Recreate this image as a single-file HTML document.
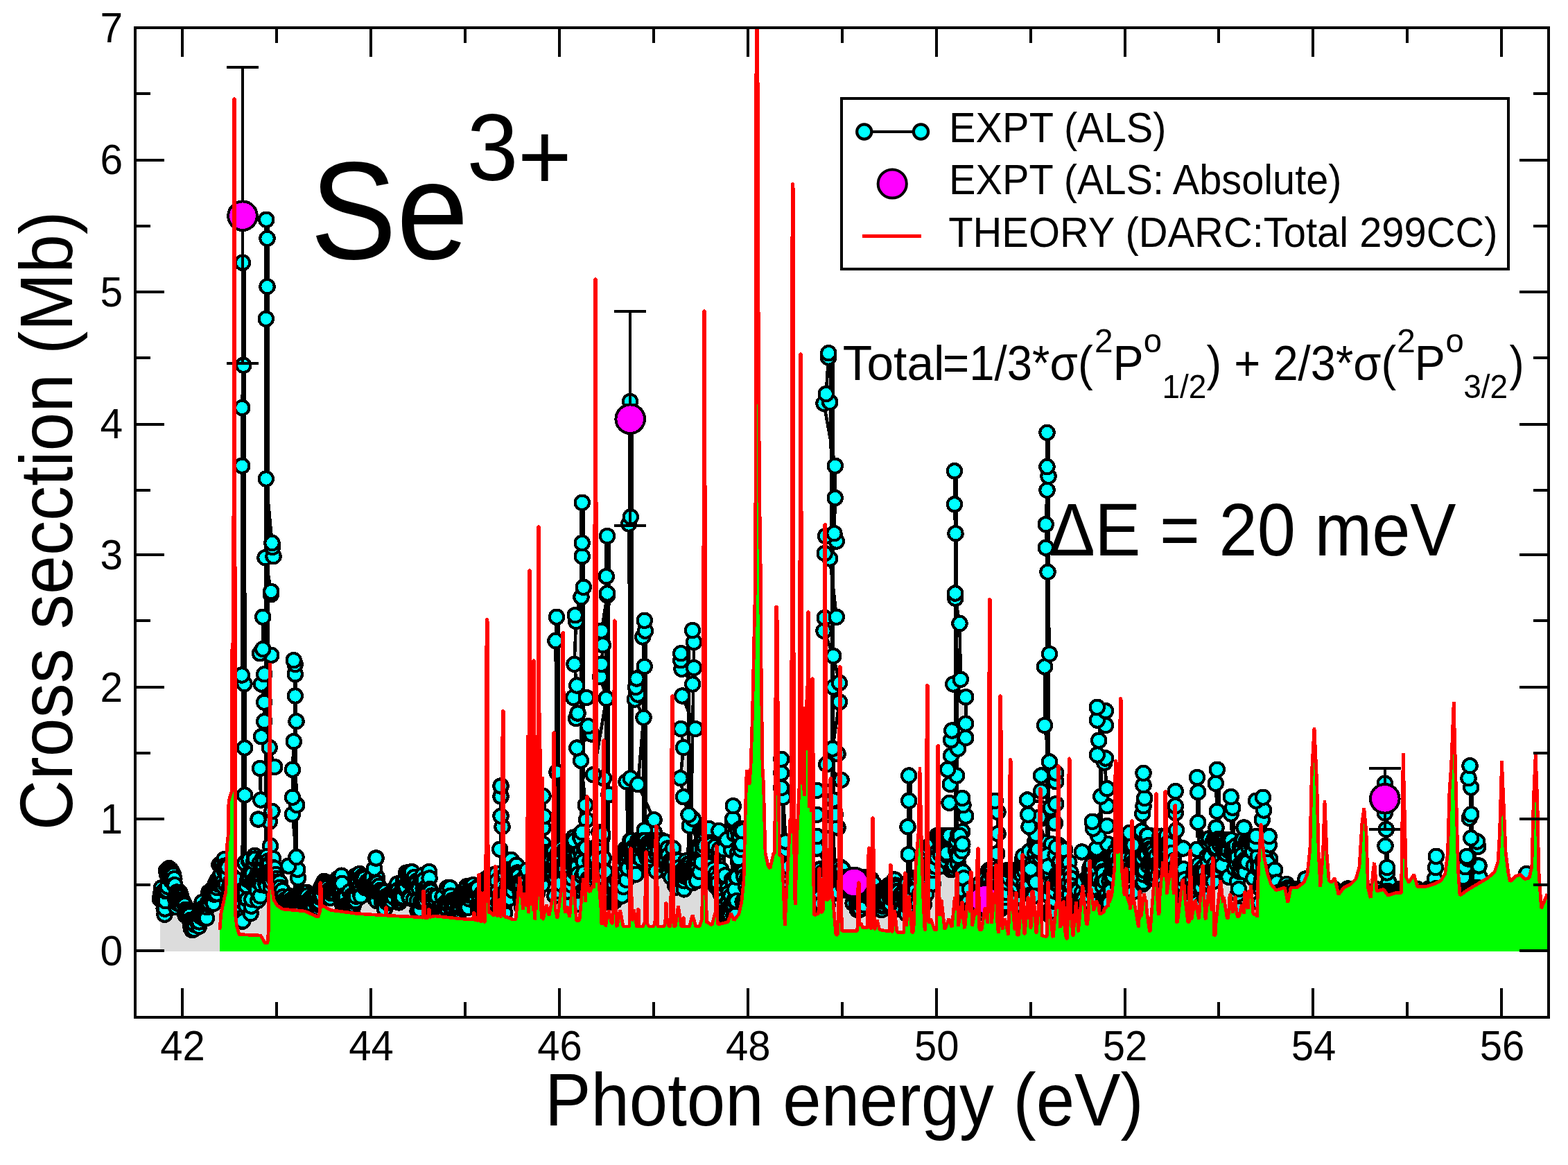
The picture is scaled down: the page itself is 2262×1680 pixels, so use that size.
<!DOCTYPE html>
<html lang="en"><head><meta charset="utf-8"><title>Se3+ photoionization cross section</title>
<style>html,body{margin:0;padding:0;background:#fff}body{width:2262px;height:1680px;overflow:hidden}svg{display:block}</style></head>
<body>
<svg width="2262" height="1680" viewBox="0 0 2262 1680" role="img" aria-label="Se3+ photoionization cross section versus photon energy">
<defs><clipPath id="cp"><rect x="194.8" y="40.1" width="2039.3" height="1426.9"/></clipPath></defs>
<rect width="2262" height="1680" fill="#fff"/>
<g clip-path="url(#cp)" shape-rendering="crispEdges">
<path d="M231 1371.6L231 1296.6L231.7 1292.2L232.4 1288L233 1280.3L233.5 1291.9L234.2 1299.1L234.7 1298.6L235.4 1289.6L236.2 1285.3L236.7 1310.1L237.5 1318.7L238 1310.6L238.7 1299.1L239.2 1285.2L239.9 1255.5L240.5 1283.8L241.3 1261.7L241.8 1278.5L242.4 1256L243.2 1260.9L243.8 1252.1L244.7 1266.5L245.5 1257.7L246 1268.9L246.5 1254.6L247.3 1255.9L248 1257.1L248.5 1258.1L249 1267.9L250 1261.6L250.5 1272.8L251.3 1267.2L251.9 1276.2L252.4 1276.3L253 1293L253.6 1298.1L254.2 1308L255.1 1286.6L255.9 1300.2L256.8 1302.9L257.6 1296.9L258.5 1293L259.4 1286.9L260.3 1290.1L261.2 1293.2L261.9 1305.6L262.7 1297.4L263.6 1300.3L264.3 1300.6L265.1 1302.3L265.7 1303.4L266.6 1305.2L267.4 1319.5L268.2 1311.8L269 1314.3L269.9 1315.1L270.5 1313.1L271.4 1315.1L271.9 1319.8L272.6 1317.8L273.4 1319.9L273.9 1327.4L274.6 1326.8L275.1 1334.4L275.7 1338.5L276.4 1330.8L277.3 1341.2L277.9 1334.2L278.4 1335.2L279.1 1327.7L279.9 1339.9L280.8 1333.1L281.7 1324.5L282.5 1325.2L283.1 1323.5L283.9 1325.1L284.8 1328L285.7 1330.7L286.4 1323.7L286.9 1336L287.4 1329.4L287.9 1320.6L288.7 1321.2L289.2 1315.6L290 1306.3L290.7 1308.4L291.6 1301.1L292.4 1313.7L293.1 1320L293.8 1309.1L294.5 1324.5L295.1 1321.3L295.8 1318.2L296.7 1314.1L297.5 1323.6L297.9 1324.1L298.5 1308.2L299.4 1303.8L299.9 1301.7L300.6 1303.7L301.3 1286.8L302.1 1302.2L302.9 1294.2L303.8 1296.4L304.4 1288L304.9 1292.3L305.4 1282.9L305.9 1284.9L306.4 1285.4L307.2 1296.3L307.7 1285L308.2 1302.9L309.2 1289.7L310.1 1277.8L310.8 1281.8L311.2 1273.5L311.9 1277.8L312.4 1288.7L313.3 1280.2L313.9 1269L314.8 1267.5L315.6 1275.4L316.5 1247L317.2 1275.8L317.9 1275.2L318.6 1267.2L319.2 1259.6L319.9 1247.8L320.7 1275L321.5 1271.9L322.1 1278.4L323 1253.9L323.7 1239.1L324.2 1248.7L325.1 1248.8L325.8 1275L326.5 1254.8L327.1 1253.3L327.9 1262.8L328.4 1250.8L329.3 1293.8L330.2 1281.3L330.9 1301.6L331.8 1276.1L332.6 1290.3L333.3 1292.2L333.8 1270.3L334.4 1280.3L335.1 1280.1L335.7 1281.6L336.5 1312.1L337.2 1265.5L337.7 1298.1L338.6 1310.3L339.3 1317.4L339.8 1288.5L340.5 1298.3L341.2 1294.7L341.7 1269.1L342.2 1315.6L342.9 1296L343.6 1300L344.2 1303L344.7 1292.2L345.3 1304.1L346.1 1315.6L346.9 1306.5L347.7 1323.6L348.4 1315.7L349.1 1328.8L349.8 1323.3L350.4 1328.2L351 1283.1L348.8 1242L353 1146.5L353 1078.5L352.5 986L348.8 973.5L349.2 671.8L349.2 588L351.2 526.8L350 378.8L352.5 384.8L353.8 1242L351.8 1285.4L352.6 1294.3L353.3 1244.6L354.1 1287.6L354.9 1306.1L355.8 1277.3L356.6 1296.9L357.5 1268.8L358.1 1264.6L358.8 1240.7L359.5 1239.4L360.3 1264.9L361.1 1257L361.7 1317.2L362.7 1306.7L363.3 1296.8L364 1259.9L364.5 1270.9L365.4 1275.1L366 1243.1L366.5 1271.7L367.3 1234L368 1238.6L368.7 1269.8L369.2 1280.8L369.9 1279.4L370.8 1283.6L371.5 1260.8L372.2 1298.5L372.8 1271.2L373.8 1264.3L374.6 1245.2L375.5 1292.3L376 1250.5L376.7 1266.1L377.4 1276.1L377.9 1253.8L378.8 1258.3L379.4 1237.2L380.2 1250.6L381.1 1240.5L381.8 1264.4L382.4 1259.5L383 1272.4L383.7 1264.4L381.8 1233.8L390 1219.8L388.8 1184.8L372.5 1181.5L392.5 1169.8L376.2 1153.5L375 1108L396.2 1106L388.8 1078L377 1062.2L381.2 1040.2L381.2 1012.8L377 986.5L381.2 972.2L391.2 944.8L375 942.2L379.2 936L379.2 889.8L390.8 857.2L391.2 853L382.5 804.2L394.5 802.2L393 789L392.5 783L383.8 690.5L383.8 459.8L385.5 413.2L385.5 343.8L384.2 316.8L386.8 322.8L386.8 1233.8L384.5 1277.4L385.1 1234.9L385.7 1254.5L386.2 1242L386.9 1247.4L387.4 1267.1L387.9 1258.1L388.7 1246.2L389.3 1269.5L390.1 1256L390.9 1279.3L391.6 1271.3L392.5 1255.5L393.3 1253.3L394 1238L394.7 1251.3L395.6 1267.3L396.2 1252.2L397.1 1261.6L398.1 1261.1L398.8 1294.7L399.7 1266.9L400.6 1271.6L401.3 1295.5L401.8 1313.1L402.8 1303L403.6 1272.3L404 1279.8L404.7 1293.9L405.3 1293.3L405.7 1309.6L406.5 1294.8L407.3 1284.2L408.2 1293.3L408.9 1300.2L409.6 1305.2L410.1 1308.3L410.8 1318.1L411.3 1308.3L412 1297L412.5 1303.3L413 1305.5L413.9 1303.9L414.7 1307.5L415.6 1295.5L416 1302.2L416.5 1295L417.1 1301.9L418 1292.5L419 1298.5L419.9 1308.2L420.5 1312.3L421.4 1296.9L422.3 1309.5L422.9 1302.1L423.5 1310.3L424 1317.8L424.5 1317.2L425.3 1293.6L423.2 1297L430 1266.2L429.2 1253.8L416.2 1248.8L427.5 1236L422 1174.2L428.2 1161L422 1149.8L422 1109.8L423.8 1069.2L427.5 1040.2L425.8 1003.5L425.8 972.2L425.8 958L423.8 952.2L426.2 958.2L428.2 1297L426.1 1313L426.9 1297.1L427.8 1293.3L428.3 1299.1L429.1 1302.6L429.7 1289.7L430.6 1298.4L431.4 1298.4L432 1295L432.8 1295L433.6 1287L434.2 1298.6L434.7 1287L435.6 1290.9L436.3 1298.5L437.1 1296.5L437.7 1294.3L438.3 1292.5L439.2 1287L439.8 1290.1L440.4 1287L441.1 1287L441.7 1287L442.6 1287L443.1 1291.5L444 1299.8L444.8 1307.4L445.3 1299.9L445.8 1300L446.6 1307.6L447.2 1301.2L447.8 1302.8L448.4 1309.8L449.2 1294.3L449.9 1298.4L450.8 1304.5L451.5 1305.6L452.2 1295.3L453 1297.9L453.4 1295L453.9 1297.2L454.8 1297.9L455.3 1297.6L456.2 1295.8L456.8 1293.8L457.6 1304.1L458.2 1311.2L458.7 1302.9L459.2 1309.8L460 1305L460.8 1301L461.3 1293.8L461.8 1283.2L462.7 1293.5L463.6 1279.4L464.5 1291.3L465 1281L465.6 1275L466.2 1273.9L467 1279.1L467.6 1270.8L468.3 1275.5L469 1275.6L469.7 1273.8L470.2 1281.7L471 1276.3L471.7 1277.8L472.4 1279.4L473.2 1285.1L474 1288.8L474.5 1283.8L475.1 1287.4L475.7 1287.4L476.4 1294.8L477.2 1284.9L478.1 1288.2L478.9 1281.7L479.7 1280.3L480.5 1279L481.1 1277.9L481.7 1286.9L482.2 1281.8L483 1274.7L483.7 1273.3L484.1 1272.4L484.8 1281.5L485.4 1270.2L486.3 1268.7L487 1267.3L487.7 1272.1L488.1 1273.8L488.6 1281.6L489.3 1278.8L490.1 1284.3L490.9 1294.3L491.4 1283.6L492 1280.2L492.6 1262.7L493.3 1274L493.8 1303.1L494.4 1299L494.8 1308.8L495.4 1291.8L496 1308.8L496.6 1311.3L497.6 1296.2L498.2 1304.4L498.9 1293L499.9 1305.2L500.7 1307.6L501.3 1312.2L502.1 1305L502.6 1313.2L503.5 1302.3L504.3 1286L504.8 1313L505.4 1313L506 1312.9L506.8 1292.5L507.4 1302.3L508 1312.8L508.8 1305.9L509.3 1300.1L510 1305.3L510.9 1291.5L511.7 1300.8L512.7 1299.2L513.2 1262.9L513.8 1292.7L514.4 1275L514.9 1264.9L515.7 1272.8L516.5 1271.4L517.2 1281.8L517.9 1281.7L518.6 1260.1L519.1 1278.5L519.7 1286.2L520.6 1292.3L521.2 1268.2L522.1 1266.2L522.5 1263.8L523.4 1264.1L523.9 1264.7L524.7 1265.6L525.5 1266.6L526.4 1279.1L526.9 1280.3L527.8 1277.8L528.7 1273.3L529.6 1271.5L530.4 1271.6L530.9 1275.3L531.5 1270.5L532 1270L532.5 1269.5L533 1269L533.7 1268.3L534.4 1267.6L535.1 1268.3L535.9 1266.1L536.8 1265.2L537.5 1276.8L538.2 1278L538.8 1278.6L539.6 1292.4L540.1 1294.9L540.8 1282.9L541.5 1291.4L542.1 1279.9L540 1280.8L543.8 1265L540 1252.5L542.5 1237.5L545 1243.5L545 1280.8L542.7 1295L543.5 1299.1L544.1 1273.2L545 1287L545.8 1282.8L546.5 1278L547.4 1285.1L548.1 1289.5L548.9 1283.9L549.7 1288.6L550.4 1286.2L551.3 1301.5L552 1290.1L552.7 1291.8L553.2 1302.8L553.8 1297.1L554.5 1291.7L555 1310.6L555.7 1285.8L556.6 1294.9L557.5 1292.3L558.2 1301.2L559.1 1298.4L559.8 1302.1L560.7 1294.9L561.6 1289.9L562.5 1300.3L563.1 1291.9L563.7 1291.1L564.6 1291.7L565.2 1293.6L565.8 1300L566.5 1292.2L567 1287.8L567.7 1293.6L568.5 1284.6L569.3 1283.9L569.9 1282L570.5 1280.2L571.5 1278.9L572.3 1276.4L573.2 1274.6L574.1 1283.8L574.9 1290.8L575.6 1301.4L576 1299.5L576.7 1292.1L577.3 1295.4L578.2 1288.5L578.7 1293.2L579.6 1293.6L580.5 1282.2L580.9 1293.5L581.8 1270.7L582.7 1272.6L583.4 1281L584 1268.8L584.8 1277.6L585.5 1279.3L586 1258.8L586.6 1258.7L587.4 1258.5L588.4 1260.6L588.9 1270.4L589.8 1258L590.5 1293.4L591.4 1295.1L591.9 1270.9L592.4 1257.5L593.3 1273.3L594.1 1257.2L594.7 1273L595.3 1276.9L596 1278.3L596.7 1297.4L597.6 1265.1L598.3 1273.1L598.9 1282.4L599.7 1281.5L600.5 1270.9L601.2 1272.5L602.1 1299L602.6 1314L603.2 1314L603.7 1278L604.5 1281L604.9 1309.5L605.6 1314L606.2 1312.2L607 1300.2L607.6 1268.7L608.5 1299.1L609.4 1295.8L610.2 1261.9L610.7 1281.2L611.2 1284.4L611.7 1268.8L612.4 1283.4L612.9 1296.9L613.6 1299.6L614.4 1280.3L615 1285.5L615.9 1293L616.6 1292L617.4 1277L618.3 1288.3L618.9 1257L619.6 1266.4L620.1 1282.1L620.8 1291.9L621.3 1285.4L622.1 1306.5L623 1291.7L623.7 1316.2L624.2 1299.6L625.1 1316.2L625.9 1318.8L626.7 1294.5L627.4 1319.1L628.3 1319.3L628.8 1319.4L629.5 1301.1L630.2 1314.5L630.7 1292.6L631.4 1315.1L632 1311L632.7 1310.6L633.7 1320.4L634.3 1320.6L635.1 1320.4L636 1308.2L636.5 1314.5L637.1 1314.4L637.9 1313.1L638.6 1293.1L639.2 1315.9L640.1 1310.6L641 1316.7L641.6 1322L642.2 1302.3L642.9 1309.3L643.6 1307.4L644.3 1305.8L645 1280.5L645.6 1311.1L646.1 1300.5L647.1 1304.2L648 1296.4L648.8 1298.4L649.4 1280.3L650.3 1291.7L651.2 1320.7L651.8 1307L652.5 1298.4L653.4 1306L654.2 1315.1L654.8 1299.6L655.7 1322L656.2 1304.7L657.1 1320.2L657.8 1322L658.3 1322L659.1 1315.7L659.7 1300.2L660.6 1311.1L661.2 1295.5L662.1 1316.1L662.8 1301.8L663.5 1314.4L664.2 1309.5L664.7 1290.3L665.4 1293.7L666.1 1302.3L666.9 1286.8L667.8 1302.2L668.8 1308.7L669.3 1289.5L670.1 1301.2L670.9 1287.3L671.4 1291.9L671.8 1306.5L672.5 1292.2L673.3 1278.2L674.1 1278.5L674.6 1286L675.2 1308.9L676.1 1289.5L677 1296.4L677.9 1291.3L678.8 1277.4L679.5 1287.3L680.1 1285L680.9 1276.8L681.6 1276.6L682.4 1276.3L683 1286.5L683.8 1283.3L684.7 1293L685.5 1291.5L686 1294.9L687 1286.4L687.7 1285.3L688.5 1280L689.2 1280.9L689.9 1311.4L690.6 1302.7L691.3 1300.9L692 1292.9L692.9 1313.2L693.6 1310.2L694.5 1305.7L695.1 1288.8L695.7 1307.4L696.2 1291.4L696.8 1298.4L697.4 1317.6L698.2 1298.3L698.6 1295.9L699.4 1311.3L700 1301L700.9 1267.5L701.4 1270L702.4 1271.6L703.2 1266.1L703.8 1294.5L704.7 1276.2L705.5 1265.7L706.4 1265.6L706.9 1276.9L707.8 1279.5L708.6 1291.7L709.4 1272.1L710.1 1273.7L710.7 1275.1L711.4 1298.6L712.1 1300.6L712.9 1261L713.6 1276.9L714.3 1260.6L715.2 1265.8L715.7 1260.1L716.2 1259.9L717 1270.4L717.8 1285.7L718.6 1315.8L719.3 1301.4L720.1 1321L720.5 1304L721 1296.5L721.8 1293L720 1267.8L737.5 1239.8L721.2 1224.8L724.5 1192.2L722.5 1176.8L722.5 1148.5L722.5 1133.5L725 1139.5L725 1267.8L722.5 1288.1L723.2 1302.8L724 1306.3L724.5 1277.6L725.5 1307.2L726 1276.4L726.5 1288.3L727.1 1308L728 1316.5L728.5 1262L729 1285.2L729.6 1289L730.5 1298.8L731.3 1281.7L731.9 1254.7L732.7 1274.3L733.4 1254.2L734.1 1282L734.7 1295.6L735.6 1271.4L736.5 1281L737.3 1270.8L737.8 1266L738.7 1277.5L739.5 1284.2L740 1284.4L740.5 1251.6L740.9 1273.2L741.4 1255.7L742 1264.6L742.7 1262.7L743.2 1269L743.6 1248.9L744.3 1272.7L745.1 1247.6L745.6 1275.2L746.5 1258.5L747.1 1258.9L748 1262.7L748.8 1272.3L749.7 1274.4L750.6 1286.3L751.1 1295.2L751.7 1277.4L752.4 1288.3L753 1307.7L753.6 1292.6L754 1293.5L755 1303L755.5 1267.4L756.5 1295.5L757.1 1276.6L757.6 1276.6L758.4 1286L758.9 1264.5L759.8 1272.6L760.5 1254.4L761.4 1286.9L761.9 1279.9L762.3 1297.1L763.2 1300.6L764 1277.2L764.9 1287.3L765.7 1287.3L766.4 1268.1L767.1 1293.8L767.9 1275L768.6 1274.8L769.5 1286L770.1 1290.9L770.6 1295.3L771.3 1275.9L771.9 1286.1L772.3 1288.2L772.9 1283.5L773.6 1280.2L774.1 1279.8L775 1287.7L775.6 1277.4L776.1 1280L777 1269.8L777.9 1262.3L778.7 1268.9L779.4 1240.7L780.3 1238.8L780.9 1234L781.5 1232.3L782 1276L782.7 1259.9L783.3 1245.9L781 1240.3L783.5 1217.2L783.5 1193.5L784.8 1177.2L783.5 1148L786 1154L786 1240.3L784.1 1230.2L784.8 1250.5L785.6 1252.9L786.4 1257.3L787.2 1233L788 1248.5L788.8 1256.4L789.4 1229.1L789.8 1229L790.7 1229.3L791.3 1249.5L791.8 1228.6L792.3 1260L793.1 1240.4L793.7 1233L794.6 1232.1L795.4 1240.6L796.1 1261.8L796.6 1227.7L797.6 1227.5L798.4 1260.4L799.1 1227.2L799.8 1243.2L800.3 1291.9L800.9 1252.6L801.5 1266.8L802.4 1234.8L800.5 1236.4L803.5 1113.5L801.5 924L803 889.8L805.5 895.8L805.5 1236.4L803.3 1259.7L804 1236.7L804.5 1251.5L805.1 1251.1L805.8 1249.6L806.4 1226.9L807 1242.9L807.5 1285.6L808.4 1274.1L809.1 1241.8L809.9 1254.9L810.5 1222.8L811.1 1248.9L811.8 1249.2L812.4 1247.7L813.1 1255.6L813.8 1250.1L814.3 1226.8L815.1 1253.3L815.7 1231.5L816.4 1229.8L817 1230.8L817.9 1304.9L818.5 1285.5L819.1 1260.2L820 1268.6L820.6 1262.1L821.4 1257.9L822.2 1258L822.7 1233.1L823.4 1259.6L824 1259.4L824.5 1254.8L824.9 1276.5L825.6 1266.6L826.1 1246.9L826.7 1233.4L827.6 1207.6L828.3 1212.4L829.1 1257.7L829.9 1248.7L830.6 1254.6L831.3 1233.8L832.1 1253.4L832.7 1249.6L833.3 1233.1L833.7 1260.8L834.4 1303.7L835.3 1271.1L836.1 1272.4L836.8 1205.7L837.7 1227.7L838.3 1209.6L836 1210L846 1182.2L844.8 1161L838 1096.8L832.2 1078.5L853.5 1058.5L848.5 1047.2L831 1036L833.5 1028.5L827.2 1006L846 1006L832.2 988.5L828.5 957.8L831 896L829.8 887.2L838.5 861L841.8 846.8L839.8 802.2L839.8 783L839.8 724.8L842.2 730.8L841 1210L838.9 1237L839.4 1200L839.9 1263.2L840.8 1285.3L841.7 1242.5L842.6 1258.7L843.3 1223.5L844.3 1282.1L845.2 1222.4L846.1 1284.4L846.9 1277.9L847.7 1268.9L848.4 1267.3L849.1 1302.6L849.9 1302.6L850.5 1292.9L851 1302.5L851.6 1241L852.3 1266.6L853.2 1290.1L853.6 1302.3L854.6 1253.6L855.5 1287.2L855.9 1242.8L856.7 1292.6L857.5 1252.3L858.3 1258L858.9 1255.4L859.9 1265L860.4 1237.7L861.1 1220.4L862.1 1223.9L862.5 1225.5L863.2 1257.1L863.7 1262.6L864.5 1200L865.4 1247.9L866.2 1221.5L867 1223.1L867.9 1277.6L868.5 1208.3L869.1 1203L869.9 1241.7L870.8 1237.9L871.5 1292.2L872 1266L872.9 1256.9L873.6 1299.8L874.1 1295.9L874.6 1287L872.2 1210L878.5 1146L871 1122.2L856 1117.2L874.8 1007.2L866 976L867.8 957.8L869.8 930.2L867.8 909.8L876 858.5L876 855.5L874.8 831.2L876 773L878.5 779L877.2 1210L875.4 1298.1L876 1280.4L876.8 1288.5L877.8 1299.9L878.2 1300.6L879 1300.5L879.6 1300.5L880.2 1300.4L881.1 1300.4L881.8 1300.3L882.4 1290.1L883 1300.2L883.9 1300.2L884.8 1300.1L885.7 1300L886.2 1275.7L886.7 1299.2L887.6 1287.9L888.2 1297.4L889 1296.6L889.5 1296L890.2 1269.3L890.7 1286.2L891.6 1293.6L892.4 1292.7L892.9 1277.4L893.6 1281.3L894.1 1254.4L895 1276.9L895.7 1259.1L896.6 1274.7L897.4 1291.9L897.9 1268.1L898.5 1248.7L899.3 1278.8L900.1 1237L900.8 1260.2L901.5 1257.2L902.3 1240.7L902.8 1224.1L903.3 1238.9L903.8 1268.9L904.5 1242.6L905.1 1225.4L905.9 1252.1L906.8 1228.8L907.2 1235.7L907.8 1221.2L908.6 1228.1L906.5 1222L903.5 1127.2L909.8 1122.2L907.2 755.5L909.8 745.5L909 579L911.5 585L911.5 1222L909.4 1212L910.2 1212L911 1212L911.9 1225.9L912.5 1238.3L913 1240.6L913.8 1222.1L914.4 1221.9L915.4 1251.1L916.1 1261.3L916.7 1242.3L917.3 1260.8L918.1 1234.8L918.9 1221.3L919.4 1219.9L920.3 1212L921 1212L921.6 1216.1L922.1 1234.9L922.8 1212L923.4 1212L924.2 1220.8L925 1238.6L925.6 1218.2L926.6 1212L927.3 1212L928.1 1212L926 1222L943.5 1199.8L929.8 1197.2L943.5 1182.2L920.2 1131L928.5 1034.8L916 1008.5L920.2 1001.5L917.2 991L918.5 978.5L929.8 961L927.2 918.5L931 909.8L929.8 894.8L932.2 900.8L931 1222L928.7 1212L929.5 1212L930.2 1216.6L930.9 1212L931.5 1232.6L932 1219.3L932.9 1235.1L933.6 1237.7L934.2 1234.4L934.9 1216.1L935.7 1232.1L936.2 1237.5L937 1248.2L937.6 1238.3L938.2 1219L939 1225.1L939.6 1212L940.4 1222.3L941.3 1232.7L942 1212L942.8 1212L943.3 1213.5L943.9 1212L944.4 1225.8L945.1 1212L945.8 1212L946.5 1256.1L947.2 1219.4L947.8 1232.5L948.3 1216.5L949.1 1212L949.7 1226.5L950.2 1213.7L950.7 1212L951.3 1214.7L952.1 1212L952.8 1212L953.4 1234.8L954.1 1218.5L955 1212L955.7 1227.5L956.2 1231.8L956.8 1248L957.6 1226L958.2 1241.3L958.7 1225.3L959.4 1214L960.1 1243.2L960.8 1238.4L961.3 1226.2L962.2 1229L963 1252L963.5 1223.4L964.1 1233.2L964.8 1258.9L965.5 1247.4L966.2 1242.9L966.9 1247.4L967.8 1240.7L968.3 1265L969 1244.8L969.6 1240.3L970.2 1244.8L971 1223.4L972 1241.9L972.6 1239.6L973.3 1243L974 1276.6L974.9 1264.1L975.8 1279.5L976.6 1257.9L977.3 1263.7L978.1 1250.4L978.7 1241.1L979.5 1251.2L980.3 1267.5L981 1266.3L981.5 1268.5L982.3 1263.2L982.9 1267.9L983.6 1269.3L984.1 1255.3L985 1256L985.9 1258.8L986.8 1282.4L987.3 1270.3L988 1263.7L988.8 1250.3L989.7 1241.5L990.7 1259.5L991.1 1260.7L991.6 1261.5L992.3 1252.9L993.1 1245.5L991 1250L994.8 1191L999.8 1181L993.5 1174.8L986 1149.2L981.5 1122.2L986 1078L982.2 1051L1003 1051L984.2 1003.5L999.2 986.5L983.5 964.8L1001 963L982.2 952.2L982.2 942.2L1001 926L999 909L1001.5 915L996 1250L994 1259.5L994.9 1263.6L995.7 1263.5L996.5 1244.2L997 1264.9L997.6 1260.1L998.3 1264.8L999.1 1273.2L999.7 1255.7L1000.3 1246.9L1001.2 1251.8L1001.7 1250.1L1002.7 1241.8L1003.4 1239.4L1004.1 1254.5L1005 1270.2L1005.7 1241.5L1006.2 1252.9L1006.9 1239.6L1007.4 1224L1008.2 1219.3L1008.9 1224.8L1009.4 1257.2L1010.4 1197.8L1011.3 1237.8L1011.8 1243.4L1012.6 1196.6L1013.1 1209.1L1013.8 1224.4L1014.3 1217.6L1015.1 1206.8L1016 1200.4L1016.5 1219.6L1017 1195L1017.9 1195L1018.7 1195L1019.3 1195L1020.1 1195L1020.9 1195L1021.5 1198.7L1022.2 1195L1022.7 1195L1023.2 1230.1L1023.9 1246.8L1024.7 1255.3L1025.6 1251.8L1026 1218L1026.9 1265.5L1027.5 1245.2L1028.5 1267.6L1029.1 1253.5L1030 1229.9L1030.6 1264.4L1031.1 1227L1031.8 1220.9L1032.6 1278.3L1033.3 1259.4L1033.8 1276.7L1034.5 1266.9L1035.2 1280L1035.8 1273.1L1036.6 1229.5L1037.4 1198.1L1038.2 1224.4L1039.1 1286.9L1039.6 1289.1L1040.2 1254L1040.9 1287.3L1041.7 1320L1042.4 1299.4L1042.9 1274.3L1043.8 1264.5L1044.3 1224.5L1045.2 1318.6L1045.9 1262.5L1046.4 1304.9L1047 1320L1047.5 1312.9L1048.3 1317.8L1048.8 1311.7L1049.6 1281.1L1050.6 1300.4L1051 1288.2L1051.7 1315.1L1052.3 1320L1053 1320L1053.5 1320L1054 1306.6L1054.5 1291.9L1055.1 1304.9L1055.9 1268.6L1056.4 1269.6L1057.2 1303.9L1054.8 1205L1055.2 1226L1048.5 1211L1059.8 1203L1057.2 1186L1057.2 1181L1057.8 1162.2L1060.2 1168.2L1059.8 1205L1057.7 1271.2L1058.6 1320L1059.3 1298.5L1060 1282.9L1060.6 1320L1061.5 1263.9L1062.3 1299.3L1063 1264.9L1063.8 1230.5L1064.5 1197.8L1065.3 1238.2L1066.1 1207.5L1066.7 1205.7L1067.5 1221.1L1068.3 1195L1068.8 1224.8L1069.6 1198.8L1070.3 1217.1L1071.1 1198.3L1071.6 1300.5L1072.5 1257.9L1073.3 1264.4L1073.8 1298.5L1074.7 1300.2L1075.5 1297.2L1076.3 1278.3L1076.8 1302.3L1077.4 1305L1078.3 1266.1L1078.9 1268.5L1079.8 1261.2L1080.5 1280.9L1081.3 1291.4L1081.9 1267.7L1082.4 1252.2L1082.9 1270.7L1083.5 1277.9L1084.5 1272.1L1085.2 1267.8L1086 1286.6L1086.6 1277.3L1087.4 1299.1L1088 1292.3L1088.8 1313.9L1089.3 1312.4L1090 1270.8L1090.6 1316.5L1091.2 1309.8L1092.1 1286.9L1092.8 1297.3L1093.3 1296.4L1094 1280.6L1094.5 1309.7L1095.3 1299.3L1095.9 1280.1L1096.8 1306.8L1097.5 1303.7L1098.4 1301L1099.2 1289.2L1099.8 1265.1L1100.4 1295.3L1101 1282.6L1101.9 1282.9L1102.8 1299.2L1103.7 1278.5L1104.2 1314.7L1104.9 1270.2L1105.8 1271.9L1106.4 1289.6L1106.9 1278.9L1107.4 1281L1107.9 1283.6L1108.5 1273.7L1109.4 1280.2L1110.3 1313.2L1111.2 1284.6L1111.9 1287.9L1112.5 1287.5L1113.4 1283.6L1114 1287.1L1114.8 1293.2L1115.3 1269.6L1116.2 1282.5L1116.9 1273L1117.8 1262L1118.6 1304.4L1119.3 1294.2L1119.9 1288.1L1120.8 1289.6L1121.3 1270.3L1122 1279.8L1122.6 1291.1L1123.2 1274.6L1124 1291.1L1124.6 1288L1125.3 1280.7L1126 1289.8L1126.8 1285.8L1127.6 1269.7L1128.4 1299.3L1129.4 1267.8L1127.2 1260L1134.8 1226L1133.5 1213.5L1129.8 1149.8L1127.2 1136L1127.2 1114.8L1127.2 1094.8L1129.8 1100.8L1132.2 1260L1130 1284.9L1130.8 1250L1131.2 1279.1L1132.1 1266.8L1132.8 1292.6L1133.5 1284.5L1134.4 1320L1135.2 1267.9L1135.8 1273.5L1136.6 1281.6L1137.6 1250L1138.1 1280.2L1138.6 1290.7L1139.3 1288.3L1140.2 1288L1140.8 1298.4L1141.5 1302.6L1142.1 1318.8L1143.1 1311.4L1143.7 1320L1144.2 1316.2L1144.9 1320L1145.7 1320L1146.4 1320L1147 1298.9L1147.7 1320L1148.4 1281.1L1149.3 1293L1150 1305.6L1150.5 1293L1151.1 1307.6L1151.6 1305.1L1152.5 1290.9L1153 1289.6L1153.7 1320L1154.3 1320L1154.7 1319.3L1155.5 1320L1156.2 1320L1156.8 1320L1157.4 1310L1158 1320L1158.7 1308.9L1159.4 1290.1L1160.1 1292.7L1160.6 1302.1L1161.5 1292.7L1162.4 1307.9L1163.1 1301.9L1163.9 1279.9L1164.4 1320L1165.1 1305.5L1166 1320L1166.5 1306.9L1167.4 1311L1168.2 1302.5L1168.9 1290.4L1169.6 1275.7L1170.4 1267.1L1171.1 1273.7L1171.7 1306.1L1172.5 1294.9L1173.1 1272.6L1174 1291.4L1174.7 1276.6L1175.2 1282.1L1176.1 1287.5L1176.6 1279.1L1177.5 1278.6L1178.2 1281L1179.1 1295.7L1179.8 1268.6L1180.7 1265.4L1181.5 1283L1182.1 1288.7L1182.6 1253.4L1183.4 1253.7L1184.1 1292.4L1185 1303.1L1185.6 1276.1L1186.1 1270.9L1186.8 1258.2L1187.6 1271.7L1188.1 1260.9L1188.7 1271.4L1189.4 1273L1190.1 1269L1191 1254.6L1192 1253.5L1192.7 1263.5L1193.5 1305.5L1194.2 1279L1194.9 1278L1195.6 1251.6L1196.3 1253.8L1197.2 1261.2L1197.9 1250L1198.6 1273.1L1199.1 1250L1200 1255.4L1200.7 1250L1198.5 1260L1178.5 1223.5L1178.5 1206L1208.5 1193.5L1178.5 1174.8L1204.8 1174.8L1202.2 1153.5L1178.5 1139.8L1213.5 1124.8L1192.2 1102.2L1208.5 1087.2L1201 1079.8L1211 1012.2L1202.2 991L1211 984.8L1202.2 946L1188.5 909.8L1189.8 891L1206.8 889.8L1197.2 805.5L1189.8 798L1206.8 780.5L1191 773L1203.5 769.2L1204.8 718L1204.8 671.8L1188.5 581.8L1197.2 580L1191.8 568L1195 515.5L1195.2 509.2L1197.8 515.2L1203.5 1260L1201.2 1250L1201.9 1250L1202.7 1279.1L1203.5 1288.2L1204 1278.7L1204.6 1261.8L1205.4 1265.2L1206 1250L1207 1257.2L1207.4 1261.1L1208.2 1265.2L1208.6 1286.6L1209.5 1265.3L1210 1252.7L1210.6 1250L1211.4 1250L1211.8 1250L1212.7 1266.9L1213.5 1265.7L1214.4 1256.3L1215.2 1253L1215.9 1265.3L1216.5 1277.8L1216.9 1278.5L1217.5 1268L1218.1 1268L1218.8 1268L1219.4 1271.1L1220 1268L1220.8 1268L1221.4 1278.7L1222 1271.8L1222.9 1283.7L1223.5 1282.4L1224.3 1284.9L1225 1268.4L1225.9 1273L1226.6 1268L1227.4 1274.3L1227.8 1268L1228.7 1282.8L1229.7 1275L1230.2 1271.9L1230.6 1302.4L1231.4 1286.6L1232.3 1286.8L1233.2 1270.6L1233.9 1294L1234.4 1283L1234.9 1293L1235.6 1280.3L1236.3 1305.5L1236.9 1312L1237.9 1312L1238.5 1312L1239.4 1295.1L1240.1 1312L1240.7 1310.5L1241.2 1302.3L1241.9 1299.3L1242.8 1294.8L1243.4 1301.4L1243.9 1272.3L1244.5 1301.7L1245.1 1293.6L1245.7 1292.6L1246.5 1275.2L1247.1 1305.3L1247.9 1290.6L1248.4 1286.6L1249.2 1283.8L1249.9 1272.6L1250.4 1274.8L1251.3 1280.4L1252.1 1281.7L1252.9 1268L1253.7 1283.4L1254.6 1272.4L1255.5 1278.3L1256.2 1271.9L1256.7 1268L1257.2 1276.9L1257.9 1287.6L1258.8 1273.5L1259.3 1300.3L1259.9 1280.4L1260.8 1274.6L1261.3 1291.3L1262.1 1287.2L1262.8 1297.6L1263.2 1293.5L1263.8 1291.6L1264.5 1302.5L1265.2 1287.4L1266.1 1299.8L1266.9 1303.9L1267.8 1309.1L1268.5 1295.5L1269.4 1287.5L1270.1 1295.7L1270.9 1312L1271.5 1310.4L1272.2 1312L1272.9 1306.7L1273.6 1283.5L1274.3 1296.1L1275 1305.6L1275.7 1300.6L1276.6 1296.5L1277.2 1281.2L1278.1 1291.7L1278.6 1297.6L1279.1 1295.8L1279.9 1286.4L1280.6 1281.1L1281.4 1276.9L1282.2 1289.3L1283.1 1288.8L1283.6 1294.2L1284.4 1308.2L1285 1304.5L1285.6 1275.7L1286.2 1295.1L1287 1288.7L1287.8 1293.3L1288.4 1282.7L1288.9 1288.4L1289.4 1277.5L1290.1 1273.1L1290.6 1268.5L1291.4 1276.6L1292.2 1281.9L1293 1280.3L1293.7 1309.4L1294.4 1284.9L1295.2 1286L1295.7 1285.8L1296.6 1310.7L1297.1 1305.3L1297.8 1300.3L1298.6 1301.1L1299.3 1297.1L1299.8 1290.2L1300.7 1291.1L1301.4 1312L1302.3 1287.4L1303.2 1289.3L1303.9 1289.9L1304.6 1284.5L1305.2 1299.7L1305.9 1300.2L1306.6 1315.9L1307.3 1307.2L1307.8 1317.8L1308.3 1295.6L1308.8 1284.7L1309.4 1273.5L1309.9 1297.6L1310.8 1308.3L1308.8 1243.8L1310.8 1232.2L1309.5 1192.2L1311.2 1154.8L1311.2 1118.5L1313.8 1124.5L1313.8 1243.8L1311.7 1289.9L1312.2 1294.4L1312.8 1287.4L1313.4 1297.2L1314.2 1288.4L1315 1310.5L1316 1311.1L1316.8 1318.8L1317.5 1291.3L1318 1307.8L1318.5 1321.4L1319.4 1272L1319.9 1306.9L1320.7 1283.1L1321.5 1265.6L1322.3 1309.6L1323.1 1322.2L1323.6 1266.6L1324.2 1302.8L1324.9 1322.5L1325.8 1322.6L1326.3 1289.8L1327.2 1262.7L1327.9 1323L1328.9 1261.6L1329.8 1293.4L1330.6 1270.5L1331.3 1272.4L1332.3 1254.7L1332.8 1304.2L1333.7 1247.9L1334.6 1287.2L1335.2 1266.9L1336.1 1289.7L1337 1230.9L1337.8 1244.6L1338.6 1230.5L1339.4 1224.1L1340.1 1267.3L1341 1258.7L1341.7 1218.9L1342.6 1242.5L1343.3 1259.9L1343.9 1264.3L1344.4 1245.6L1345 1257.3L1345.9 1274.6L1346.6 1218.5L1347 1255.3L1347.7 1239L1348.2 1249.2L1348.7 1246.1L1349.6 1249.6L1350.2 1230L1350.9 1236.1L1351.5 1236.7L1352 1205L1352.9 1206.7L1353.7 1205L1354.6 1206.9L1355.4 1205L1356.3 1222.1L1356.9 1232.5L1357.8 1220.9L1358.6 1205L1359.4 1205L1360.2 1248.9L1361.1 1205L1361.7 1205L1362.3 1205L1362.8 1205L1363.6 1223.7L1364.6 1218L1365.5 1242L1366.1 1212.6L1366.8 1233.7L1367.4 1205L1368 1205L1368.5 1205L1369 1211.2L1369.9 1205L1370.7 1205L1371.5 1222.7L1372.1 1254.2L1372.9 1205L1373.6 1205L1374.3 1219.2L1375.1 1222.4L1375.8 1252.8L1376.5 1248L1377 1205.2L1377.7 1205L1378.4 1222.1L1376 1215L1382 1244.8L1365.8 1230.2L1369.5 1204.8L1388.2 1199.2L1393.2 1176.8L1389.5 1161L1369.5 1157.8L1388.2 1151L1370.8 1131L1380.2 1118.5L1367 1109.8L1372 1089.8L1382 1079.8L1372 1067.2L1393.2 1064L1373.2 1053.5L1393.2 1043.5L1393.2 1005.2L1375.2 986.5L1385.8 979.8L1384.5 899L1378.2 862.8L1378 855.5L1378.5 769.2L1377 727.2L1377 679.2L1379.5 685.2L1381 1215L1378.9 1225.3L1379.5 1224.3L1380.1 1212.7L1381 1231.4L1381.8 1205L1382.6 1234.8L1383.4 1205L1384.1 1205L1384.7 1205L1385.4 1255.8L1386.2 1256.3L1386.9 1255.3L1387.6 1227.1L1388.3 1217.3L1389.1 1257.4L1389.6 1283.8L1390.4 1266.3L1391.1 1311.5L1391.6 1313.9L1392.5 1325L1393.3 1301.4L1393.9 1302.9L1394.8 1325L1395.4 1304.3L1396.3 1325L1396.8 1300.3L1397.7 1325L1398.5 1311.6L1399.1 1282.2L1399.8 1325L1400.5 1325L1401.1 1325L1401.8 1325L1402.6 1324.3L1403.4 1310.6L1404.1 1308L1404.7 1321.6L1405.4 1320.8L1405.8 1320.2L1406.4 1313.6L1407.2 1306L1408 1317.5L1408.7 1304.2L1409.6 1303.5L1410.5 1296.3L1411.3 1287.1L1412.1 1293L1412.6 1292.7L1413.2 1281.2L1413.7 1274.1L1414.5 1305.9L1415.4 1305.1L1416.3 1282.8L1417.2 1315L1418.1 1294.9L1418.6 1310.1L1419.5 1302.1L1420.3 1285.1L1420.8 1270.5L1421.4 1266.9L1422.1 1285.9L1422.9 1293.9L1423.4 1295.6L1424.3 1283.2L1425.1 1271L1425.9 1296.6L1426.4 1255L1427.3 1267.6L1427.9 1255L1428.3 1278.3L1428.8 1255L1429.7 1287.8L1430.4 1260.8L1431 1255L1432 1275.8L1432.7 1270.3L1433.1 1281.4L1433.9 1285.2L1434.7 1281.2L1435.3 1256.1L1436.3 1255L1437 1276.5L1437.8 1260.5L1438.3 1267.7L1439 1266.1L1437 1265L1438.2 1231L1439.5 1202.2L1439.5 1171L1435.8 1154.8L1438.2 1160.8L1442 1265L1439.7 1284.4L1440.6 1284.8L1441.2 1277.3L1441.8 1259.6L1442.7 1282.7L1443.4 1288.3L1444.3 1310.1L1445.2 1262.4L1445.7 1280.5L1446.2 1274.9L1446.7 1297.7L1447.3 1304.5L1447.8 1300.5L1448.7 1278.7L1449.6 1303.1L1450.2 1294.1L1450.7 1282.8L1451.2 1278.5L1452 1287L1452.9 1272.5L1453.4 1255L1454.1 1255L1454.9 1255.9L1455.6 1265.5L1456.1 1255L1456.9 1255L1457.4 1255L1458.1 1255L1458.9 1255L1459.6 1255L1460.5 1255L1461.3 1255L1462.2 1255L1462.8 1273L1463.3 1261.8L1464.1 1271.9L1465 1288.8L1465.5 1274.3L1466.2 1308L1466.8 1304.2L1467.3 1294.9L1468.2 1293L1468.8 1282.5L1469.3 1278.6L1470.1 1267.8L1470.7 1255L1471.6 1255L1472.2 1260L1472.9 1255.1L1473.8 1259.9L1474.4 1261.8L1475.2 1238.9L1476.1 1234.5L1477 1276.2L1477.7 1250.4L1478.3 1256.9L1479.2 1282.1L1479.9 1280.1L1480.5 1249L1481.5 1285.4L1482.4 1284.9L1483.3 1248.3L1484.2 1243.4L1484.8 1227.9L1485.3 1267.6L1485.8 1276.2L1486.5 1290.4L1487 1262.8L1487.8 1256.1L1488.4 1246.8L1489.1 1289.7L1489.9 1253.2L1490.6 1261.2L1491.5 1292L1492.2 1254.8L1492.8 1215L1493.4 1231.2L1494.1 1272.3L1495 1242.8L1495.7 1242.6L1496.6 1215L1497.3 1215L1498.1 1215L1498.6 1215L1499.5 1223L1500 1226.9L1500.9 1236.3L1501.6 1220.1L1502.5 1215L1503 1215L1503.7 1230.9L1504.3 1220L1504.8 1215L1505.4 1230.3L1506.3 1215L1507 1215L1507.8 1215L1508.4 1221.3L1509 1215L1509.5 1282.4L1510.2 1277.3L1508 1225L1514.5 1258.5L1487 1253.5L1524.5 1242.2L1497 1224.8L1527 1218.5L1517 1217.2L1494.5 1203.5L1484.5 1192.2L1522 1187.2L1499.5 1178.5L1483.2 1174.8L1515.8 1164.8L1523.2 1159.2L1482 1153.5L1502 1141L1523.2 1127.2L1502 1118.5L1523.2 1114.8L1514 1098.5L1507 1046L1507 961.5L1514 943L1511.5 824.8L1508.8 789.8L1508.8 756.2L1510.5 706.8L1512.5 686.8L1510.5 673L1510.5 623.8L1513 629.8L1513 1225L1510.7 1233.4L1511.3 1282.5L1511.9 1249.5L1512.3 1287.8L1513 1275L1513.8 1292.1L1514.7 1320L1515.7 1312L1516.1 1320L1516.9 1280.5L1517.5 1281.7L1517.9 1280.9L1518.6 1273.4L1519.5 1313.6L1520.4 1299.9L1521.2 1298L1521.8 1285.4L1522.6 1233.6L1523.5 1274.2L1524.1 1221.6L1524.6 1261.6L1525.2 1273.6L1526 1267.8L1526.8 1263.7L1527.4 1275.7L1527.9 1244.2L1528.9 1269.5L1529.5 1242.4L1530.3 1272L1531 1262.8L1531.5 1291.4L1531.9 1267.4L1532.5 1265.2L1533.1 1281.6L1534 1270.4L1534.8 1230.2L1535.3 1287.7L1536.2 1225.5L1536.8 1289.3L1537.8 1267.8L1538.6 1246.5L1539.4 1306.4L1540.2 1308.6L1540.7 1274.8L1541.4 1253.8L1542.3 1243.5L1543 1289.9L1543.9 1310.9L1544.5 1258.2L1544.9 1266.5L1545.5 1277.3L1546 1301.1L1546.5 1305.4L1547.2 1310.5L1547.6 1315L1548.2 1315L1549.1 1315L1549.6 1315L1550.5 1315L1551.1 1301.2L1551.8 1285.6L1552.4 1290L1553.1 1282.6L1553.8 1295.1L1554.3 1315L1555.1 1284.1L1555.8 1298.4L1556.5 1307.7L1557.3 1299.2L1558.2 1304.8L1559.1 1315L1559.7 1298.3L1560.3 1315L1561 1287.2L1561.8 1296.9L1562.7 1271.2L1563.5 1296.4L1564 1315L1564.8 1315L1565.5 1315L1566.1 1315L1566.7 1303.3L1567.5 1315L1568.2 1308.7L1568.6 1285.2L1569.3 1264.9L1570.1 1291.3L1570.9 1279.7L1571.4 1261.4L1572 1253.5L1572.8 1250.7L1573.7 1263.5L1574.4 1275.6L1574.9 1246.5L1575.7 1260.5L1576.2 1276.4L1576.8 1315L1577.7 1288.4L1578.5 1271.6L1579.2 1279.5L1579.9 1265L1580.5 1302.5L1581.3 1266.9L1582.2 1267.3L1582.9 1263.1L1583.5 1253.9L1584.1 1237.8L1584.9 1267.4L1585.6 1232L1586.5 1241.6L1587.3 1246.5L1587.9 1241.7L1585.8 1242L1592 1243.5L1560.8 1228.5L1582 1223.5L1598.2 1217.2L1584.5 1206L1577 1194.8L1597 1191L1575.8 1184.8L1597 1162.2L1588.2 1148.5L1597 1137.2L1593.2 1099.8L1595 1093.5L1582.8 1088.5L1585.2 1067.8L1595 1046L1582.8 1038.5L1595 1025.2L1582.8 1019.8L1585.2 1025.8L1590.8 1242L1588.6 1246.1L1589.2 1250.3L1589.9 1271.6L1590.7 1278.2L1591.4 1256.6L1591.9 1259.4L1592.5 1296.4L1593.2 1310.9L1593.7 1270.7L1594.3 1292.4L1595.1 1307L1595.9 1315L1596.5 1315L1597.1 1289.3L1597.6 1308.8L1598.2 1301.8L1598.9 1298.3L1599.8 1302.2L1600.6 1270.7L1601.2 1280.4L1602.1 1261.5L1602.7 1284L1603.5 1240.9L1604.2 1265.2L1605 1252.8L1605.5 1263.7L1606.1 1253.6L1606.8 1241.5L1607.3 1231.5L1608.1 1252.5L1608.9 1229.6L1609.4 1227L1610.1 1234.7L1610.7 1246.2L1611.4 1249L1612 1252.1L1612.9 1245.9L1613.5 1279.2L1614.1 1217.2L1615.1 1261.1L1615.6 1308.6L1616.5 1233.2L1617.3 1241.9L1618 1253L1618.7 1229L1619.5 1226.8L1620.3 1209.2L1621 1254.6L1621.7 1237.4L1622.2 1233L1622.9 1211.2L1623.7 1234.4L1624.6 1205L1625.5 1238.2L1626 1262.2L1626.8 1210.5L1627.6 1250.4L1628.5 1248.5L1629.1 1254.2L1629.6 1258.3L1630.2 1254.2L1631 1212.9L1631.6 1209.6L1632.5 1215.9L1633.3 1237.2L1633.8 1205L1634.3 1255.7L1635.1 1243.6L1635.6 1285.8L1636.6 1252.3L1637.2 1224.9L1638 1265.1L1638.5 1239.2L1639.5 1245L1640.1 1218.6L1640.8 1236.5L1641.5 1205L1642.1 1240.1L1642.6 1205L1643.4 1265L1644.3 1248.5L1644.8 1245.3L1645.2 1221.8L1646 1205L1646.9 1254.2L1647.6 1244.1L1648.1 1238.2L1648.7 1275L1647 1215L1660.8 1219.8L1634.5 1218.5L1658.2 1204.8L1629.5 1201L1647 1198.5L1648.2 1173.5L1649.5 1162.2L1651.2 1151L1649.5 1132.2L1649.5 1114.8L1652 1120.8L1652 1215L1649.5 1272L1650.3 1261.4L1651.2 1255.3L1651.8 1231.9L1652.7 1232.9L1653.3 1229L1654.2 1232.7L1654.8 1205L1655.4 1205L1656.3 1248L1657.2 1218.9L1658.1 1243.9L1658.7 1224.3L1659.3 1243.9L1659.9 1226.1L1660.8 1266.9L1661.5 1242.8L1662.3 1247.9L1663 1224.4L1663.6 1256.6L1664.2 1264.2L1664.7 1230L1665.6 1244.2L1666 1266.3L1666.8 1253.6L1667.5 1267.4L1668.2 1234.8L1669.1 1246.6L1670 1263L1670.9 1215.8L1671.6 1246.1L1672.1 1215L1673.1 1206.8L1673.9 1228.4L1674.4 1246.8L1675.3 1205.7L1676.2 1230.6L1677.1 1277.9L1677.8 1300.2L1678.6 1266.7L1679.3 1269.8L1680 1243.2L1680.7 1238.4L1681.3 1279.2L1681.9 1228.4L1682.5 1208L1683 1205L1683.4 1260.9L1684.4 1216.6L1684.9 1241.7L1685.4 1229.9L1686.1 1217.2L1686.9 1260.6L1687.6 1241L1688.2 1235.3L1688.8 1290.4L1689.6 1249.8L1690.4 1230L1691.3 1249.9L1691.9 1273L1692.3 1277.7L1693.2 1241L1693.7 1257.7L1694.4 1271.1L1695.2 1268.5L1693.2 1215L1707 1223.5L1697 1197.2L1695.8 1172.2L1695.8 1162.2L1695.8 1141L1698.2 1147L1698.2 1215L1696 1262.2L1696.9 1249.2L1697.4 1301.8L1698 1253.3L1698.7 1297.2L1699.6 1295.2L1700.1 1305L1700.7 1305L1701.5 1305L1702.1 1289.4L1702.5 1305L1703.5 1296.8L1704.1 1256.9L1704.7 1274.1L1705.3 1261.9L1706.2 1302.1L1706.9 1265.6L1707.5 1253.2L1708 1277.4L1708.8 1268.3L1709.7 1305L1710.3 1305L1710.8 1290.4L1711.2 1305L1712.1 1305L1713.1 1301.2L1714 1274.6L1714.8 1290.9L1715.8 1305L1716.4 1305L1717.3 1305.4L1717.8 1305.2L1718.5 1304L1719.3 1301.1L1719.8 1269.6L1720.5 1280.3L1721.2 1289L1722.1 1258.8L1723 1288.2L1723.5 1252.3L1724 1282.6L1724.9 1312L1725.8 1290.6L1726.5 1312L1727 1312L1727.4 1306.6L1728 1301.2L1725.8 1218.4L1727 1224.8L1739.5 1211L1728.2 1186L1728.2 1142.2L1727 1121L1729.5 1127L1730.8 1218.4L1728.5 1280.2L1729 1257.1L1729.5 1246.8L1730.1 1261.6L1730.8 1262.7L1731.4 1258.5L1732.1 1255L1732.6 1277.2L1733.3 1279.8L1734.2 1252.7L1734.7 1303.1L1735.6 1261.8L1736.3 1268.7L1736.9 1249.8L1737.8 1257.3L1738.4 1294.8L1739 1269.1L1739.8 1272.8L1740.5 1271.5L1741.2 1235.4L1741.7 1265.4L1742.6 1242.2L1743.1 1215.2L1743.9 1209.3L1744.6 1209.4L1745.4 1259.1L1746.2 1235.1L1746.7 1256.1L1747.4 1258.3L1748.3 1262.5L1749.2 1215.3L1749.7 1252.7L1750.5 1271.3L1751 1251.9L1751.6 1209.8L1752.4 1246L1753.1 1212.5L1753.6 1224.9L1754.1 1253.8L1755 1213.3L1755.6 1216.2L1753.2 1220.1L1754.5 1222.2L1755.8 1206L1754.5 1193.5L1755.8 1169.8L1753.8 1129.8L1755.8 1109.8L1758.2 1115.8L1758.2 1220.1L1756.4 1211.8L1756.9 1210.1L1757.8 1210.2L1758.5 1210.2L1759.2 1214.8L1760.2 1218.9L1760.7 1242.9L1761.5 1248.5L1762.1 1237.2L1762.9 1247.8L1763.6 1210.6L1764.2 1216.7L1764.8 1218.5L1765.5 1229.5L1766 1214.4L1766.8 1210.8L1767.4 1228.2L1768.2 1219.5L1768.8 1218.9L1769.3 1231.3L1770 1219.1L1770.5 1213.6L1771.4 1211L1771.8 1226.2L1772.4 1264.7L1772.9 1211.1L1773.5 1211.2L1774.2 1211.2L1774.9 1215.7L1775.8 1211.3L1776.4 1211.3L1776.9 1229.7L1777.7 1227.9L1778.2 1232.5L1775.8 1221.5L1778.2 1228.5L1775.8 1173.5L1778.2 1164.8L1775.8 1149L1778.2 1155L1780.8 1221.5L1778.9 1223.1L1779.7 1226.1L1780.5 1233.4L1781.2 1252.1L1781.7 1229.5L1782.2 1236L1782.8 1219.7L1783.8 1244.7L1784.6 1236L1785.1 1271.2L1785.9 1289.6L1786.5 1312L1787 1282.2L1787.9 1256.8L1788.7 1221.4L1789.4 1246.4L1790.3 1254.9L1791.1 1225.2L1791.6 1212.3L1792.2 1232.8L1792.8 1249.5L1793.6 1249.7L1794.1 1242L1793.2 1211L1794.5 1193.5L1794.9 1249.8L1795.7 1257.7L1796.2 1241.7L1796.9 1239L1797.8 1239.9L1798.3 1212.7L1799.2 1243.2L1800 1213.2L1800.8 1212.8L1801.6 1222.5L1802.2 1212.9L1802.8 1213L1803.2 1213L1803.9 1213L1804.4 1213.1L1805.2 1218.1L1805.8 1213.1L1806.5 1213.2L1807.2 1228.1L1807.7 1213.3L1808.3 1266.6L1808.7 1248.7L1809.5 1213.4L1810.1 1213.4L1810.7 1218.6L1811.1 1213.5L1812.1 1213.5L1813 1213.6L1813.7 1213.6L1814.3 1241L1814.7 1234.7L1815.2 1251.7L1815.8 1252.9L1816.6 1249.1L1817.4 1302.1L1818.3 1280.2L1818.8 1282L1819.3 1274.5L1819.8 1269.8L1820.7 1269.7L1821.6 1241.5L1819.5 1224.1L1832.2 1238.5L1830.8 1218.5L1810.8 1217.2L1812 1206L1830.8 1206L1820.8 1182.2L1823.2 1168.5L1812 1154.8L1822 1149.8L1824.5 1155.8L1824.5 1224.1L1822.4 1239.3L1823.2 1251.3L1823.7 1270.4L1824.2 1273.9L1824.8 1287L1825.5 1237.3L1826.4 1256.7L1827.3 1244.9L1828 1244L1828.4 1243.8L1829.1 1276.2L1829.7 1303.3L1830.4 1312L1831.3 1311.5L1831.9 1257.8L1832.8 1269.1L1833.3 1296.4L1833.9 1267.9L1834.6 1264.4L1835.3 1270.1L1835.9 1260.4L1836.9 1256.3L1837.4 1281.1L1837.9 1267.3L1838.5 1276.4L1839.1 1254.6L1839.9 1272.7L1840.4 1286.3L1841.3 1282.6L1842.2 1290.2L1842.2 1272.5L1842.8 1293.6L1843.7 1287.1L1844.5 1295.8L1845.2 1294.9L1846 1287.6L1846.8 1298.1L1847.6 1294L1848 1293.1L1848.5 1293.4L1849.1 1296.4L1849.8 1297.8L1850.4 1294.2L1851.3 1295.3L1851.8 1296.7L1852.4 1297.8L1853.1 1285.1L1853.7 1280.2L1854.2 1282.4L1854.7 1291.1L1855.4 1282.2L1856 1275L1856 1283.5L1856.8 1284.7L1857.6 1280.2L1858 1289L1858.5 1285.9L1859.4 1285.2L1859.9 1280.2L1860.5 1282.5L1861.3 1286.9L1862 1287.5L1862.8 1288.9L1863.3 1287.7L1863.9 1295.8L1864.6 1281.6L1865.5 1289.1L1866.2 1293.8L1866.7 1286.9L1867.2 1288.8L1867.9 1284.7L1868.6 1287.6L1869.2 1287L1869.7 1291.4L1870.2 1287.4L1870.9 1287.3L1871.4 1294.3L1872.1 1289L1872.6 1291.4L1873.3 1288.8L1874.2 1288L1875 1294.5L1875.6 1292.3L1876.5 1288.6L1877.2 1280.5L1877.7 1284.1L1878.6 1287.8L1879.4 1291L1880.2 1282.5L1880.7 1291L1881.2 1294.1L1881.9 1297.8L1882.6 1289L1883.3 1297.1L1883.5 1267.5L1884.2 1296.2L1885 1292.5L1886 1293L1886.6 1297.8L1887.2 1293.1L1888 1298.6L1888.5 1297.5L1889.4 1296.5L1890.2 1298.7L1890.8 1295.3L1891.6 1295.2L1892.5 1289.9L1893 1292.4L1893.9 1291.6L1894.7 1291.1L1895.2 1289.3L1896.1 1283.4L1896.8 1291.5L1897.6 1285.7L1898.2 1291.3L1898.8 1290.6L1899.6 1285.1L1900.4 1280.8L1901.1 1283.7L1901.6 1290L1902.2 1286.8L1903 1286.7L1903.7 1286.2L1904.4 1286.4L1905.1 1284.7L1905.6 1280.9L1906.3 1288.9L1907.2 1296.5L1907.9 1284.7L1908.4 1284.2L1909.2 1291.3L1909.9 1290.6L1910.8 1292.3L1911.7 1295.4L1912.6 1296.2L1913.2 1298.9L1914.1 1290.5L1914.9 1286.8L1915.5 1289L1915.9 1295.2L1916.4 1288.7L1916.9 1296.8L1917.8 1294.3L1918.5 1283.3L1919.4 1281L1919.9 1281.2L1920.7 1288.6L1921.3 1287L1922.1 1285.7L1922.6 1285.7L1923.1 1281.1L1923.7 1290.9L1924.4 1289.2L1925.1 1286.8L1925.8 1290.7L1926.4 1290L1926.9 1292.6L1927.4 1284.6L1928 1285.3L1928.9 1290.7L1929.4 1287.2L1930.1 1287.1L1931 1290.1L1931.5 1295.8L1932.2 1299.2L1933 1289.6L1933.7 1292.9L1934.6 1299.3L1935.4 1293.5L1936.3 1297.6L1936.9 1296.2L1937.8 1296L1938.5 1297.2L1939 1299.3L1939.6 1299.3L1940.2 1294.7L1941.1 1294.4L1942 1284.9L1942.5 1288.7L1943.4 1282.1L1944.1 1281.4L1944.9 1288.9L1945.7 1281.5L1946.3 1290.2L1947.1 1282.6L1947.9 1289.6L1948.9 1286.3L1949.6 1286L1950.5 1284.5L1951.2 1286.6L1951.7 1288.7L1952.4 1282L1953.1 1286.8L1953.6 1281.5L1954.5 1284L1955.2 1281.5L1956.1 1282.9L1956.7 1285.1L1957.3 1282.8L1957.8 1292.4L1958.6 1285.4L1959.1 1281.6L1959.7 1287.7L1960.6 1282.9L1961.1 1288.4L1962 1294.1L1962.9 1288.2L1963.7 1289.7L1964.6 1281.7L1965.2 1286.7L1965.8 1292.6L1966.5 1292.7L1967.1 1293.8L1967.7 1298.3L1968.5 1299.7L1969.1 1299.6L1970 1299.7L1970.5 1299.7L1971 1299.7L1971.7 1295.2L1972.6 1293.9L1973.5 1294.8L1974 1285.9L1974.4 1289.8L1974.9 1290.6L1975.6 1294.7L1976.2 1299.8L1976.9 1299.8L1977.7 1299.6L1978.6 1299.8L1979.2 1298.6L1980.1 1293.7L1980.9 1299.9L1981.6 1299.9L1982.1 1299.9L1982.8 1299.9L1983.3 1299.9L1983.9 1297.9L1984.8 1288.5L1985.2 1294L1985.7 1282.2L1986.6 1293.2L1987.3 1295.7L1988 1290.8L1988.8 1287.9L1989.4 1289.5L1989.9 1299.1L1990.6 1293.1L1991.3 1300L1992 1297.5L1992.7 1299.5L1993.4 1300L1993.8 1300L1994.7 1297.6L1995.7 1293.5L1996.4 1289.5L1997.2 1293.9L1997.7 1291.9L1998.3 1296.1L1999.1 1295L1997.2 1291.9L2003.5 1272.5L2001 1258.5L2001 1251L1998.5 1219.8L1999.8 1196L1997.8 1172.2L1997.8 1129.8L2000.2 1135.8L2002.2 1291.9L1999.9 1285.3L2000.7 1286.3L2001.4 1284.9L2002.1 1292.2L2002.8 1292.1L2003.5 1288.3L2004 1294.1L2004.9 1289.9L2005.8 1290.3L2006.3 1295L2007 1289.9L2007.5 1292.8L2008.2 1297.8L2009 1296.6L2009.6 1298.3L2010.5 1293.1L2011.2 1287.7L2011.8 1294.1L2012.6 1294.7L2013.1 1293.5L2014 1291.1L2014.5 1293.8L2015.1 1288.6L2015.6 1287.7L2016.4 1285.4L2016.9 1288.6L2017.5 1290.7L2018.1 1290.5L2018.7 1290.9L2019.2 1292.8L2019.8 1282.2L2020.4 1289.2L2021.2 1287.5L2021.7 1289.1L2022.3 1281.7L2023 1286.5L2023.9 1287.9L2024.4 1281.7L2024.9 1282.5L2025.5 1284.7L2026.3 1282.4L2027.2 1284.8L2028.1 1286.5L2028.7 1281.6L2029.5 1287.1L2030.2 1281.6L2030.9 1287.2L2031.8 1285.5L2032.3 1291.1L2033.2 1291.2L2033.9 1294.7L2034.6 1294.5L2035.2 1299.6L2036.1 1298L2036.8 1294.2L2037.8 1291.5L2038.5 1293.1L2039 1298.2L2039.6 1294.7L2040 1289.5L2041 1292.9L2041.7 1291.7L2042.6 1290.4L2043.2 1298L2043.7 1281.5L2044.2 1287.8L2044.9 1293L2045.4 1288L2046.3 1293L2046.8 1296.1L2047.4 1296L2048.1 1294.2L2048.7 1298.3L2049.6 1296.7L2050.2 1293.6L2050.8 1293.2L2051.2 1286L2051.7 1288.5L2052.6 1291L2053.2 1291.3L2053.7 1291.7L2054.2 1296L2054.7 1295.6L2055.6 1290L2056.1 1295.6L2056.8 1291.9L2057.6 1291L2058.3 1290.3L2059.2 1289.8L2059.7 1289.4L2060.6 1287.3L2061.1 1281.3L2062 1283.3L2062.9 1285.1L2063.4 1281.3L2064 1285.9L2064.9 1283.2L2065.5 1281.3L2066.1 1284.5L2066.9 1289L2067.4 1291.7L2067.9 1287.8L2068.7 1291.7L2069.3 1288.9L2070 1286.6L2070.7 1286L2068.5 1291.2L2069.8 1267.5L2071 1251L2071.8 1234.8L2074.2 1240.8L2073.5 1291.2L2071.3 1281.2L2072 1282.7L2072.6 1281.2L2073.4 1284.7L2074.1 1284.7L2074.9 1281.2L2075.4 1281.2L2075.9 1285.6L2076.6 1281.2L2077.2 1282.5L2078.2 1281.2L2079.1 1281.2L2080 1281.2L2080.9 1281.2L2081.7 1281.1L2082.4 1281.1L2083.3 1281.6L2084.2 1281.1L2084.7 1285.6L2085.5 1281.1L2086.4 1287.3L2087.1 1281.1L2087.9 1281.1L2088.4 1285.2L2089.3 1281.1L2090.1 1281.1L2090.5 1281.1L2091.3 1281.1L2092.2 1281L2092.8 1287.8L2093.6 1287.7L2094.5 1283.8L2094.9 1289.9L2095.5 1286.5L2096.1 1291L2097 1283.4L2097.6 1291.2L2098.3 1294.3L2099.1 1288.8L2099.8 1290.4L2100.4 1292.8L2101.3 1289.6L2102.1 1289.5L2102.7 1294.4L2103.3 1290.7L2104.2 1291.1L2105 1293.6L2105.9 1286.5L2106.8 1291L2107.7 1288.2L2108.2 1291.2L2108.7 1290.4L2109.6 1290.1L2110.4 1291.6L2111.2 1286.9L2111.8 1292.4L2112.5 1292.3L2113.4 1290.4L2114.2 1286.3L2115 1282.3L2116 1280.8L2116.6 1280.8L2117.1 1280.8L2117.9 1280.8L2118.4 1284.3L2118.8 1285.1L2119.3 1280.8L2119.8 1280.8L2120.5 1280.8L2121.1 1280.8L2121.6 1281.1L2122.1 1285L2119.8 1290.8L2134.8 1265L2111 1265L2113.5 1250L2133.5 1248.5L2118.5 1238.5L2116 1235L2132.2 1221L2131 1213.5L2122.2 1208.5L2119.8 1179.8L2122.2 1174.2L2122.2 1135.5L2118.5 1122.2L2120.5 1104.2L2123 1110.2L2124.8 1290.8L2123.1 1282.6L2124 1282.5L2124.8 1280.7L2125.4 1280.7L2125.9 1280.7L2126.7 1282.5L2127.6 1280.7L2128.1 1280.7L2129.1 1280.7L2129.5 1280.7L2130.2 1284.3L2130.9 1280.7L2131.5 1281.2L2132.1 1280.7L2132.5 1280.7L2133.1 1280.7L2134 1280.7L2134.9 1280.7L2135.4 1283.7L2136.1 1281.3L2136.9 1284.2L2137.4 1287.2L2138.3 1288.5L2139.3 1284.7L2139.8 1285.3L2140.4 1280.6L2141.2 1282.7L2141.7 1296.8L2142.3 1292.1L2142.9 1285.5L2143.5 1281.3L2144.2 1292L2145.1 1290.7L2145.7 1280.6L2146.4 1282.8L2147.2 1288.8L2148 1284.9L2148.6 1280.5L2149.4 1281.3L2149.9 1282.6L2150.4 1280.5L2150.9 1284.1L2151.8 1286.8L2152.6 1292.6L2153.1 1282.3L2153.8 1285.3L2154.6 1288.4L2155.1 1288.6L2155.7 1286.1L2156.5 1289.1L2157.4 1291.6L2158.1 1297.4L2158.9 1297.9L2159.7 1294.7L2160.6 1298.3L2161.2 1292.7L2162 1298.4L2162.7 1298.4L2163.3 1291L2163.8 1293.5L2164.6 1296.1L2165.1 1298.4L2165.7 1292.1L2166.3 1295.3L2166.9 1294.4L2167.7 1293L2168.2 1292.1L2168.7 1289.4L2169.6 1294.1L2170.5 1294.8L2171.4 1294.3L2172.1 1290.5L2172.6 1287L2173.1 1298.3L2174 1293.8L2174.8 1283.8L2175.5 1286.7L2176.1 1287.8L2176.9 1286.7L2177.4 1283.5L2178.2 1282.1L2178.9 1292.4L2179.4 1286.1L2180.3 1288L2180.9 1287.3L2181.3 1286.2L2182 1289.5L2182.6 1289.5L2183.3 1286.1L2184 1287.2L2184.9 1283.8L2185.4 1284.7L2186 1293.8L2186.9 1280.2L2187.6 1283.8L2188.5 1288.5L2189.3 1297.7L2190.2 1286.8L2191.1 1293.4L2191.9 1296.5L2192.8 1298.1L2193.5 1290.8L2194.4 1285.1L2194.8 1286.7L2195.4 1291.6L2196 1287.8L2196.8 1280.5L2197.4 1287.9L2198.2 1292.9L2199.1 1283.8L2199.7 1287.6L2200.4 1284.7L2201.1 1292.2L2201.7 1288.9L2202.2 1260L2202.5 1293.9L2203.4 1297.9L2203.9 1293L2204.5 1298L2205.1 1297.6L2205.8 1298L2205.8 1371.6Z" fill="#dcdcdc"/>
<path d="M231 1296.6L231.7 1292.2L232.4 1288L233 1280.3L233.5 1291.9L234.2 1299.1L234.7 1298.6L235.4 1289.6L236.2 1285.3L236.7 1310.1L237.5 1318.7L238 1310.6L238.7 1299.1L239.2 1285.2L239.9 1255.5L240.5 1283.8L241.3 1261.7L241.8 1278.5L242.4 1256L243.2 1260.9L243.8 1252.1L244.7 1266.5L245.5 1257.7L246 1268.9L246.5 1254.6L247.3 1255.9L248 1257.1L248.5 1258.1L249 1267.9L250 1261.6L250.5 1272.8L251.3 1267.2L251.9 1276.2L252.4 1276.3L253 1293L253.6 1298.1L254.2 1308L255.1 1286.6L255.9 1300.2L256.8 1302.9L257.6 1296.9L258.5 1293L259.4 1286.9L260.3 1290.1L261.2 1293.2L261.9 1305.6L262.7 1297.4L263.6 1300.3L264.3 1300.6L265.1 1302.3L265.7 1303.4L266.6 1305.2L267.4 1319.5L268.2 1311.8L269 1314.3L269.9 1315.1L270.5 1313.1L271.4 1315.1L271.9 1319.8L272.6 1317.8L273.4 1319.9L273.9 1327.4L274.6 1326.8L275.1 1334.4L275.7 1338.5L276.4 1330.8L277.3 1341.2L277.9 1334.2L278.4 1335.2L279.1 1327.7L279.9 1339.9L280.8 1333.1L281.7 1324.5L282.5 1325.2L283.1 1323.5L283.9 1325.1L284.8 1328L285.7 1330.7L286.4 1323.7L286.9 1336L287.4 1329.4L287.9 1320.6L288.7 1321.2L289.2 1315.6L290 1306.3L290.7 1308.4L291.6 1301.1L292.4 1313.7L293.1 1320L293.8 1309.1L294.5 1324.5L295.1 1321.3L295.8 1318.2L296.7 1314.1L297.5 1323.6L297.9 1324.1L298.5 1308.2L299.4 1303.8L299.9 1301.7L300.6 1303.7L301.3 1286.8L302.1 1302.2L302.9 1294.2L303.8 1296.4L304.4 1288L304.9 1292.3L305.4 1282.9L305.9 1284.9L306.4 1285.4L307.2 1296.3L307.7 1285L308.2 1302.9L309.2 1289.7L310.1 1277.8L310.8 1281.8L311.2 1273.5L311.9 1277.8L312.4 1288.7L313.3 1280.2L313.9 1269L314.8 1267.5L315.6 1275.4L316.5 1247L317.2 1275.8L317.9 1275.2L318.6 1267.2L319.2 1259.6L319.9 1247.8L320.7 1275L321.5 1271.9L322.1 1278.4L323 1253.9L323.7 1239.1L324.2 1248.7L325.1 1248.8L325.8 1275L326.5 1254.8L327.1 1253.3L327.9 1262.8L328.4 1250.8L329.3 1293.8L330.2 1281.3L330.9 1301.6L331.8 1276.1L332.6 1290.3L333.3 1292.2L333.8 1270.3L334.4 1280.3L335.1 1280.1L335.7 1281.6L336.5 1312.1L337.2 1265.5L337.7 1298.1L338.6 1310.3L339.3 1317.4L339.8 1288.5L340.5 1298.3L341.2 1294.7L341.7 1269.1L342.2 1315.6L342.9 1296L343.6 1300L344.2 1303L344.7 1292.2L345.3 1304.1L346.1 1315.6L346.9 1306.5L347.7 1323.6L348.4 1315.7L349.1 1328.8L349.8 1323.3L350.4 1328.2L351 1283.1L348.8 1242L353 1146.5L353 1078.5L352.5 986L348.8 973.5L349.2 671.8L349.2 588L351.2 526.8L350 378.8L352.5 384.8L353.8 1242L351.8 1285.4L352.6 1294.3L353.3 1244.6L354.1 1287.6L354.9 1306.1L355.8 1277.3L356.6 1296.9L357.5 1268.8L358.1 1264.6L358.8 1240.7L359.5 1239.4L360.3 1264.9L361.1 1257L361.7 1317.2L362.7 1306.7L363.3 1296.8L364 1259.9L364.5 1270.9L365.4 1275.1L366 1243.1L366.5 1271.7L367.3 1234L368 1238.6L368.7 1269.8L369.2 1280.8L369.9 1279.4L370.8 1283.6L371.5 1260.8L372.2 1298.5L372.8 1271.2L373.8 1264.3L374.6 1245.2L375.5 1292.3L376 1250.5L376.7 1266.1L377.4 1276.1L377.9 1253.8L378.8 1258.3L379.4 1237.2L380.2 1250.6L381.1 1240.5L381.8 1264.4L382.4 1259.5L383 1272.4L383.7 1264.4L381.8 1233.8L390 1219.8L388.8 1184.8L372.5 1181.5L392.5 1169.8L376.2 1153.5L375 1108L396.2 1106L388.8 1078L377 1062.2L381.2 1040.2L381.2 1012.8L377 986.5L381.2 972.2L391.2 944.8L375 942.2L379.2 936L379.2 889.8L390.8 857.2L391.2 853L382.5 804.2L394.5 802.2L393 789L392.5 783L383.8 690.5L383.8 459.8L385.5 413.2L385.5 343.8L384.2 316.8L386.8 322.8L386.8 1233.8L384.5 1277.4L385.1 1234.9L385.7 1254.5L386.2 1242L386.9 1247.4L387.4 1267.1L387.9 1258.1L388.7 1246.2L389.3 1269.5L390.1 1256L390.9 1279.3L391.6 1271.3L392.5 1255.5L393.3 1253.3L394 1238L394.7 1251.3L395.6 1267.3L396.2 1252.2L397.1 1261.6L398.1 1261.1L398.8 1294.7L399.7 1266.9L400.6 1271.6L401.3 1295.5L401.8 1313.1L402.8 1303L403.6 1272.3L404 1279.8L404.7 1293.9L405.3 1293.3L405.7 1309.6L406.5 1294.8L407.3 1284.2L408.2 1293.3L408.9 1300.2L409.6 1305.2L410.1 1308.3L410.8 1318.1L411.3 1308.3L412 1297L412.5 1303.3L413 1305.5L413.9 1303.9L414.7 1307.5L415.6 1295.5L416 1302.2L416.5 1295L417.1 1301.9L418 1292.5L419 1298.5L419.9 1308.2L420.5 1312.3L421.4 1296.9L422.3 1309.5L422.9 1302.1L423.5 1310.3L424 1317.8L424.5 1317.2L425.3 1293.6L423.2 1297L430 1266.2L429.2 1253.8L416.2 1248.8L427.5 1236L422 1174.2L428.2 1161L422 1149.8L422 1109.8L423.8 1069.2L427.5 1040.2L425.8 1003.5L425.8 972.2L425.8 958L423.8 952.2L426.2 958.2L428.2 1297L426.1 1313L426.9 1297.1L427.8 1293.3L428.3 1299.1L429.1 1302.6L429.7 1289.7L430.6 1298.4L431.4 1298.4L432 1295L432.8 1295L433.6 1287L434.2 1298.6L434.7 1287L435.6 1290.9L436.3 1298.5L437.1 1296.5L437.7 1294.3L438.3 1292.5L439.2 1287L439.8 1290.1L440.4 1287L441.1 1287L441.7 1287L442.6 1287L443.1 1291.5L444 1299.8L444.8 1307.4L445.3 1299.9L445.8 1300L446.6 1307.6L447.2 1301.2L447.8 1302.8L448.4 1309.8L449.2 1294.3L449.9 1298.4L450.8 1304.5L451.5 1305.6L452.2 1295.3L453 1297.9L453.4 1295L453.9 1297.2L454.8 1297.9L455.3 1297.6L456.2 1295.8L456.8 1293.8L457.6 1304.1L458.2 1311.2L458.7 1302.9L459.2 1309.8L460 1305L460.8 1301L461.3 1293.8L461.8 1283.2L462.7 1293.5L463.6 1279.4L464.5 1291.3L465 1281L465.6 1275L466.2 1273.9L467 1279.1L467.6 1270.8L468.3 1275.5L469 1275.6L469.7 1273.8L470.2 1281.7L471 1276.3L471.7 1277.8L472.4 1279.4L473.2 1285.1L474 1288.8L474.5 1283.8L475.1 1287.4L475.7 1287.4L476.4 1294.8L477.2 1284.9L478.1 1288.2L478.9 1281.7L479.7 1280.3L480.5 1279L481.1 1277.9L481.7 1286.9L482.2 1281.8L483 1274.7L483.7 1273.3L484.1 1272.4L484.8 1281.5L485.4 1270.2L486.3 1268.7L487 1267.3L487.7 1272.1L488.1 1273.8L488.6 1281.6L489.3 1278.8L490.1 1284.3L490.9 1294.3L491.4 1283.6L492 1280.2L492.6 1262.7L493.3 1274L493.8 1303.1L494.4 1299L494.8 1308.8L495.4 1291.8L496 1308.8L496.6 1311.3L497.6 1296.2L498.2 1304.4L498.9 1293L499.9 1305.2L500.7 1307.6L501.3 1312.2L502.1 1305L502.6 1313.2L503.5 1302.3L504.3 1286L504.8 1313L505.4 1313L506 1312.9L506.8 1292.5L507.4 1302.3L508 1312.8L508.8 1305.9L509.3 1300.1L510 1305.3L510.9 1291.5L511.7 1300.8L512.7 1299.2L513.2 1262.9L513.8 1292.7L514.4 1275L514.9 1264.9L515.7 1272.8L516.5 1271.4L517.2 1281.8L517.9 1281.7L518.6 1260.1L519.1 1278.5L519.7 1286.2L520.6 1292.3L521.2 1268.2L522.1 1266.2L522.5 1263.8L523.4 1264.1L523.9 1264.7L524.7 1265.6L525.5 1266.6L526.4 1279.1L526.9 1280.3L527.8 1277.8L528.7 1273.3L529.6 1271.5L530.4 1271.6L530.9 1275.3L531.5 1270.5L532 1270L532.5 1269.5L533 1269L533.7 1268.3L534.4 1267.6L535.1 1268.3L535.9 1266.1L536.8 1265.2L537.5 1276.8L538.2 1278L538.8 1278.6L539.6 1292.4L540.1 1294.9L540.8 1282.9L541.5 1291.4L542.1 1279.9L540 1280.8L543.8 1265L540 1252.5L542.5 1237.5L545 1243.5L545 1280.8L542.7 1295L543.5 1299.1L544.1 1273.2L545 1287L545.8 1282.8L546.5 1278L547.4 1285.1L548.1 1289.5L548.9 1283.9L549.7 1288.6L550.4 1286.2L551.3 1301.5L552 1290.1L552.7 1291.8L553.2 1302.8L553.8 1297.1L554.5 1291.7L555 1310.6L555.7 1285.8L556.6 1294.9L557.5 1292.3L558.2 1301.2L559.1 1298.4L559.8 1302.1L560.7 1294.9L561.6 1289.9L562.5 1300.3L563.1 1291.9L563.7 1291.1L564.6 1291.7L565.2 1293.6L565.8 1300L566.5 1292.2L567 1287.8L567.7 1293.6L568.5 1284.6L569.3 1283.9L569.9 1282L570.5 1280.2L571.5 1278.9L572.3 1276.4L573.2 1274.6L574.1 1283.8L574.9 1290.8L575.6 1301.4L576 1299.5L576.7 1292.1L577.3 1295.4L578.2 1288.5L578.7 1293.2L579.6 1293.6L580.5 1282.2L580.9 1293.5L581.8 1270.7L582.7 1272.6L583.4 1281L584 1268.8L584.8 1277.6L585.5 1279.3L586 1258.8L586.6 1258.7L587.4 1258.5L588.4 1260.6L588.9 1270.4L589.8 1258L590.5 1293.4L591.4 1295.1L591.9 1270.9L592.4 1257.5L593.3 1273.3L594.1 1257.2L594.7 1273L595.3 1276.9L596 1278.3L596.7 1297.4L597.6 1265.1L598.3 1273.1L598.9 1282.4L599.7 1281.5L600.5 1270.9L601.2 1272.5L602.1 1299L602.6 1314L603.2 1314L603.7 1278L604.5 1281L604.9 1309.5L605.6 1314L606.2 1312.2L607 1300.2L607.6 1268.7L608.5 1299.1L609.4 1295.8L610.2 1261.9L610.7 1281.2L611.2 1284.4L611.7 1268.8L612.4 1283.4L612.9 1296.9L613.6 1299.6L614.4 1280.3L615 1285.5L615.9 1293L616.6 1292L617.4 1277L618.3 1288.3L618.9 1257L619.6 1266.4L620.1 1282.1L620.8 1291.9L621.3 1285.4L622.1 1306.5L623 1291.7L623.7 1316.2L624.2 1299.6L625.1 1316.2L625.9 1318.8L626.7 1294.5L627.4 1319.1L628.3 1319.3L628.8 1319.4L629.5 1301.1L630.2 1314.5L630.7 1292.6L631.4 1315.1L632 1311L632.7 1310.6L633.7 1320.4L634.3 1320.6L635.1 1320.4L636 1308.2L636.5 1314.5L637.1 1314.4L637.9 1313.1L638.6 1293.1L639.2 1315.9L640.1 1310.6L641 1316.7L641.6 1322L642.2 1302.3L642.9 1309.3L643.6 1307.4L644.3 1305.8L645 1280.5L645.6 1311.1L646.1 1300.5L647.1 1304.2L648 1296.4L648.8 1298.4L649.4 1280.3L650.3 1291.7L651.2 1320.7L651.8 1307L652.5 1298.4L653.4 1306L654.2 1315.1L654.8 1299.6L655.7 1322L656.2 1304.7L657.1 1320.2L657.8 1322L658.3 1322L659.1 1315.7L659.7 1300.2L660.6 1311.1L661.2 1295.5L662.1 1316.1L662.8 1301.8L663.5 1314.4L664.2 1309.5L664.7 1290.3L665.4 1293.7L666.1 1302.3L666.9 1286.8L667.8 1302.2L668.8 1308.7L669.3 1289.5L670.1 1301.2L670.9 1287.3L671.4 1291.9L671.8 1306.5L672.5 1292.2L673.3 1278.2L674.1 1278.5L674.6 1286L675.2 1308.9L676.1 1289.5L677 1296.4L677.9 1291.3L678.8 1277.4L679.5 1287.3L680.1 1285L680.9 1276.8L681.6 1276.6L682.4 1276.3L683 1286.5L683.8 1283.3L684.7 1293L685.5 1291.5L686 1294.9L687 1286.4L687.7 1285.3L688.5 1280L689.2 1280.9L689.9 1311.4L690.6 1302.7L691.3 1300.9L692 1292.9L692.9 1313.2L693.6 1310.2L694.5 1305.7L695.1 1288.8L695.7 1307.4L696.2 1291.4L696.8 1298.4L697.4 1317.6L698.2 1298.3L698.6 1295.9L699.4 1311.3L700 1301L700.9 1267.5L701.4 1270L702.4 1271.6L703.2 1266.1L703.8 1294.5L704.7 1276.2L705.5 1265.7L706.4 1265.6L706.9 1276.9L707.8 1279.5L708.6 1291.7L709.4 1272.1L710.1 1273.7L710.7 1275.1L711.4 1298.6L712.1 1300.6L712.9 1261L713.6 1276.9L714.3 1260.6L715.2 1265.8L715.7 1260.1L716.2 1259.9L717 1270.4L717.8 1285.7L718.6 1315.8L719.3 1301.4L720.1 1321L720.5 1304L721 1296.5L721.8 1293L720 1267.8L737.5 1239.8L721.2 1224.8L724.5 1192.2L722.5 1176.8L722.5 1148.5L722.5 1133.5L725 1139.5L725 1267.8L722.5 1288.1L723.2 1302.8L724 1306.3L724.5 1277.6L725.5 1307.2L726 1276.4L726.5 1288.3L727.1 1308L728 1316.5L728.5 1262L729 1285.2L729.6 1289L730.5 1298.8L731.3 1281.7L731.9 1254.7L732.7 1274.3L733.4 1254.2L734.1 1282L734.7 1295.6L735.6 1271.4L736.5 1281L737.3 1270.8L737.8 1266L738.7 1277.5L739.5 1284.2L740 1284.4L740.5 1251.6L740.9 1273.2L741.4 1255.7L742 1264.6L742.7 1262.7L743.2 1269L743.6 1248.9L744.3 1272.7L745.1 1247.6L745.6 1275.2L746.5 1258.5L747.1 1258.9L748 1262.7L748.8 1272.3L749.7 1274.4L750.6 1286.3L751.1 1295.2L751.7 1277.4L752.4 1288.3L753 1307.7L753.6 1292.6L754 1293.5L755 1303L755.5 1267.4L756.5 1295.5L757.1 1276.6L757.6 1276.6L758.4 1286L758.9 1264.5L759.8 1272.6L760.5 1254.4L761.4 1286.9L761.9 1279.9L762.3 1297.1L763.2 1300.6L764 1277.2L764.9 1287.3L765.7 1287.3L766.4 1268.1L767.1 1293.8L767.9 1275L768.6 1274.8L769.5 1286L770.1 1290.9L770.6 1295.3L771.3 1275.9L771.9 1286.1L772.3 1288.2L772.9 1283.5L773.6 1280.2L774.1 1279.8L775 1287.7L775.6 1277.4L776.1 1280L777 1269.8L777.9 1262.3L778.7 1268.9L779.4 1240.7L780.3 1238.8L780.9 1234L781.5 1232.3L782 1276L782.7 1259.9L783.3 1245.9L781 1240.3L783.5 1217.2L783.5 1193.5L784.8 1177.2L783.5 1148L786 1154L786 1240.3L784.1 1230.2L784.8 1250.5L785.6 1252.9L786.4 1257.3L787.2 1233L788 1248.5L788.8 1256.4L789.4 1229.1L789.8 1229L790.7 1229.3L791.3 1249.5L791.8 1228.6L792.3 1260L793.1 1240.4L793.7 1233L794.6 1232.1L795.4 1240.6L796.1 1261.8L796.6 1227.7L797.6 1227.5L798.4 1260.4L799.1 1227.2L799.8 1243.2L800.3 1291.9L800.9 1252.6L801.5 1266.8L802.4 1234.8L800.5 1236.4L803.5 1113.5L801.5 924L803 889.8L805.5 895.8L805.5 1236.4L803.3 1259.7L804 1236.7L804.5 1251.5L805.1 1251.1L805.8 1249.6L806.4 1226.9L807 1242.9L807.5 1285.6L808.4 1274.1L809.1 1241.8L809.9 1254.9L810.5 1222.8L811.1 1248.9L811.8 1249.2L812.4 1247.7L813.1 1255.6L813.8 1250.1L814.3 1226.8L815.1 1253.3L815.7 1231.5L816.4 1229.8L817 1230.8L817.9 1304.9L818.5 1285.5L819.1 1260.2L820 1268.6L820.6 1262.1L821.4 1257.9L822.2 1258L822.7 1233.1L823.4 1259.6L824 1259.4L824.5 1254.8L824.9 1276.5L825.6 1266.6L826.1 1246.9L826.7 1233.4L827.6 1207.6L828.3 1212.4L829.1 1257.7L829.9 1248.7L830.6 1254.6L831.3 1233.8L832.1 1253.4L832.7 1249.6L833.3 1233.1L833.7 1260.8L834.4 1303.7L835.3 1271.1L836.1 1272.4L836.8 1205.7L837.7 1227.7L838.3 1209.6L836 1210L846 1182.2L844.8 1161L838 1096.8L832.2 1078.5L853.5 1058.5L848.5 1047.2L831 1036L833.5 1028.5L827.2 1006L846 1006L832.2 988.5L828.5 957.8L831 896L829.8 887.2L838.5 861L841.8 846.8L839.8 802.2L839.8 783L839.8 724.8L842.2 730.8L841 1210L838.9 1237L839.4 1200L839.9 1263.2L840.8 1285.3L841.7 1242.5L842.6 1258.7L843.3 1223.5L844.3 1282.1L845.2 1222.4L846.1 1284.4L846.9 1277.9L847.7 1268.9L848.4 1267.3L849.1 1302.6L849.9 1302.6L850.5 1292.9L851 1302.5L851.6 1241L852.3 1266.6L853.2 1290.1L853.6 1302.3L854.6 1253.6L855.5 1287.2L855.9 1242.8L856.7 1292.6L857.5 1252.3L858.3 1258L858.9 1255.4L859.9 1265L860.4 1237.7L861.1 1220.4L862.1 1223.9L862.5 1225.5L863.2 1257.1L863.7 1262.6L864.5 1200L865.4 1247.9L866.2 1221.5L867 1223.1L867.9 1277.6L868.5 1208.3L869.1 1203L869.9 1241.7L870.8 1237.9L871.5 1292.2L872 1266L872.9 1256.9L873.6 1299.8L874.1 1295.9L874.6 1287L872.2 1210L878.5 1146L871 1122.2L856 1117.2L874.8 1007.2L866 976L867.8 957.8L869.8 930.2L867.8 909.8L876 858.5L876 855.5L874.8 831.2L876 773L878.5 779L877.2 1210L875.4 1298.1L876 1280.4L876.8 1288.5L877.8 1299.9L878.2 1300.6L879 1300.5L879.6 1300.5L880.2 1300.4L881.1 1300.4L881.8 1300.3L882.4 1290.1L883 1300.2L883.9 1300.2L884.8 1300.1L885.7 1300L886.2 1275.7L886.7 1299.2L887.6 1287.9L888.2 1297.4L889 1296.6L889.5 1296L890.2 1269.3L890.7 1286.2L891.6 1293.6L892.4 1292.7L892.9 1277.4L893.6 1281.3L894.1 1254.4L895 1276.9L895.7 1259.1L896.6 1274.7L897.4 1291.9L897.9 1268.1L898.5 1248.7L899.3 1278.8L900.1 1237L900.8 1260.2L901.5 1257.2L902.3 1240.7L902.8 1224.1L903.3 1238.9L903.8 1268.9L904.5 1242.6L905.1 1225.4L905.9 1252.1L906.8 1228.8L907.2 1235.7L907.8 1221.2L908.6 1228.1L906.5 1222L903.5 1127.2L909.8 1122.2L907.2 755.5L909.8 745.5L909 579L911.5 585L911.5 1222L909.4 1212L910.2 1212L911 1212L911.9 1225.9L912.5 1238.3L913 1240.6L913.8 1222.1L914.4 1221.9L915.4 1251.1L916.1 1261.3L916.7 1242.3L917.3 1260.8L918.1 1234.8L918.9 1221.3L919.4 1219.9L920.3 1212L921 1212L921.6 1216.1L922.1 1234.9L922.8 1212L923.4 1212L924.2 1220.8L925 1238.6L925.6 1218.2L926.6 1212L927.3 1212L928.1 1212L926 1222L943.5 1199.8L929.8 1197.2L943.5 1182.2L920.2 1131L928.5 1034.8L916 1008.5L920.2 1001.5L917.2 991L918.5 978.5L929.8 961L927.2 918.5L931 909.8L929.8 894.8L932.2 900.8L931 1222L928.7 1212L929.5 1212L930.2 1216.6L930.9 1212L931.5 1232.6L932 1219.3L932.9 1235.1L933.6 1237.7L934.2 1234.4L934.9 1216.1L935.7 1232.1L936.2 1237.5L937 1248.2L937.6 1238.3L938.2 1219L939 1225.1L939.6 1212L940.4 1222.3L941.3 1232.7L942 1212L942.8 1212L943.3 1213.5L943.9 1212L944.4 1225.8L945.1 1212L945.8 1212L946.5 1256.1L947.2 1219.4L947.8 1232.5L948.3 1216.5L949.1 1212L949.7 1226.5L950.2 1213.7L950.7 1212L951.3 1214.7L952.1 1212L952.8 1212L953.4 1234.8L954.1 1218.5L955 1212L955.7 1227.5L956.2 1231.8L956.8 1248L957.6 1226L958.2 1241.3L958.7 1225.3L959.4 1214L960.1 1243.2L960.8 1238.4L961.3 1226.2L962.2 1229L963 1252L963.5 1223.4L964.1 1233.2L964.8 1258.9L965.5 1247.4L966.2 1242.9L966.9 1247.4L967.8 1240.7L968.3 1265L969 1244.8L969.6 1240.3L970.2 1244.8L971 1223.4L972 1241.9L972.6 1239.6L973.3 1243L974 1276.6L974.9 1264.1L975.8 1279.5L976.6 1257.9L977.3 1263.7L978.1 1250.4L978.7 1241.1L979.5 1251.2L980.3 1267.5L981 1266.3L981.5 1268.5L982.3 1263.2L982.9 1267.9L983.6 1269.3L984.1 1255.3L985 1256L985.9 1258.8L986.8 1282.4L987.3 1270.3L988 1263.7L988.8 1250.3L989.7 1241.5L990.7 1259.5L991.1 1260.7L991.6 1261.5L992.3 1252.9L993.1 1245.5L991 1250L994.8 1191L999.8 1181L993.5 1174.8L986 1149.2L981.5 1122.2L986 1078L982.2 1051L1003 1051L984.2 1003.5L999.2 986.5L983.5 964.8L1001 963L982.2 952.2L982.2 942.2L1001 926L999 909L1001.5 915L996 1250L994 1259.5L994.9 1263.6L995.7 1263.5L996.5 1244.2L997 1264.9L997.6 1260.1L998.3 1264.8L999.1 1273.2L999.7 1255.7L1000.3 1246.9L1001.2 1251.8L1001.7 1250.1L1002.7 1241.8L1003.4 1239.4L1004.1 1254.5L1005 1270.2L1005.7 1241.5L1006.2 1252.9L1006.9 1239.6L1007.4 1224L1008.2 1219.3L1008.9 1224.8L1009.4 1257.2L1010.4 1197.8L1011.3 1237.8L1011.8 1243.4L1012.6 1196.6L1013.1 1209.1L1013.8 1224.4L1014.3 1217.6L1015.1 1206.8L1016 1200.4L1016.5 1219.6L1017 1195L1017.9 1195L1018.7 1195L1019.3 1195L1020.1 1195L1020.9 1195L1021.5 1198.7L1022.2 1195L1022.7 1195L1023.2 1230.1L1023.9 1246.8L1024.7 1255.3L1025.6 1251.8L1026 1218L1026.9 1265.5L1027.5 1245.2L1028.5 1267.6L1029.1 1253.5L1030 1229.9L1030.6 1264.4L1031.1 1227L1031.8 1220.9L1032.6 1278.3L1033.3 1259.4L1033.8 1276.7L1034.5 1266.9L1035.2 1280L1035.8 1273.1L1036.6 1229.5L1037.4 1198.1L1038.2 1224.4L1039.1 1286.9L1039.6 1289.1L1040.2 1254L1040.9 1287.3L1041.7 1320L1042.4 1299.4L1042.9 1274.3L1043.8 1264.5L1044.3 1224.5L1045.2 1318.6L1045.9 1262.5L1046.4 1304.9L1047 1320L1047.5 1312.9L1048.3 1317.8L1048.8 1311.7L1049.6 1281.1L1050.6 1300.4L1051 1288.2L1051.7 1315.1L1052.3 1320L1053 1320L1053.5 1320L1054 1306.6L1054.5 1291.9L1055.1 1304.9L1055.9 1268.6L1056.4 1269.6L1057.2 1303.9L1054.8 1205L1055.2 1226L1048.5 1211L1059.8 1203L1057.2 1186L1057.2 1181L1057.8 1162.2L1060.2 1168.2L1059.8 1205L1057.7 1271.2L1058.6 1320L1059.3 1298.5L1060 1282.9L1060.6 1320L1061.5 1263.9L1062.3 1299.3L1063 1264.9L1063.8 1230.5L1064.5 1197.8L1065.3 1238.2L1066.1 1207.5L1066.7 1205.7L1067.5 1221.1L1068.3 1195L1068.8 1224.8L1069.6 1198.8L1070.3 1217.1L1071.1 1198.3L1071.6 1300.5L1072.5 1257.9L1073.3 1264.4L1073.8 1298.5L1074.7 1300.2L1075.5 1297.2L1076.3 1278.3L1076.8 1302.3L1077.4 1305L1078.3 1266.1L1078.9 1268.5L1079.8 1261.2L1080.5 1280.9L1081.3 1291.4L1081.9 1267.7L1082.4 1252.2L1082.9 1270.7L1083.5 1277.9L1084.5 1272.1L1085.2 1267.8L1086 1286.6L1086.6 1277.3L1087.4 1299.1L1088 1292.3L1088.8 1313.9L1089.3 1312.4L1090 1270.8L1090.6 1316.5L1091.2 1309.8L1092.1 1286.9L1092.8 1297.3L1093.3 1296.4L1094 1280.6L1094.5 1309.7L1095.3 1299.3L1095.9 1280.1L1096.8 1306.8L1097.5 1303.7L1098.4 1301L1099.2 1289.2L1099.8 1265.1L1100.4 1295.3L1101 1282.6L1101.9 1282.9L1102.8 1299.2L1103.7 1278.5L1104.2 1314.7L1104.9 1270.2L1105.8 1271.9L1106.4 1289.6L1106.9 1278.9L1107.4 1281L1107.9 1283.6L1108.5 1273.7L1109.4 1280.2L1110.3 1313.2L1111.2 1284.6L1111.9 1287.9L1112.5 1287.5L1113.4 1283.6L1114 1287.1L1114.8 1293.2L1115.3 1269.6L1116.2 1282.5L1116.9 1273L1117.8 1262L1118.6 1304.4L1119.3 1294.2L1119.9 1288.1L1120.8 1289.6L1121.3 1270.3L1122 1279.8L1122.6 1291.1L1123.2 1274.6L1124 1291.1L1124.6 1288L1125.3 1280.7L1126 1289.8L1126.8 1285.8L1127.6 1269.7L1128.4 1299.3L1129.4 1267.8L1127.2 1260L1134.8 1226L1133.5 1213.5L1129.8 1149.8L1127.2 1136L1127.2 1114.8L1127.2 1094.8L1129.8 1100.8L1132.2 1260L1130 1284.9L1130.8 1250L1131.2 1279.1L1132.1 1266.8L1132.8 1292.6L1133.5 1284.5L1134.4 1320L1135.2 1267.9L1135.8 1273.5L1136.6 1281.6L1137.6 1250L1138.1 1280.2L1138.6 1290.7L1139.3 1288.3L1140.2 1288L1140.8 1298.4L1141.5 1302.6L1142.1 1318.8L1143.1 1311.4L1143.7 1320L1144.2 1316.2L1144.9 1320L1145.7 1320L1146.4 1320L1147 1298.9L1147.7 1320L1148.4 1281.1L1149.3 1293L1150 1305.6L1150.5 1293L1151.1 1307.6L1151.6 1305.1L1152.5 1290.9L1153 1289.6L1153.7 1320L1154.3 1320L1154.7 1319.3L1155.5 1320L1156.2 1320L1156.8 1320L1157.4 1310L1158 1320L1158.7 1308.9L1159.4 1290.1L1160.1 1292.7L1160.6 1302.1L1161.5 1292.7L1162.4 1307.9L1163.1 1301.9L1163.9 1279.9L1164.4 1320L1165.1 1305.5L1166 1320L1166.5 1306.9L1167.4 1311L1168.2 1302.5L1168.9 1290.4L1169.6 1275.7L1170.4 1267.1L1171.1 1273.7L1171.7 1306.1L1172.5 1294.9L1173.1 1272.6L1174 1291.4L1174.7 1276.6L1175.2 1282.1L1176.1 1287.5L1176.6 1279.1L1177.5 1278.6L1178.2 1281L1179.1 1295.7L1179.8 1268.6L1180.7 1265.4L1181.5 1283L1182.1 1288.7L1182.6 1253.4L1183.4 1253.7L1184.1 1292.4L1185 1303.1L1185.6 1276.1L1186.1 1270.9L1186.8 1258.2L1187.6 1271.7L1188.1 1260.9L1188.7 1271.4L1189.4 1273L1190.1 1269L1191 1254.6L1192 1253.5L1192.7 1263.5L1193.5 1305.5L1194.2 1279L1194.9 1278L1195.6 1251.6L1196.3 1253.8L1197.2 1261.2L1197.9 1250L1198.6 1273.1L1199.1 1250L1200 1255.4L1200.7 1250L1198.5 1260L1178.5 1223.5L1178.5 1206L1208.5 1193.5L1178.5 1174.8L1204.8 1174.8L1202.2 1153.5L1178.5 1139.8L1213.5 1124.8L1192.2 1102.2L1208.5 1087.2L1201 1079.8L1211 1012.2L1202.2 991L1211 984.8L1202.2 946L1188.5 909.8L1189.8 891L1206.8 889.8L1197.2 805.5L1189.8 798L1206.8 780.5L1191 773L1203.5 769.2L1204.8 718L1204.8 671.8L1188.5 581.8L1197.2 580L1191.8 568L1195 515.5L1195.2 509.2L1197.8 515.2L1203.5 1260L1201.2 1250L1201.9 1250L1202.7 1279.1L1203.5 1288.2L1204 1278.7L1204.6 1261.8L1205.4 1265.2L1206 1250L1207 1257.2L1207.4 1261.1L1208.2 1265.2L1208.6 1286.6L1209.5 1265.3L1210 1252.7L1210.6 1250L1211.4 1250L1211.8 1250L1212.7 1266.9L1213.5 1265.7L1214.4 1256.3L1215.2 1253L1215.9 1265.3L1216.5 1277.8L1216.9 1278.5L1217.5 1268L1218.1 1268L1218.8 1268L1219.4 1271.1L1220 1268L1220.8 1268L1221.4 1278.7L1222 1271.8L1222.9 1283.7L1223.5 1282.4L1224.3 1284.9L1225 1268.4L1225.9 1273L1226.6 1268L1227.4 1274.3L1227.8 1268L1228.7 1282.8L1229.7 1275L1230.2 1271.9L1230.6 1302.4L1231.4 1286.6L1232.3 1286.8L1233.2 1270.6L1233.9 1294L1234.4 1283L1234.9 1293L1235.6 1280.3L1236.3 1305.5L1236.9 1312L1237.9 1312L1238.5 1312L1239.4 1295.1L1240.1 1312L1240.7 1310.5L1241.2 1302.3L1241.9 1299.3L1242.8 1294.8L1243.4 1301.4L1243.9 1272.3L1244.5 1301.7L1245.1 1293.6L1245.7 1292.6L1246.5 1275.2L1247.1 1305.3L1247.9 1290.6L1248.4 1286.6L1249.2 1283.8L1249.9 1272.6L1250.4 1274.8L1251.3 1280.4L1252.1 1281.7L1252.9 1268L1253.7 1283.4L1254.6 1272.4L1255.5 1278.3L1256.2 1271.9L1256.7 1268L1257.2 1276.9L1257.9 1287.6L1258.8 1273.5L1259.3 1300.3L1259.9 1280.4L1260.8 1274.6L1261.3 1291.3L1262.1 1287.2L1262.8 1297.6L1263.2 1293.5L1263.8 1291.6L1264.5 1302.5L1265.2 1287.4L1266.1 1299.8L1266.9 1303.9L1267.8 1309.1L1268.5 1295.5L1269.4 1287.5L1270.1 1295.7L1270.9 1312L1271.5 1310.4L1272.2 1312L1272.9 1306.7L1273.6 1283.5L1274.3 1296.1L1275 1305.6L1275.7 1300.6L1276.6 1296.5L1277.2 1281.2L1278.1 1291.7L1278.6 1297.6L1279.1 1295.8L1279.9 1286.4L1280.6 1281.1L1281.4 1276.9L1282.2 1289.3L1283.1 1288.8L1283.6 1294.2L1284.4 1308.2L1285 1304.5L1285.6 1275.7L1286.2 1295.1L1287 1288.7L1287.8 1293.3L1288.4 1282.7L1288.9 1288.4L1289.4 1277.5L1290.1 1273.1L1290.6 1268.5L1291.4 1276.6L1292.2 1281.9L1293 1280.3L1293.7 1309.4L1294.4 1284.9L1295.2 1286L1295.7 1285.8L1296.6 1310.7L1297.1 1305.3L1297.8 1300.3L1298.6 1301.1L1299.3 1297.1L1299.8 1290.2L1300.7 1291.1L1301.4 1312L1302.3 1287.4L1303.2 1289.3L1303.9 1289.9L1304.6 1284.5L1305.2 1299.7L1305.9 1300.2L1306.6 1315.9L1307.3 1307.2L1307.8 1317.8L1308.3 1295.6L1308.8 1284.7L1309.4 1273.5L1309.9 1297.6L1310.8 1308.3L1308.8 1243.8L1310.8 1232.2L1309.5 1192.2L1311.2 1154.8L1311.2 1118.5L1313.8 1124.5L1313.8 1243.8L1311.7 1289.9L1312.2 1294.4L1312.8 1287.4L1313.4 1297.2L1314.2 1288.4L1315 1310.5L1316 1311.1L1316.8 1318.8L1317.5 1291.3L1318 1307.8L1318.5 1321.4L1319.4 1272L1319.9 1306.9L1320.7 1283.1L1321.5 1265.6L1322.3 1309.6L1323.1 1322.2L1323.6 1266.6L1324.2 1302.8L1324.9 1322.5L1325.8 1322.6L1326.3 1289.8L1327.2 1262.7L1327.9 1323L1328.9 1261.6L1329.8 1293.4L1330.6 1270.5L1331.3 1272.4L1332.3 1254.7L1332.8 1304.2L1333.7 1247.9L1334.6 1287.2L1335.2 1266.9L1336.1 1289.7L1337 1230.9L1337.8 1244.6L1338.6 1230.5L1339.4 1224.1L1340.1 1267.3L1341 1258.7L1341.7 1218.9L1342.6 1242.5L1343.3 1259.9L1343.9 1264.3L1344.4 1245.6L1345 1257.3L1345.9 1274.6L1346.6 1218.5L1347 1255.3L1347.7 1239L1348.2 1249.2L1348.7 1246.1L1349.6 1249.6L1350.2 1230L1350.9 1236.1L1351.5 1236.7L1352 1205L1352.9 1206.7L1353.7 1205L1354.6 1206.9L1355.4 1205L1356.3 1222.1L1356.9 1232.5L1357.8 1220.9L1358.6 1205L1359.4 1205L1360.2 1248.9L1361.1 1205L1361.7 1205L1362.3 1205L1362.8 1205L1363.6 1223.7L1364.6 1218L1365.5 1242L1366.1 1212.6L1366.8 1233.7L1367.4 1205L1368 1205L1368.5 1205L1369 1211.2L1369.9 1205L1370.7 1205L1371.5 1222.7L1372.1 1254.2L1372.9 1205L1373.6 1205L1374.3 1219.2L1375.1 1222.4L1375.8 1252.8L1376.5 1248L1377 1205.2L1377.7 1205L1378.4 1222.1L1376 1215L1382 1244.8L1365.8 1230.2L1369.5 1204.8L1388.2 1199.2L1393.2 1176.8L1389.5 1161L1369.5 1157.8L1388.2 1151L1370.8 1131L1380.2 1118.5L1367 1109.8L1372 1089.8L1382 1079.8L1372 1067.2L1393.2 1064L1373.2 1053.5L1393.2 1043.5L1393.2 1005.2L1375.2 986.5L1385.8 979.8L1384.5 899L1378.2 862.8L1378 855.5L1378.5 769.2L1377 727.2L1377 679.2L1379.5 685.2L1381 1215L1378.9 1225.3L1379.5 1224.3L1380.1 1212.7L1381 1231.4L1381.8 1205L1382.6 1234.8L1383.4 1205L1384.1 1205L1384.7 1205L1385.4 1255.8L1386.2 1256.3L1386.9 1255.3L1387.6 1227.1L1388.3 1217.3L1389.1 1257.4L1389.6 1283.8L1390.4 1266.3L1391.1 1311.5L1391.6 1313.9L1392.5 1325L1393.3 1301.4L1393.9 1302.9L1394.8 1325L1395.4 1304.3L1396.3 1325L1396.8 1300.3L1397.7 1325L1398.5 1311.6L1399.1 1282.2L1399.8 1325L1400.5 1325L1401.1 1325L1401.8 1325L1402.6 1324.3L1403.4 1310.6L1404.1 1308L1404.7 1321.6L1405.4 1320.8L1405.8 1320.2L1406.4 1313.6L1407.2 1306L1408 1317.5L1408.7 1304.2L1409.6 1303.5L1410.5 1296.3L1411.3 1287.1L1412.1 1293L1412.6 1292.7L1413.2 1281.2L1413.7 1274.1L1414.5 1305.9L1415.4 1305.1L1416.3 1282.8L1417.2 1315L1418.1 1294.9L1418.6 1310.1L1419.5 1302.1L1420.3 1285.1L1420.8 1270.5L1421.4 1266.9L1422.1 1285.9L1422.9 1293.9L1423.4 1295.6L1424.3 1283.2L1425.1 1271L1425.9 1296.6L1426.4 1255L1427.3 1267.6L1427.9 1255L1428.3 1278.3L1428.8 1255L1429.7 1287.8L1430.4 1260.8L1431 1255L1432 1275.8L1432.7 1270.3L1433.1 1281.4L1433.9 1285.2L1434.7 1281.2L1435.3 1256.1L1436.3 1255L1437 1276.5L1437.8 1260.5L1438.3 1267.7L1439 1266.1L1437 1265L1438.2 1231L1439.5 1202.2L1439.5 1171L1435.8 1154.8L1438.2 1160.8L1442 1265L1439.7 1284.4L1440.6 1284.8L1441.2 1277.3L1441.8 1259.6L1442.7 1282.7L1443.4 1288.3L1444.3 1310.1L1445.2 1262.4L1445.7 1280.5L1446.2 1274.9L1446.7 1297.7L1447.3 1304.5L1447.8 1300.5L1448.7 1278.7L1449.6 1303.1L1450.2 1294.1L1450.7 1282.8L1451.2 1278.5L1452 1287L1452.9 1272.5L1453.4 1255L1454.1 1255L1454.9 1255.9L1455.6 1265.5L1456.1 1255L1456.9 1255L1457.4 1255L1458.1 1255L1458.9 1255L1459.6 1255L1460.5 1255L1461.3 1255L1462.2 1255L1462.8 1273L1463.3 1261.8L1464.1 1271.9L1465 1288.8L1465.5 1274.3L1466.2 1308L1466.8 1304.2L1467.3 1294.9L1468.2 1293L1468.8 1282.5L1469.3 1278.6L1470.1 1267.8L1470.7 1255L1471.6 1255L1472.2 1260L1472.9 1255.1L1473.8 1259.9L1474.4 1261.8L1475.2 1238.9L1476.1 1234.5L1477 1276.2L1477.7 1250.4L1478.3 1256.9L1479.2 1282.1L1479.9 1280.1L1480.5 1249L1481.5 1285.4L1482.4 1284.9L1483.3 1248.3L1484.2 1243.4L1484.8 1227.9L1485.3 1267.6L1485.8 1276.2L1486.5 1290.4L1487 1262.8L1487.8 1256.1L1488.4 1246.8L1489.1 1289.7L1489.9 1253.2L1490.6 1261.2L1491.5 1292L1492.2 1254.8L1492.8 1215L1493.4 1231.2L1494.1 1272.3L1495 1242.8L1495.7 1242.6L1496.6 1215L1497.3 1215L1498.1 1215L1498.6 1215L1499.5 1223L1500 1226.9L1500.9 1236.3L1501.6 1220.1L1502.5 1215L1503 1215L1503.7 1230.9L1504.3 1220L1504.8 1215L1505.4 1230.3L1506.3 1215L1507 1215L1507.8 1215L1508.4 1221.3L1509 1215L1509.5 1282.4L1510.2 1277.3L1508 1225L1514.5 1258.5L1487 1253.5L1524.5 1242.2L1497 1224.8L1527 1218.5L1517 1217.2L1494.5 1203.5L1484.5 1192.2L1522 1187.2L1499.5 1178.5L1483.2 1174.8L1515.8 1164.8L1523.2 1159.2L1482 1153.5L1502 1141L1523.2 1127.2L1502 1118.5L1523.2 1114.8L1514 1098.5L1507 1046L1507 961.5L1514 943L1511.5 824.8L1508.8 789.8L1508.8 756.2L1510.5 706.8L1512.5 686.8L1510.5 673L1510.5 623.8L1513 629.8L1513 1225L1510.7 1233.4L1511.3 1282.5L1511.9 1249.5L1512.3 1287.8L1513 1275L1513.8 1292.1L1514.7 1320L1515.7 1312L1516.1 1320L1516.9 1280.5L1517.5 1281.7L1517.9 1280.9L1518.6 1273.4L1519.5 1313.6L1520.4 1299.9L1521.2 1298L1521.8 1285.4L1522.6 1233.6L1523.5 1274.2L1524.1 1221.6L1524.6 1261.6L1525.2 1273.6L1526 1267.8L1526.8 1263.7L1527.4 1275.7L1527.9 1244.2L1528.9 1269.5L1529.5 1242.4L1530.3 1272L1531 1262.8L1531.5 1291.4L1531.9 1267.4L1532.5 1265.2L1533.1 1281.6L1534 1270.4L1534.8 1230.2L1535.3 1287.7L1536.2 1225.5L1536.8 1289.3L1537.8 1267.8L1538.6 1246.5L1539.4 1306.4L1540.2 1308.6L1540.7 1274.8L1541.4 1253.8L1542.3 1243.5L1543 1289.9L1543.9 1310.9L1544.5 1258.2L1544.9 1266.5L1545.5 1277.3L1546 1301.1L1546.5 1305.4L1547.2 1310.5L1547.6 1315L1548.2 1315L1549.1 1315L1549.6 1315L1550.5 1315L1551.1 1301.2L1551.8 1285.6L1552.4 1290L1553.1 1282.6L1553.8 1295.1L1554.3 1315L1555.1 1284.1L1555.8 1298.4L1556.5 1307.7L1557.3 1299.2L1558.2 1304.8L1559.1 1315L1559.7 1298.3L1560.3 1315L1561 1287.2L1561.8 1296.9L1562.7 1271.2L1563.5 1296.4L1564 1315L1564.8 1315L1565.5 1315L1566.1 1315L1566.7 1303.3L1567.5 1315L1568.2 1308.7L1568.6 1285.2L1569.3 1264.9L1570.1 1291.3L1570.9 1279.7L1571.4 1261.4L1572 1253.5L1572.8 1250.7L1573.7 1263.5L1574.4 1275.6L1574.9 1246.5L1575.7 1260.5L1576.2 1276.4L1576.8 1315L1577.7 1288.4L1578.5 1271.6L1579.2 1279.5L1579.9 1265L1580.5 1302.5L1581.3 1266.9L1582.2 1267.3L1582.9 1263.1L1583.5 1253.9L1584.1 1237.8L1584.9 1267.4L1585.6 1232L1586.5 1241.6L1587.3 1246.5L1587.9 1241.7L1585.8 1242L1592 1243.5L1560.8 1228.5L1582 1223.5L1598.2 1217.2L1584.5 1206L1577 1194.8L1597 1191L1575.8 1184.8L1597 1162.2L1588.2 1148.5L1597 1137.2L1593.2 1099.8L1595 1093.5L1582.8 1088.5L1585.2 1067.8L1595 1046L1582.8 1038.5L1595 1025.2L1582.8 1019.8L1585.2 1025.8L1590.8 1242L1588.6 1246.1L1589.2 1250.3L1589.9 1271.6L1590.7 1278.2L1591.4 1256.6L1591.9 1259.4L1592.5 1296.4L1593.2 1310.9L1593.7 1270.7L1594.3 1292.4L1595.1 1307L1595.9 1315L1596.5 1315L1597.1 1289.3L1597.6 1308.8L1598.2 1301.8L1598.9 1298.3L1599.8 1302.2L1600.6 1270.7L1601.2 1280.4L1602.1 1261.5L1602.7 1284L1603.5 1240.9L1604.2 1265.2L1605 1252.8L1605.5 1263.7L1606.1 1253.6L1606.8 1241.5L1607.3 1231.5L1608.1 1252.5L1608.9 1229.6L1609.4 1227L1610.1 1234.7L1610.7 1246.2L1611.4 1249L1612 1252.1L1612.9 1245.9L1613.5 1279.2L1614.1 1217.2L1615.1 1261.1L1615.6 1308.6L1616.5 1233.2L1617.3 1241.9L1618 1253L1618.7 1229L1619.5 1226.8L1620.3 1209.2L1621 1254.6L1621.7 1237.4L1622.2 1233L1622.9 1211.2L1623.7 1234.4L1624.6 1205L1625.5 1238.2L1626 1262.2L1626.8 1210.5L1627.6 1250.4L1628.5 1248.5L1629.1 1254.2L1629.6 1258.3L1630.2 1254.2L1631 1212.9L1631.6 1209.6L1632.5 1215.9L1633.3 1237.2L1633.8 1205L1634.3 1255.7L1635.1 1243.6L1635.6 1285.8L1636.6 1252.3L1637.2 1224.9L1638 1265.1L1638.5 1239.2L1639.5 1245L1640.1 1218.6L1640.8 1236.5L1641.5 1205L1642.1 1240.1L1642.6 1205L1643.4 1265L1644.3 1248.5L1644.8 1245.3L1645.2 1221.8L1646 1205L1646.9 1254.2L1647.6 1244.1L1648.1 1238.2L1648.7 1275L1647 1215L1660.8 1219.8L1634.5 1218.5L1658.2 1204.8L1629.5 1201L1647 1198.5L1648.2 1173.5L1649.5 1162.2L1651.2 1151L1649.5 1132.2L1649.5 1114.8L1652 1120.8L1652 1215L1649.5 1272L1650.3 1261.4L1651.2 1255.3L1651.8 1231.9L1652.7 1232.9L1653.3 1229L1654.2 1232.7L1654.8 1205L1655.4 1205L1656.3 1248L1657.2 1218.9L1658.1 1243.9L1658.7 1224.3L1659.3 1243.9L1659.9 1226.1L1660.8 1266.9L1661.5 1242.8L1662.3 1247.9L1663 1224.4L1663.6 1256.6L1664.2 1264.2L1664.7 1230L1665.6 1244.2L1666 1266.3L1666.8 1253.6L1667.5 1267.4L1668.2 1234.8L1669.1 1246.6L1670 1263L1670.9 1215.8L1671.6 1246.1L1672.1 1215L1673.1 1206.8L1673.9 1228.4L1674.4 1246.8L1675.3 1205.7L1676.2 1230.6L1677.1 1277.9L1677.8 1300.2L1678.6 1266.7L1679.3 1269.8L1680 1243.2L1680.7 1238.4L1681.3 1279.2L1681.9 1228.4L1682.5 1208L1683 1205L1683.4 1260.9L1684.4 1216.6L1684.9 1241.7L1685.4 1229.9L1686.1 1217.2L1686.9 1260.6L1687.6 1241L1688.2 1235.3L1688.8 1290.4L1689.6 1249.8L1690.4 1230L1691.3 1249.9L1691.9 1273L1692.3 1277.7L1693.2 1241L1693.7 1257.7L1694.4 1271.1L1695.2 1268.5L1693.2 1215L1707 1223.5L1697 1197.2L1695.8 1172.2L1695.8 1162.2L1695.8 1141L1698.2 1147L1698.2 1215L1696 1262.2L1696.9 1249.2L1697.4 1301.8L1698 1253.3L1698.7 1297.2L1699.6 1295.2L1700.1 1305L1700.7 1305L1701.5 1305L1702.1 1289.4L1702.5 1305L1703.5 1296.8L1704.1 1256.9L1704.7 1274.1L1705.3 1261.9L1706.2 1302.1L1706.9 1265.6L1707.5 1253.2L1708 1277.4L1708.8 1268.3L1709.7 1305L1710.3 1305L1710.8 1290.4L1711.2 1305L1712.1 1305L1713.1 1301.2L1714 1274.6L1714.8 1290.9L1715.8 1305L1716.4 1305L1717.3 1305.4L1717.8 1305.2L1718.5 1304L1719.3 1301.1L1719.8 1269.6L1720.5 1280.3L1721.2 1289L1722.1 1258.8L1723 1288.2L1723.5 1252.3L1724 1282.6L1724.9 1312L1725.8 1290.6L1726.5 1312L1727 1312L1727.4 1306.6L1728 1301.2L1725.8 1218.4L1727 1224.8L1739.5 1211L1728.2 1186L1728.2 1142.2L1727 1121L1729.5 1127L1730.8 1218.4L1728.5 1280.2L1729 1257.1L1729.5 1246.8L1730.1 1261.6L1730.8 1262.7L1731.4 1258.5L1732.1 1255L1732.6 1277.2L1733.3 1279.8L1734.2 1252.7L1734.7 1303.1L1735.6 1261.8L1736.3 1268.7L1736.9 1249.8L1737.8 1257.3L1738.4 1294.8L1739 1269.1L1739.8 1272.8L1740.5 1271.5L1741.2 1235.4L1741.7 1265.4L1742.6 1242.2L1743.1 1215.2L1743.9 1209.3L1744.6 1209.4L1745.4 1259.1L1746.2 1235.1L1746.7 1256.1L1747.4 1258.3L1748.3 1262.5L1749.2 1215.3L1749.7 1252.7L1750.5 1271.3L1751 1251.9L1751.6 1209.8L1752.4 1246L1753.1 1212.5L1753.6 1224.9L1754.1 1253.8L1755 1213.3L1755.6 1216.2L1753.2 1220.1L1754.5 1222.2L1755.8 1206L1754.5 1193.5L1755.8 1169.8L1753.8 1129.8L1755.8 1109.8L1758.2 1115.8L1758.2 1220.1L1756.4 1211.8L1756.9 1210.1L1757.8 1210.2L1758.5 1210.2L1759.2 1214.8L1760.2 1218.9L1760.7 1242.9L1761.5 1248.5L1762.1 1237.2L1762.9 1247.8L1763.6 1210.6L1764.2 1216.7L1764.8 1218.5L1765.5 1229.5L1766 1214.4L1766.8 1210.8L1767.4 1228.2L1768.2 1219.5L1768.8 1218.9L1769.3 1231.3L1770 1219.1L1770.5 1213.6L1771.4 1211L1771.8 1226.2L1772.4 1264.7L1772.9 1211.1L1773.5 1211.2L1774.2 1211.2L1774.9 1215.7L1775.8 1211.3L1776.4 1211.3L1776.9 1229.7L1777.7 1227.9L1778.2 1232.5L1775.8 1221.5L1778.2 1228.5L1775.8 1173.5L1778.2 1164.8L1775.8 1149L1778.2 1155L1780.8 1221.5L1778.9 1223.1L1779.7 1226.1L1780.5 1233.4L1781.2 1252.1L1781.7 1229.5L1782.2 1236L1782.8 1219.7L1783.8 1244.7L1784.6 1236L1785.1 1271.2L1785.9 1289.6L1786.5 1312L1787 1282.2L1787.9 1256.8L1788.7 1221.4L1789.4 1246.4L1790.3 1254.9L1791.1 1225.2L1791.6 1212.3L1792.2 1232.8L1792.8 1249.5L1793.6 1249.7L1794.1 1242L1793.2 1211L1794.5 1193.5L1794.9 1249.8L1795.7 1257.7L1796.2 1241.7L1796.9 1239L1797.8 1239.9L1798.3 1212.7L1799.2 1243.2L1800 1213.2L1800.8 1212.8L1801.6 1222.5L1802.2 1212.9L1802.8 1213L1803.2 1213L1803.9 1213L1804.4 1213.1L1805.2 1218.1L1805.8 1213.1L1806.5 1213.2L1807.2 1228.1L1807.7 1213.3L1808.3 1266.6L1808.7 1248.7L1809.5 1213.4L1810.1 1213.4L1810.7 1218.6L1811.1 1213.5L1812.1 1213.5L1813 1213.6L1813.7 1213.6L1814.3 1241L1814.7 1234.7L1815.2 1251.7L1815.8 1252.9L1816.6 1249.1L1817.4 1302.1L1818.3 1280.2L1818.8 1282L1819.3 1274.5L1819.8 1269.8L1820.7 1269.7L1821.6 1241.5L1819.5 1224.1L1832.2 1238.5L1830.8 1218.5L1810.8 1217.2L1812 1206L1830.8 1206L1820.8 1182.2L1823.2 1168.5L1812 1154.8L1822 1149.8L1824.5 1155.8L1824.5 1224.1L1822.4 1239.3L1823.2 1251.3L1823.7 1270.4L1824.2 1273.9L1824.8 1287L1825.5 1237.3L1826.4 1256.7L1827.3 1244.9L1828 1244L1828.4 1243.8L1829.1 1276.2L1829.7 1303.3L1830.4 1312L1831.3 1311.5L1831.9 1257.8L1832.8 1269.1L1833.3 1296.4L1833.9 1267.9L1834.6 1264.4L1835.3 1270.1L1835.9 1260.4L1836.9 1256.3L1837.4 1281.1L1837.9 1267.3L1838.5 1276.4L1839.1 1254.6L1839.9 1272.7L1840.4 1286.3L1841.3 1282.6L1842.2 1290.2L1842.2 1272.5L1842.8 1293.6L1843.7 1287.1L1844.5 1295.8L1845.2 1294.9L1846 1287.6L1846.8 1298.1L1847.6 1294L1848 1293.1L1848.5 1293.4L1849.1 1296.4L1849.8 1297.8L1850.4 1294.2L1851.3 1295.3L1851.8 1296.7L1852.4 1297.8L1853.1 1285.1L1853.7 1280.2L1854.2 1282.4L1854.7 1291.1L1855.4 1282.2L1856 1275L1856 1283.5L1856.8 1284.7L1857.6 1280.2L1858 1289L1858.5 1285.9L1859.4 1285.2L1859.9 1280.2L1860.5 1282.5L1861.3 1286.9L1862 1287.5L1862.8 1288.9L1863.3 1287.7L1863.9 1295.8L1864.6 1281.6L1865.5 1289.1L1866.2 1293.8L1866.7 1286.9L1867.2 1288.8L1867.9 1284.7L1868.6 1287.6L1869.2 1287L1869.7 1291.4L1870.2 1287.4L1870.9 1287.3L1871.4 1294.3L1872.1 1289L1872.6 1291.4L1873.3 1288.8L1874.2 1288L1875 1294.5L1875.6 1292.3L1876.5 1288.6L1877.2 1280.5L1877.7 1284.1L1878.6 1287.8L1879.4 1291L1880.2 1282.5L1880.7 1291L1881.2 1294.1L1881.9 1297.8L1882.6 1289L1883.3 1297.1L1883.5 1267.5L1884.2 1296.2L1885 1292.5L1886 1293L1886.6 1297.8L1887.2 1293.1L1888 1298.6L1888.5 1297.5L1889.4 1296.5L1890.2 1298.7L1890.8 1295.3L1891.6 1295.2L1892.5 1289.9L1893 1292.4L1893.9 1291.6L1894.7 1291.1L1895.2 1289.3L1896.1 1283.4L1896.8 1291.5L1897.6 1285.7L1898.2 1291.3L1898.8 1290.6L1899.6 1285.1L1900.4 1280.8L1901.1 1283.7L1901.6 1290L1902.2 1286.8L1903 1286.7L1903.7 1286.2L1904.4 1286.4L1905.1 1284.7L1905.6 1280.9L1906.3 1288.9L1907.2 1296.5L1907.9 1284.7L1908.4 1284.2L1909.2 1291.3L1909.9 1290.6L1910.8 1292.3L1911.7 1295.4L1912.6 1296.2L1913.2 1298.9L1914.1 1290.5L1914.9 1286.8L1915.5 1289L1915.9 1295.2L1916.4 1288.7L1916.9 1296.8L1917.8 1294.3L1918.5 1283.3L1919.4 1281L1919.9 1281.2L1920.7 1288.6L1921.3 1287L1922.1 1285.7L1922.6 1285.7L1923.1 1281.1L1923.7 1290.9L1924.4 1289.2L1925.1 1286.8L1925.8 1290.7L1926.4 1290L1926.9 1292.6L1927.4 1284.6L1928 1285.3L1928.9 1290.7L1929.4 1287.2L1930.1 1287.1L1931 1290.1L1931.5 1295.8L1932.2 1299.2L1933 1289.6L1933.7 1292.9L1934.6 1299.3L1935.4 1293.5L1936.3 1297.6L1936.9 1296.2L1937.8 1296L1938.5 1297.2L1939 1299.3L1939.6 1299.3L1940.2 1294.7L1941.1 1294.4L1942 1284.9L1942.5 1288.7L1943.4 1282.1L1944.1 1281.4L1944.9 1288.9L1945.7 1281.5L1946.3 1290.2L1947.1 1282.6L1947.9 1289.6L1948.9 1286.3L1949.6 1286L1950.5 1284.5L1951.2 1286.6L1951.7 1288.7L1952.4 1282L1953.1 1286.8L1953.6 1281.5L1954.5 1284L1955.2 1281.5L1956.1 1282.9L1956.7 1285.1L1957.3 1282.8L1957.8 1292.4L1958.6 1285.4L1959.1 1281.6L1959.7 1287.7L1960.6 1282.9L1961.1 1288.4L1962 1294.1L1962.9 1288.2L1963.7 1289.7L1964.6 1281.7L1965.2 1286.7L1965.8 1292.6L1966.5 1292.7L1967.1 1293.8L1967.7 1298.3L1968.5 1299.7L1969.1 1299.6L1970 1299.7L1970.5 1299.7L1971 1299.7L1971.7 1295.2L1972.6 1293.9L1973.5 1294.8L1974 1285.9L1974.4 1289.8L1974.9 1290.6L1975.6 1294.7L1976.2 1299.8L1976.9 1299.8L1977.7 1299.6L1978.6 1299.8L1979.2 1298.6L1980.1 1293.7L1980.9 1299.9L1981.6 1299.9L1982.1 1299.9L1982.8 1299.9L1983.3 1299.9L1983.9 1297.9L1984.8 1288.5L1985.2 1294L1985.7 1282.2L1986.6 1293.2L1987.3 1295.7L1988 1290.8L1988.8 1287.9L1989.4 1289.5L1989.9 1299.1L1990.6 1293.1L1991.3 1300L1992 1297.5L1992.7 1299.5L1993.4 1300L1993.8 1300L1994.7 1297.6L1995.7 1293.5L1996.4 1289.5L1997.2 1293.9L1997.7 1291.9L1998.3 1296.1L1999.1 1295L1997.2 1291.9L2003.5 1272.5L2001 1258.5L2001 1251L1998.5 1219.8L1999.8 1196L1997.8 1172.2L1997.8 1129.8L2000.2 1135.8L2002.2 1291.9L1999.9 1285.3L2000.7 1286.3L2001.4 1284.9L2002.1 1292.2L2002.8 1292.1L2003.5 1288.3L2004 1294.1L2004.9 1289.9L2005.8 1290.3L2006.3 1295L2007 1289.9L2007.5 1292.8L2008.2 1297.8L2009 1296.6L2009.6 1298.3L2010.5 1293.1L2011.2 1287.7L2011.8 1294.1L2012.6 1294.7L2013.1 1293.5L2014 1291.1L2014.5 1293.8L2015.1 1288.6L2015.6 1287.7L2016.4 1285.4L2016.9 1288.6L2017.5 1290.7L2018.1 1290.5L2018.7 1290.9L2019.2 1292.8L2019.8 1282.2L2020.4 1289.2L2021.2 1287.5L2021.7 1289.1L2022.3 1281.7L2023 1286.5L2023.9 1287.9L2024.4 1281.7L2024.9 1282.5L2025.5 1284.7L2026.3 1282.4L2027.2 1284.8L2028.1 1286.5L2028.7 1281.6L2029.5 1287.1L2030.2 1281.6L2030.9 1287.2L2031.8 1285.5L2032.3 1291.1L2033.2 1291.2L2033.9 1294.7L2034.6 1294.5L2035.2 1299.6L2036.1 1298L2036.8 1294.2L2037.8 1291.5L2038.5 1293.1L2039 1298.2L2039.6 1294.7L2040 1289.5L2041 1292.9L2041.7 1291.7L2042.6 1290.4L2043.2 1298L2043.7 1281.5L2044.2 1287.8L2044.9 1293L2045.4 1288L2046.3 1293L2046.8 1296.1L2047.4 1296L2048.1 1294.2L2048.7 1298.3L2049.6 1296.7L2050.2 1293.6L2050.8 1293.2L2051.2 1286L2051.7 1288.5L2052.6 1291L2053.2 1291.3L2053.7 1291.7L2054.2 1296L2054.7 1295.6L2055.6 1290L2056.1 1295.6L2056.8 1291.9L2057.6 1291L2058.3 1290.3L2059.2 1289.8L2059.7 1289.4L2060.6 1287.3L2061.1 1281.3L2062 1283.3L2062.9 1285.1L2063.4 1281.3L2064 1285.9L2064.9 1283.2L2065.5 1281.3L2066.1 1284.5L2066.9 1289L2067.4 1291.7L2067.9 1287.8L2068.7 1291.7L2069.3 1288.9L2070 1286.6L2070.7 1286L2068.5 1291.2L2069.8 1267.5L2071 1251L2071.8 1234.8L2074.2 1240.8L2073.5 1291.2L2071.3 1281.2L2072 1282.7L2072.6 1281.2L2073.4 1284.7L2074.1 1284.7L2074.9 1281.2L2075.4 1281.2L2075.9 1285.6L2076.6 1281.2L2077.2 1282.5L2078.2 1281.2L2079.1 1281.2L2080 1281.2L2080.9 1281.2L2081.7 1281.1L2082.4 1281.1L2083.3 1281.6L2084.2 1281.1L2084.7 1285.6L2085.5 1281.1L2086.4 1287.3L2087.1 1281.1L2087.9 1281.1L2088.4 1285.2L2089.3 1281.1L2090.1 1281.1L2090.5 1281.1L2091.3 1281.1L2092.2 1281L2092.8 1287.8L2093.6 1287.7L2094.5 1283.8L2094.9 1289.9L2095.5 1286.5L2096.1 1291L2097 1283.4L2097.6 1291.2L2098.3 1294.3L2099.1 1288.8L2099.8 1290.4L2100.4 1292.8L2101.3 1289.6L2102.1 1289.5L2102.7 1294.4L2103.3 1290.7L2104.2 1291.1L2105 1293.6L2105.9 1286.5L2106.8 1291L2107.7 1288.2L2108.2 1291.2L2108.7 1290.4L2109.6 1290.1L2110.4 1291.6L2111.2 1286.9L2111.8 1292.4L2112.5 1292.3L2113.4 1290.4L2114.2 1286.3L2115 1282.3L2116 1280.8L2116.6 1280.8L2117.1 1280.8L2117.9 1280.8L2118.4 1284.3L2118.8 1285.1L2119.3 1280.8L2119.8 1280.8L2120.5 1280.8L2121.1 1280.8L2121.6 1281.1L2122.1 1285L2119.8 1290.8L2134.8 1265L2111 1265L2113.5 1250L2133.5 1248.5L2118.5 1238.5L2116 1235L2132.2 1221L2131 1213.5L2122.2 1208.5L2119.8 1179.8L2122.2 1174.2L2122.2 1135.5L2118.5 1122.2L2120.5 1104.2L2123 1110.2L2124.8 1290.8L2123.1 1282.6L2124 1282.5L2124.8 1280.7L2125.4 1280.7L2125.9 1280.7L2126.7 1282.5L2127.6 1280.7L2128.1 1280.7L2129.1 1280.7L2129.5 1280.7L2130.2 1284.3L2130.9 1280.7L2131.5 1281.2L2132.1 1280.7L2132.5 1280.7L2133.1 1280.7L2134 1280.7L2134.9 1280.7L2135.4 1283.7L2136.1 1281.3L2136.9 1284.2L2137.4 1287.2L2138.3 1288.5L2139.3 1284.7L2139.8 1285.3L2140.4 1280.6L2141.2 1282.7L2141.7 1296.8L2142.3 1292.1L2142.9 1285.5L2143.5 1281.3L2144.2 1292L2145.1 1290.7L2145.7 1280.6L2146.4 1282.8L2147.2 1288.8L2148 1284.9L2148.6 1280.5L2149.4 1281.3L2149.9 1282.6L2150.4 1280.5L2150.9 1284.1L2151.8 1286.8L2152.6 1292.6L2153.1 1282.3L2153.8 1285.3L2154.6 1288.4L2155.1 1288.6L2155.7 1286.1L2156.5 1289.1L2157.4 1291.6L2158.1 1297.4L2158.9 1297.9L2159.7 1294.7L2160.6 1298.3L2161.2 1292.7L2162 1298.4L2162.7 1298.4L2163.3 1291L2163.8 1293.5L2164.6 1296.1L2165.1 1298.4L2165.7 1292.1L2166.3 1295.3L2166.9 1294.4L2167.7 1293L2168.2 1292.1L2168.7 1289.4L2169.6 1294.1L2170.5 1294.8L2171.4 1294.3L2172.1 1290.5L2172.6 1287L2173.1 1298.3L2174 1293.8L2174.8 1283.8L2175.5 1286.7L2176.1 1287.8L2176.9 1286.7L2177.4 1283.5L2178.2 1282.1L2178.9 1292.4L2179.4 1286.1L2180.3 1288L2180.9 1287.3L2181.3 1286.2L2182 1289.5L2182.6 1289.5L2183.3 1286.1L2184 1287.2L2184.9 1283.8L2185.4 1284.7L2186 1293.8L2186.9 1280.2L2187.6 1283.8L2188.5 1288.5L2189.3 1297.7L2190.2 1286.8L2191.1 1293.4L2191.9 1296.5L2192.8 1298.1L2193.5 1290.8L2194.4 1285.1L2194.8 1286.7L2195.4 1291.6L2196 1287.8L2196.8 1280.5L2197.4 1287.9L2198.2 1292.9L2199.1 1283.8L2199.7 1287.6L2200.4 1284.7L2201.1 1292.2L2201.7 1288.9L2202.2 1260L2202.5 1293.9L2203.4 1297.9L2203.9 1293L2204.5 1298L2205.1 1297.6L2205.8 1298" fill="none" stroke="#000" stroke-width="4.6" stroke-linejoin="bevel"/>
<path d="M351.2 378.8V1232M384.2 316.8V1223.8M425.8 952.2V1287M542.5 1237.5V1270.8M722.5 1133.5V1257.8M783.5 1148V1230.3M803 889.8V1226.4M838.5 724.8V1200M874.8 773V1200M909 579V1212M928.5 894.8V1212M993.5 909V1240M1057.2 1162.2V1195M1129.8 1094.8V1250M1201 509.2V1250M1311.2 1118.5V1233.8M1378.5 679.2V1205M1439.5 1154.8V1255M1510.5 623.8V1215M1588.2 1019.8V1232M1649.5 1114.8V1205M1695.8 1141V1205M1728.2 1121V1208.4M1755.8 1109.8V1210.1M1778.2 1149V1211.5M1822 1149.8V1214.1M1999.8 1129.8V1281.9M2071 1234.8V1281.2M2122.2 1104.2V1280.8" fill="none" stroke="#000" stroke-width="5.6"/>
<g fill="#0ff" stroke="#000" stroke-width="4.1">
<circle cx="231" cy="1296.6" r="10.2"/>
<circle cx="231.7" cy="1292.2" r="10.2"/>
<circle cx="232.4" cy="1288" r="10.2"/>
<circle cx="233" cy="1280.3" r="10.2"/>
<circle cx="233.5" cy="1291.9" r="10.2"/>
<circle cx="234.2" cy="1299.1" r="10.2"/>
<circle cx="234.7" cy="1298.6" r="10.2"/>
<circle cx="235.4" cy="1289.6" r="10.2"/>
<circle cx="236.2" cy="1285.3" r="10.2"/>
<circle cx="236.7" cy="1310.1" r="10.2"/>
<circle cx="237.5" cy="1318.7" r="10.2"/>
<circle cx="238" cy="1310.6" r="10.2"/>
<circle cx="238.7" cy="1299.1" r="10.2"/>
<circle cx="239.2" cy="1285.2" r="10.2"/>
<circle cx="239.9" cy="1255.5" r="10.2"/>
<circle cx="240.5" cy="1283.8" r="10.2"/>
<circle cx="241.3" cy="1261.7" r="10.2"/>
<circle cx="241.8" cy="1278.5" r="10.2"/>
<circle cx="242.4" cy="1256" r="10.2"/>
<circle cx="243.2" cy="1260.9" r="10.2"/>
<circle cx="243.8" cy="1252.1" r="10.2"/>
<circle cx="244.7" cy="1266.5" r="10.2"/>
<circle cx="245.5" cy="1257.7" r="10.2"/>
<circle cx="246" cy="1268.9" r="10.2"/>
<circle cx="246.5" cy="1254.6" r="10.2"/>
<circle cx="247.3" cy="1255.9" r="10.2"/>
<circle cx="248" cy="1257.1" r="10.2"/>
<circle cx="248.5" cy="1258.1" r="10.2"/>
<circle cx="249" cy="1267.9" r="10.2"/>
<circle cx="250" cy="1261.6" r="10.2"/>
<circle cx="250.5" cy="1272.8" r="10.2"/>
<circle cx="251.3" cy="1267.2" r="10.2"/>
<circle cx="251.9" cy="1276.2" r="10.2"/>
<circle cx="252.4" cy="1276.3" r="10.2"/>
<circle cx="253" cy="1293" r="10.2"/>
<circle cx="253.6" cy="1298.1" r="10.2"/>
<circle cx="254.2" cy="1308" r="10.2"/>
<circle cx="255.1" cy="1286.6" r="10.2"/>
<circle cx="255.9" cy="1300.2" r="10.2"/>
<circle cx="256.8" cy="1302.9" r="10.2"/>
<circle cx="257.6" cy="1296.9" r="10.2"/>
<circle cx="258.5" cy="1293" r="10.2"/>
<circle cx="259.4" cy="1286.9" r="10.2"/>
<circle cx="260.3" cy="1290.1" r="10.2"/>
<circle cx="261.2" cy="1293.2" r="10.2"/>
<circle cx="261.9" cy="1305.6" r="10.2"/>
<circle cx="262.7" cy="1297.4" r="10.2"/>
<circle cx="263.6" cy="1300.3" r="10.2"/>
<circle cx="264.3" cy="1300.6" r="10.2"/>
<circle cx="265.1" cy="1302.3" r="10.2"/>
<circle cx="265.7" cy="1303.4" r="10.2"/>
<circle cx="266.6" cy="1305.2" r="10.2"/>
<circle cx="267.4" cy="1319.5" r="10.2"/>
<circle cx="268.2" cy="1311.8" r="10.2"/>
<circle cx="269" cy="1314.3" r="10.2"/>
<circle cx="269.9" cy="1315.1" r="10.2"/>
<circle cx="270.5" cy="1313.1" r="10.2"/>
<circle cx="271.4" cy="1315.1" r="10.2"/>
<circle cx="271.9" cy="1319.8" r="10.2"/>
<circle cx="272.6" cy="1317.8" r="10.2"/>
<circle cx="273.4" cy="1319.9" r="10.2"/>
<circle cx="273.9" cy="1327.4" r="10.2"/>
<circle cx="274.6" cy="1326.8" r="10.2"/>
<circle cx="275.1" cy="1334.4" r="10.2"/>
<circle cx="275.7" cy="1338.5" r="10.2"/>
<circle cx="276.4" cy="1330.8" r="10.2"/>
<circle cx="277.3" cy="1341.2" r="10.2"/>
<circle cx="277.9" cy="1334.2" r="10.2"/>
<circle cx="278.4" cy="1335.2" r="10.2"/>
<circle cx="279.1" cy="1327.7" r="10.2"/>
<circle cx="279.9" cy="1339.9" r="10.2"/>
<circle cx="280.8" cy="1333.1" r="10.2"/>
<circle cx="281.7" cy="1324.5" r="10.2"/>
<circle cx="282.5" cy="1325.2" r="10.2"/>
<circle cx="283.1" cy="1323.5" r="10.2"/>
<circle cx="283.9" cy="1325.1" r="10.2"/>
<circle cx="284.8" cy="1328" r="10.2"/>
<circle cx="285.7" cy="1330.7" r="10.2"/>
<circle cx="286.4" cy="1323.7" r="10.2"/>
<circle cx="286.9" cy="1336" r="10.2"/>
<circle cx="287.4" cy="1329.4" r="10.2"/>
<circle cx="287.9" cy="1320.6" r="10.2"/>
<circle cx="288.7" cy="1321.2" r="10.2"/>
<circle cx="289.2" cy="1315.6" r="10.2"/>
<circle cx="290" cy="1306.3" r="10.2"/>
<circle cx="290.7" cy="1308.4" r="10.2"/>
<circle cx="291.6" cy="1301.1" r="10.2"/>
<circle cx="292.4" cy="1313.7" r="10.2"/>
<circle cx="293.1" cy="1320" r="10.2"/>
<circle cx="293.8" cy="1309.1" r="10.2"/>
<circle cx="294.5" cy="1324.5" r="10.2"/>
<circle cx="295.1" cy="1321.3" r="10.2"/>
<circle cx="295.8" cy="1318.2" r="10.2"/>
<circle cx="296.7" cy="1314.1" r="10.2"/>
<circle cx="297.5" cy="1323.6" r="10.2"/>
<circle cx="297.9" cy="1324.1" r="10.2"/>
<circle cx="298.5" cy="1308.2" r="10.2"/>
<circle cx="299.4" cy="1303.8" r="10.2"/>
<circle cx="299.9" cy="1301.7" r="10.2"/>
<circle cx="300.6" cy="1303.7" r="10.2"/>
<circle cx="301.3" cy="1286.8" r="10.2"/>
<circle cx="302.1" cy="1302.2" r="10.2"/>
<circle cx="302.9" cy="1294.2" r="10.2"/>
<circle cx="303.8" cy="1296.4" r="10.2"/>
<circle cx="304.4" cy="1288" r="10.2"/>
<circle cx="304.9" cy="1292.3" r="10.2"/>
<circle cx="305.4" cy="1282.9" r="10.2"/>
<circle cx="305.9" cy="1284.9" r="10.2"/>
<circle cx="306.4" cy="1285.4" r="10.2"/>
<circle cx="307.2" cy="1296.3" r="10.2"/>
<circle cx="307.7" cy="1285" r="10.2"/>
<circle cx="308.2" cy="1302.9" r="10.2"/>
<circle cx="309.2" cy="1289.7" r="10.2"/>
<circle cx="310.1" cy="1277.8" r="10.2"/>
<circle cx="310.8" cy="1281.8" r="10.2"/>
<circle cx="311.2" cy="1273.5" r="10.2"/>
<circle cx="311.9" cy="1277.8" r="10.2"/>
<circle cx="312.4" cy="1288.7" r="10.2"/>
<circle cx="313.3" cy="1280.2" r="10.2"/>
<circle cx="313.9" cy="1269" r="10.2"/>
<circle cx="314.8" cy="1267.5" r="10.2"/>
<circle cx="315.6" cy="1275.4" r="10.2"/>
<circle cx="316.5" cy="1247" r="10.2"/>
<circle cx="317.2" cy="1275.8" r="10.2"/>
<circle cx="317.9" cy="1275.2" r="10.2"/>
<circle cx="318.6" cy="1267.2" r="10.2"/>
<circle cx="319.2" cy="1259.6" r="10.2"/>
<circle cx="319.9" cy="1247.8" r="10.2"/>
<circle cx="320.7" cy="1275" r="10.2"/>
<circle cx="321.5" cy="1271.9" r="10.2"/>
<circle cx="322.1" cy="1278.4" r="10.2"/>
<circle cx="323" cy="1253.9" r="10.2"/>
<circle cx="323.7" cy="1239.1" r="10.2"/>
<circle cx="324.2" cy="1248.7" r="10.2"/>
<circle cx="325.1" cy="1248.8" r="10.2"/>
<circle cx="325.8" cy="1275" r="10.2"/>
<circle cx="326.5" cy="1254.8" r="10.2"/>
<circle cx="327.1" cy="1253.3" r="10.2"/>
<circle cx="327.9" cy="1262.8" r="10.2"/>
<circle cx="328.4" cy="1250.8" r="10.2"/>
<circle cx="329.3" cy="1293.8" r="10.2"/>
<circle cx="330.2" cy="1281.3" r="10.2"/>
<circle cx="330.9" cy="1301.6" r="10.2"/>
<circle cx="331.8" cy="1276.1" r="10.2"/>
<circle cx="332.6" cy="1290.3" r="10.2"/>
<circle cx="333.3" cy="1292.2" r="10.2"/>
<circle cx="333.8" cy="1270.3" r="10.2"/>
<circle cx="334.4" cy="1280.3" r="10.2"/>
<circle cx="335.1" cy="1280.1" r="10.2"/>
<circle cx="335.7" cy="1281.6" r="10.2"/>
<circle cx="336.5" cy="1312.1" r="10.2"/>
<circle cx="337.2" cy="1265.5" r="10.2"/>
<circle cx="337.7" cy="1298.1" r="10.2"/>
<circle cx="338.6" cy="1310.3" r="10.2"/>
<circle cx="339.3" cy="1317.4" r="10.2"/>
<circle cx="339.8" cy="1288.5" r="10.2"/>
<circle cx="340.5" cy="1298.3" r="10.2"/>
<circle cx="341.2" cy="1294.7" r="10.2"/>
<circle cx="341.7" cy="1269.1" r="10.2"/>
<circle cx="342.2" cy="1315.6" r="10.2"/>
<circle cx="342.9" cy="1296" r="10.2"/>
<circle cx="343.6" cy="1300" r="10.2"/>
<circle cx="344.2" cy="1303" r="10.2"/>
<circle cx="344.7" cy="1292.2" r="10.2"/>
<circle cx="345.3" cy="1304.1" r="10.2"/>
<circle cx="346.1" cy="1315.6" r="10.2"/>
<circle cx="346.9" cy="1306.5" r="10.2"/>
<circle cx="347.7" cy="1323.6" r="10.2"/>
<circle cx="348.4" cy="1315.7" r="10.2"/>
<circle cx="349.1" cy="1328.8" r="10.2"/>
<circle cx="349.8" cy="1323.3" r="10.2"/>
<circle cx="350.4" cy="1328.2" r="10.2"/>
<circle cx="351" cy="1283.1" r="10.2"/>
<circle cx="353" cy="1146.5" r="10.2"/>
<circle cx="353" cy="1078.5" r="10.2"/>
<circle cx="352.5" cy="986" r="10.2"/>
<circle cx="348.8" cy="973.5" r="10.2"/>
<circle cx="349.2" cy="671.8" r="10.2"/>
<circle cx="349.2" cy="588" r="10.2"/>
<circle cx="351.2" cy="526.8" r="10.2"/>
<circle cx="350" cy="378.8" r="10.2"/>
<circle cx="351.8" cy="1285.4" r="10.2"/>
<circle cx="352.6" cy="1294.3" r="10.2"/>
<circle cx="353.3" cy="1244.6" r="10.2"/>
<circle cx="354.1" cy="1287.6" r="10.2"/>
<circle cx="354.9" cy="1306.1" r="10.2"/>
<circle cx="355.8" cy="1277.3" r="10.2"/>
<circle cx="356.6" cy="1296.9" r="10.2"/>
<circle cx="357.5" cy="1268.8" r="10.2"/>
<circle cx="358.1" cy="1264.6" r="10.2"/>
<circle cx="358.8" cy="1240.7" r="10.2"/>
<circle cx="359.5" cy="1239.4" r="10.2"/>
<circle cx="360.3" cy="1264.9" r="10.2"/>
<circle cx="361.1" cy="1257" r="10.2"/>
<circle cx="361.7" cy="1317.2" r="10.2"/>
<circle cx="362.7" cy="1306.7" r="10.2"/>
<circle cx="363.3" cy="1296.8" r="10.2"/>
<circle cx="364" cy="1259.9" r="10.2"/>
<circle cx="364.5" cy="1270.9" r="10.2"/>
<circle cx="365.4" cy="1275.1" r="10.2"/>
<circle cx="366" cy="1243.1" r="10.2"/>
<circle cx="366.5" cy="1271.7" r="10.2"/>
<circle cx="367.3" cy="1234" r="10.2"/>
<circle cx="368" cy="1238.6" r="10.2"/>
<circle cx="368.7" cy="1269.8" r="10.2"/>
<circle cx="369.2" cy="1280.8" r="10.2"/>
<circle cx="369.9" cy="1279.4" r="10.2"/>
<circle cx="370.8" cy="1283.6" r="10.2"/>
<circle cx="371.5" cy="1260.8" r="10.2"/>
<circle cx="372.2" cy="1298.5" r="10.2"/>
<circle cx="372.8" cy="1271.2" r="10.2"/>
<circle cx="373.8" cy="1264.3" r="10.2"/>
<circle cx="374.6" cy="1245.2" r="10.2"/>
<circle cx="375.5" cy="1292.3" r="10.2"/>
<circle cx="376" cy="1250.5" r="10.2"/>
<circle cx="376.7" cy="1266.1" r="10.2"/>
<circle cx="377.4" cy="1276.1" r="10.2"/>
<circle cx="377.9" cy="1253.8" r="10.2"/>
<circle cx="378.8" cy="1258.3" r="10.2"/>
<circle cx="379.4" cy="1237.2" r="10.2"/>
<circle cx="380.2" cy="1250.6" r="10.2"/>
<circle cx="381.1" cy="1240.5" r="10.2"/>
<circle cx="381.8" cy="1264.4" r="10.2"/>
<circle cx="382.4" cy="1259.5" r="10.2"/>
<circle cx="383" cy="1272.4" r="10.2"/>
<circle cx="383.7" cy="1264.4" r="10.2"/>
<circle cx="390" cy="1219.8" r="10.2"/>
<circle cx="388.8" cy="1184.8" r="10.2"/>
<circle cx="372.5" cy="1181.5" r="10.2"/>
<circle cx="392.5" cy="1169.8" r="10.2"/>
<circle cx="376.2" cy="1153.5" r="10.2"/>
<circle cx="375" cy="1108" r="10.2"/>
<circle cx="396.2" cy="1106" r="10.2"/>
<circle cx="388.8" cy="1078" r="10.2"/>
<circle cx="377" cy="1062.2" r="10.2"/>
<circle cx="381.2" cy="1040.2" r="10.2"/>
<circle cx="381.2" cy="1012.8" r="10.2"/>
<circle cx="377" cy="986.5" r="10.2"/>
<circle cx="381.2" cy="972.2" r="10.2"/>
<circle cx="391.2" cy="944.8" r="10.2"/>
<circle cx="375" cy="942.2" r="10.2"/>
<circle cx="379.2" cy="936" r="10.2"/>
<circle cx="379.2" cy="889.8" r="10.2"/>
<circle cx="390.8" cy="857.2" r="10.2"/>
<circle cx="391.2" cy="853" r="10.2"/>
<circle cx="382.5" cy="804.2" r="10.2"/>
<circle cx="394.5" cy="802.2" r="10.2"/>
<circle cx="393" cy="789" r="10.2"/>
<circle cx="392.5" cy="783" r="10.2"/>
<circle cx="383.8" cy="690.5" r="10.2"/>
<circle cx="383.8" cy="459.8" r="10.2"/>
<circle cx="385.5" cy="413.2" r="10.2"/>
<circle cx="385.5" cy="343.8" r="10.2"/>
<circle cx="384.2" cy="316.8" r="10.2"/>
<circle cx="384.5" cy="1277.4" r="10.2"/>
<circle cx="385.1" cy="1234.9" r="10.2"/>
<circle cx="385.7" cy="1254.5" r="10.2"/>
<circle cx="386.2" cy="1242" r="10.2"/>
<circle cx="386.9" cy="1247.4" r="10.2"/>
<circle cx="387.4" cy="1267.1" r="10.2"/>
<circle cx="387.9" cy="1258.1" r="10.2"/>
<circle cx="388.7" cy="1246.2" r="10.2"/>
<circle cx="389.3" cy="1269.5" r="10.2"/>
<circle cx="390.1" cy="1256" r="10.2"/>
<circle cx="390.9" cy="1279.3" r="10.2"/>
<circle cx="391.6" cy="1271.3" r="10.2"/>
<circle cx="392.5" cy="1255.5" r="10.2"/>
<circle cx="393.3" cy="1253.3" r="10.2"/>
<circle cx="394" cy="1238" r="10.2"/>
<circle cx="394.7" cy="1251.3" r="10.2"/>
<circle cx="395.6" cy="1267.3" r="10.2"/>
<circle cx="396.2" cy="1252.2" r="10.2"/>
<circle cx="397.1" cy="1261.6" r="10.2"/>
<circle cx="398.1" cy="1261.1" r="10.2"/>
<circle cx="398.8" cy="1294.7" r="10.2"/>
<circle cx="399.7" cy="1266.9" r="10.2"/>
<circle cx="400.6" cy="1271.6" r="10.2"/>
<circle cx="401.3" cy="1295.5" r="10.2"/>
<circle cx="401.8" cy="1313.1" r="10.2"/>
<circle cx="402.8" cy="1303" r="10.2"/>
<circle cx="403.6" cy="1272.3" r="10.2"/>
<circle cx="404" cy="1279.8" r="10.2"/>
<circle cx="404.7" cy="1293.9" r="10.2"/>
<circle cx="405.3" cy="1293.3" r="10.2"/>
<circle cx="405.7" cy="1309.6" r="10.2"/>
<circle cx="406.5" cy="1294.8" r="10.2"/>
<circle cx="407.3" cy="1284.2" r="10.2"/>
<circle cx="408.2" cy="1293.3" r="10.2"/>
<circle cx="408.9" cy="1300.2" r="10.2"/>
<circle cx="409.6" cy="1305.2" r="10.2"/>
<circle cx="410.1" cy="1308.3" r="10.2"/>
<circle cx="410.8" cy="1318.1" r="10.2"/>
<circle cx="411.3" cy="1308.3" r="10.2"/>
<circle cx="412" cy="1297" r="10.2"/>
<circle cx="412.5" cy="1303.3" r="10.2"/>
<circle cx="413" cy="1305.5" r="10.2"/>
<circle cx="413.9" cy="1303.9" r="10.2"/>
<circle cx="414.7" cy="1307.5" r="10.2"/>
<circle cx="415.6" cy="1295.5" r="10.2"/>
<circle cx="416" cy="1302.2" r="10.2"/>
<circle cx="416.5" cy="1295" r="10.2"/>
<circle cx="417.1" cy="1301.9" r="10.2"/>
<circle cx="418" cy="1292.5" r="10.2"/>
<circle cx="419" cy="1298.5" r="10.2"/>
<circle cx="419.9" cy="1308.2" r="10.2"/>
<circle cx="420.5" cy="1312.3" r="10.2"/>
<circle cx="421.4" cy="1296.9" r="10.2"/>
<circle cx="422.3" cy="1309.5" r="10.2"/>
<circle cx="422.9" cy="1302.1" r="10.2"/>
<circle cx="423.5" cy="1310.3" r="10.2"/>
<circle cx="424" cy="1317.8" r="10.2"/>
<circle cx="424.5" cy="1317.2" r="10.2"/>
<circle cx="425.3" cy="1293.6" r="10.2"/>
<circle cx="430" cy="1266.2" r="10.2"/>
<circle cx="429.2" cy="1253.8" r="10.2"/>
<circle cx="416.2" cy="1248.8" r="10.2"/>
<circle cx="427.5" cy="1236" r="10.2"/>
<circle cx="422" cy="1174.2" r="10.2"/>
<circle cx="428.2" cy="1161" r="10.2"/>
<circle cx="422" cy="1149.8" r="10.2"/>
<circle cx="422" cy="1109.8" r="10.2"/>
<circle cx="423.8" cy="1069.2" r="10.2"/>
<circle cx="427.5" cy="1040.2" r="10.2"/>
<circle cx="425.8" cy="1003.5" r="10.2"/>
<circle cx="425.8" cy="972.2" r="10.2"/>
<circle cx="425.8" cy="958" r="10.2"/>
<circle cx="423.8" cy="952.2" r="10.2"/>
<circle cx="426.1" cy="1313" r="10.2"/>
<circle cx="426.9" cy="1297.1" r="10.2"/>
<circle cx="427.8" cy="1293.3" r="10.2"/>
<circle cx="428.3" cy="1299.1" r="10.2"/>
<circle cx="429.1" cy="1302.6" r="10.2"/>
<circle cx="429.7" cy="1289.7" r="10.2"/>
<circle cx="430.6" cy="1298.4" r="10.2"/>
<circle cx="431.4" cy="1298.4" r="10.2"/>
<circle cx="432" cy="1295" r="10.2"/>
<circle cx="432.8" cy="1295" r="10.2"/>
<circle cx="433.6" cy="1287" r="10.2"/>
<circle cx="434.2" cy="1298.6" r="10.2"/>
<circle cx="434.7" cy="1287" r="10.2"/>
<circle cx="435.6" cy="1290.9" r="10.2"/>
<circle cx="436.3" cy="1298.5" r="10.2"/>
<circle cx="437.1" cy="1296.5" r="10.2"/>
<circle cx="437.7" cy="1294.3" r="10.2"/>
<circle cx="438.3" cy="1292.5" r="10.2"/>
<circle cx="439.2" cy="1287" r="10.2"/>
<circle cx="439.8" cy="1290.1" r="10.2"/>
<circle cx="440.4" cy="1287" r="10.2"/>
<circle cx="441.1" cy="1287" r="10.2"/>
<circle cx="441.7" cy="1287" r="10.2"/>
<circle cx="442.6" cy="1287" r="10.2"/>
<circle cx="443.1" cy="1291.5" r="10.2"/>
<circle cx="444" cy="1299.8" r="10.2"/>
<circle cx="444.8" cy="1307.4" r="10.2"/>
<circle cx="445.3" cy="1299.9" r="10.2"/>
<circle cx="445.8" cy="1300" r="10.2"/>
<circle cx="446.6" cy="1307.6" r="10.2"/>
<circle cx="447.2" cy="1301.2" r="10.2"/>
<circle cx="447.8" cy="1302.8" r="10.2"/>
<circle cx="448.4" cy="1309.8" r="10.2"/>
<circle cx="449.2" cy="1294.3" r="10.2"/>
<circle cx="449.9" cy="1298.4" r="10.2"/>
<circle cx="450.8" cy="1304.5" r="10.2"/>
<circle cx="451.5" cy="1305.6" r="10.2"/>
<circle cx="452.2" cy="1295.3" r="10.2"/>
<circle cx="453" cy="1297.9" r="10.2"/>
<circle cx="453.4" cy="1295" r="10.2"/>
<circle cx="453.9" cy="1297.2" r="10.2"/>
<circle cx="454.8" cy="1297.9" r="10.2"/>
<circle cx="455.3" cy="1297.6" r="10.2"/>
<circle cx="456.2" cy="1295.8" r="10.2"/>
<circle cx="456.8" cy="1293.8" r="10.2"/>
<circle cx="457.6" cy="1304.1" r="10.2"/>
<circle cx="458.2" cy="1311.2" r="10.2"/>
<circle cx="458.7" cy="1302.9" r="10.2"/>
<circle cx="459.2" cy="1309.8" r="10.2"/>
<circle cx="460" cy="1305" r="10.2"/>
<circle cx="460.8" cy="1301" r="10.2"/>
<circle cx="461.3" cy="1293.8" r="10.2"/>
<circle cx="461.8" cy="1283.2" r="10.2"/>
<circle cx="462.7" cy="1293.5" r="10.2"/>
<circle cx="463.6" cy="1279.4" r="10.2"/>
<circle cx="464.5" cy="1291.3" r="10.2"/>
<circle cx="465" cy="1281" r="10.2"/>
<circle cx="465.6" cy="1275" r="10.2"/>
<circle cx="466.2" cy="1273.9" r="10.2"/>
<circle cx="467" cy="1279.1" r="10.2"/>
<circle cx="467.6" cy="1270.8" r="10.2"/>
<circle cx="468.3" cy="1275.5" r="10.2"/>
<circle cx="469" cy="1275.6" r="10.2"/>
<circle cx="469.7" cy="1273.8" r="10.2"/>
<circle cx="470.2" cy="1281.7" r="10.2"/>
<circle cx="471" cy="1276.3" r="10.2"/>
<circle cx="471.7" cy="1277.8" r="10.2"/>
<circle cx="472.4" cy="1279.4" r="10.2"/>
<circle cx="473.2" cy="1285.1" r="10.2"/>
<circle cx="474" cy="1288.8" r="10.2"/>
<circle cx="474.5" cy="1283.8" r="10.2"/>
<circle cx="475.1" cy="1287.4" r="10.2"/>
<circle cx="475.7" cy="1287.4" r="10.2"/>
<circle cx="476.4" cy="1294.8" r="10.2"/>
<circle cx="477.2" cy="1284.9" r="10.2"/>
<circle cx="478.1" cy="1288.2" r="10.2"/>
<circle cx="478.9" cy="1281.7" r="10.2"/>
<circle cx="479.7" cy="1280.3" r="10.2"/>
<circle cx="480.5" cy="1279" r="10.2"/>
<circle cx="481.1" cy="1277.9" r="10.2"/>
<circle cx="481.7" cy="1286.9" r="10.2"/>
<circle cx="482.2" cy="1281.8" r="10.2"/>
<circle cx="483" cy="1274.7" r="10.2"/>
<circle cx="483.7" cy="1273.3" r="10.2"/>
<circle cx="484.1" cy="1272.4" r="10.2"/>
<circle cx="484.8" cy="1281.5" r="10.2"/>
<circle cx="485.4" cy="1270.2" r="10.2"/>
<circle cx="486.3" cy="1268.7" r="10.2"/>
<circle cx="487" cy="1267.3" r="10.2"/>
<circle cx="487.7" cy="1272.1" r="10.2"/>
<circle cx="488.1" cy="1273.8" r="10.2"/>
<circle cx="488.6" cy="1281.6" r="10.2"/>
<circle cx="489.3" cy="1278.8" r="10.2"/>
<circle cx="490.1" cy="1284.3" r="10.2"/>
<circle cx="490.9" cy="1294.3" r="10.2"/>
<circle cx="491.4" cy="1283.6" r="10.2"/>
<circle cx="492" cy="1280.2" r="10.2"/>
<circle cx="492.6" cy="1262.7" r="10.2"/>
<circle cx="493.3" cy="1274" r="10.2"/>
<circle cx="493.8" cy="1303.1" r="10.2"/>
<circle cx="494.4" cy="1299" r="10.2"/>
<circle cx="494.8" cy="1308.8" r="10.2"/>
<circle cx="495.4" cy="1291.8" r="10.2"/>
<circle cx="496" cy="1308.8" r="10.2"/>
<circle cx="496.6" cy="1311.3" r="10.2"/>
<circle cx="497.6" cy="1296.2" r="10.2"/>
<circle cx="498.2" cy="1304.4" r="10.2"/>
<circle cx="498.9" cy="1293" r="10.2"/>
<circle cx="499.9" cy="1305.2" r="10.2"/>
<circle cx="500.7" cy="1307.6" r="10.2"/>
<circle cx="501.3" cy="1312.2" r="10.2"/>
<circle cx="502.1" cy="1305" r="10.2"/>
<circle cx="502.6" cy="1313.2" r="10.2"/>
<circle cx="503.5" cy="1302.3" r="10.2"/>
<circle cx="504.3" cy="1286" r="10.2"/>
<circle cx="504.8" cy="1313" r="10.2"/>
<circle cx="505.4" cy="1313" r="10.2"/>
<circle cx="506" cy="1312.9" r="10.2"/>
<circle cx="506.8" cy="1292.5" r="10.2"/>
<circle cx="507.4" cy="1302.3" r="10.2"/>
<circle cx="508" cy="1312.8" r="10.2"/>
<circle cx="508.8" cy="1305.9" r="10.2"/>
<circle cx="509.3" cy="1300.1" r="10.2"/>
<circle cx="510" cy="1305.3" r="10.2"/>
<circle cx="510.9" cy="1291.5" r="10.2"/>
<circle cx="511.7" cy="1300.8" r="10.2"/>
<circle cx="512.7" cy="1299.2" r="10.2"/>
<circle cx="513.2" cy="1262.9" r="10.2"/>
<circle cx="513.8" cy="1292.7" r="10.2"/>
<circle cx="514.4" cy="1275" r="10.2"/>
<circle cx="514.9" cy="1264.9" r="10.2"/>
<circle cx="515.7" cy="1272.8" r="10.2"/>
<circle cx="516.5" cy="1271.4" r="10.2"/>
<circle cx="517.2" cy="1281.8" r="10.2"/>
<circle cx="517.9" cy="1281.7" r="10.2"/>
<circle cx="518.6" cy="1260.1" r="10.2"/>
<circle cx="519.1" cy="1278.5" r="10.2"/>
<circle cx="519.7" cy="1286.2" r="10.2"/>
<circle cx="520.6" cy="1292.3" r="10.2"/>
<circle cx="521.2" cy="1268.2" r="10.2"/>
<circle cx="522.1" cy="1266.2" r="10.2"/>
<circle cx="522.5" cy="1263.8" r="10.2"/>
<circle cx="523.4" cy="1264.1" r="10.2"/>
<circle cx="523.9" cy="1264.7" r="10.2"/>
<circle cx="524.7" cy="1265.6" r="10.2"/>
<circle cx="525.5" cy="1266.6" r="10.2"/>
<circle cx="526.4" cy="1279.1" r="10.2"/>
<circle cx="526.9" cy="1280.3" r="10.2"/>
<circle cx="527.8" cy="1277.8" r="10.2"/>
<circle cx="528.7" cy="1273.3" r="10.2"/>
<circle cx="529.6" cy="1271.5" r="10.2"/>
<circle cx="530.4" cy="1271.6" r="10.2"/>
<circle cx="530.9" cy="1275.3" r="10.2"/>
<circle cx="531.5" cy="1270.5" r="10.2"/>
<circle cx="532" cy="1270" r="10.2"/>
<circle cx="532.5" cy="1269.5" r="10.2"/>
<circle cx="533" cy="1269" r="10.2"/>
<circle cx="533.7" cy="1268.3" r="10.2"/>
<circle cx="534.4" cy="1267.6" r="10.2"/>
<circle cx="535.1" cy="1268.3" r="10.2"/>
<circle cx="535.9" cy="1266.1" r="10.2"/>
<circle cx="536.8" cy="1265.2" r="10.2"/>
<circle cx="537.5" cy="1276.8" r="10.2"/>
<circle cx="538.2" cy="1278" r="10.2"/>
<circle cx="538.8" cy="1278.6" r="10.2"/>
<circle cx="539.6" cy="1292.4" r="10.2"/>
<circle cx="540.1" cy="1294.9" r="10.2"/>
<circle cx="540.8" cy="1282.9" r="10.2"/>
<circle cx="541.5" cy="1291.4" r="10.2"/>
<circle cx="542.1" cy="1279.9" r="10.2"/>
<circle cx="543.8" cy="1265" r="10.2"/>
<circle cx="540" cy="1252.5" r="10.2"/>
<circle cx="542.5" cy="1237.5" r="10.2"/>
<circle cx="542.7" cy="1295" r="10.2"/>
<circle cx="543.5" cy="1299.1" r="10.2"/>
<circle cx="544.1" cy="1273.2" r="10.2"/>
<circle cx="545" cy="1287" r="10.2"/>
<circle cx="545.8" cy="1282.8" r="10.2"/>
<circle cx="546.5" cy="1278" r="10.2"/>
<circle cx="547.4" cy="1285.1" r="10.2"/>
<circle cx="548.1" cy="1289.5" r="10.2"/>
<circle cx="548.9" cy="1283.9" r="10.2"/>
<circle cx="549.7" cy="1288.6" r="10.2"/>
<circle cx="550.4" cy="1286.2" r="10.2"/>
<circle cx="551.3" cy="1301.5" r="10.2"/>
<circle cx="552" cy="1290.1" r="10.2"/>
<circle cx="552.7" cy="1291.8" r="10.2"/>
<circle cx="553.2" cy="1302.8" r="10.2"/>
<circle cx="553.8" cy="1297.1" r="10.2"/>
<circle cx="554.5" cy="1291.7" r="10.2"/>
<circle cx="555" cy="1310.6" r="10.2"/>
<circle cx="555.7" cy="1285.8" r="10.2"/>
<circle cx="556.6" cy="1294.9" r="10.2"/>
<circle cx="557.5" cy="1292.3" r="10.2"/>
<circle cx="558.2" cy="1301.2" r="10.2"/>
<circle cx="559.1" cy="1298.4" r="10.2"/>
<circle cx="559.8" cy="1302.1" r="10.2"/>
<circle cx="560.7" cy="1294.9" r="10.2"/>
<circle cx="561.6" cy="1289.9" r="10.2"/>
<circle cx="562.5" cy="1300.3" r="10.2"/>
<circle cx="563.1" cy="1291.9" r="10.2"/>
<circle cx="563.7" cy="1291.1" r="10.2"/>
<circle cx="564.6" cy="1291.7" r="10.2"/>
<circle cx="565.2" cy="1293.6" r="10.2"/>
<circle cx="565.8" cy="1300" r="10.2"/>
<circle cx="566.5" cy="1292.2" r="10.2"/>
<circle cx="567" cy="1287.8" r="10.2"/>
<circle cx="567.7" cy="1293.6" r="10.2"/>
<circle cx="568.5" cy="1284.6" r="10.2"/>
<circle cx="569.3" cy="1283.9" r="10.2"/>
<circle cx="569.9" cy="1282" r="10.2"/>
<circle cx="570.5" cy="1280.2" r="10.2"/>
<circle cx="571.5" cy="1278.9" r="10.2"/>
<circle cx="572.3" cy="1276.4" r="10.2"/>
<circle cx="573.2" cy="1274.6" r="10.2"/>
<circle cx="574.1" cy="1283.8" r="10.2"/>
<circle cx="574.9" cy="1290.8" r="10.2"/>
<circle cx="575.6" cy="1301.4" r="10.2"/>
<circle cx="576" cy="1299.5" r="10.2"/>
<circle cx="576.7" cy="1292.1" r="10.2"/>
<circle cx="577.3" cy="1295.4" r="10.2"/>
<circle cx="578.2" cy="1288.5" r="10.2"/>
<circle cx="578.7" cy="1293.2" r="10.2"/>
<circle cx="579.6" cy="1293.6" r="10.2"/>
<circle cx="580.5" cy="1282.2" r="10.2"/>
<circle cx="580.9" cy="1293.5" r="10.2"/>
<circle cx="581.8" cy="1270.7" r="10.2"/>
<circle cx="582.7" cy="1272.6" r="10.2"/>
<circle cx="583.4" cy="1281" r="10.2"/>
<circle cx="584" cy="1268.8" r="10.2"/>
<circle cx="584.8" cy="1277.6" r="10.2"/>
<circle cx="585.5" cy="1279.3" r="10.2"/>
<circle cx="586" cy="1258.8" r="10.2"/>
<circle cx="586.6" cy="1258.7" r="10.2"/>
<circle cx="587.4" cy="1258.5" r="10.2"/>
<circle cx="588.4" cy="1260.6" r="10.2"/>
<circle cx="588.9" cy="1270.4" r="10.2"/>
<circle cx="589.8" cy="1258" r="10.2"/>
<circle cx="590.5" cy="1293.4" r="10.2"/>
<circle cx="591.4" cy="1295.1" r="10.2"/>
<circle cx="591.9" cy="1270.9" r="10.2"/>
<circle cx="592.4" cy="1257.5" r="10.2"/>
<circle cx="593.3" cy="1273.3" r="10.2"/>
<circle cx="594.1" cy="1257.2" r="10.2"/>
<circle cx="594.7" cy="1273" r="10.2"/>
<circle cx="595.3" cy="1276.9" r="10.2"/>
<circle cx="596" cy="1278.3" r="10.2"/>
<circle cx="596.7" cy="1297.4" r="10.2"/>
<circle cx="597.6" cy="1265.1" r="10.2"/>
<circle cx="598.3" cy="1273.1" r="10.2"/>
<circle cx="598.9" cy="1282.4" r="10.2"/>
<circle cx="599.7" cy="1281.5" r="10.2"/>
<circle cx="600.5" cy="1270.9" r="10.2"/>
<circle cx="601.2" cy="1272.5" r="10.2"/>
<circle cx="602.1" cy="1299" r="10.2"/>
<circle cx="602.6" cy="1314" r="10.2"/>
<circle cx="603.2" cy="1314" r="10.2"/>
<circle cx="603.7" cy="1278" r="10.2"/>
<circle cx="604.5" cy="1281" r="10.2"/>
<circle cx="604.9" cy="1309.5" r="10.2"/>
<circle cx="605.6" cy="1314" r="10.2"/>
<circle cx="606.2" cy="1312.2" r="10.2"/>
<circle cx="607" cy="1300.2" r="10.2"/>
<circle cx="607.6" cy="1268.7" r="10.2"/>
<circle cx="608.5" cy="1299.1" r="10.2"/>
<circle cx="609.4" cy="1295.8" r="10.2"/>
<circle cx="610.2" cy="1261.9" r="10.2"/>
<circle cx="610.7" cy="1281.2" r="10.2"/>
<circle cx="611.2" cy="1284.4" r="10.2"/>
<circle cx="611.7" cy="1268.8" r="10.2"/>
<circle cx="612.4" cy="1283.4" r="10.2"/>
<circle cx="612.9" cy="1296.9" r="10.2"/>
<circle cx="613.6" cy="1299.6" r="10.2"/>
<circle cx="614.4" cy="1280.3" r="10.2"/>
<circle cx="615" cy="1285.5" r="10.2"/>
<circle cx="615.9" cy="1293" r="10.2"/>
<circle cx="616.6" cy="1292" r="10.2"/>
<circle cx="617.4" cy="1277" r="10.2"/>
<circle cx="618.3" cy="1288.3" r="10.2"/>
<circle cx="618.9" cy="1257" r="10.2"/>
<circle cx="619.6" cy="1266.4" r="10.2"/>
<circle cx="620.1" cy="1282.1" r="10.2"/>
<circle cx="620.8" cy="1291.9" r="10.2"/>
<circle cx="621.3" cy="1285.4" r="10.2"/>
<circle cx="622.1" cy="1306.5" r="10.2"/>
<circle cx="623" cy="1291.7" r="10.2"/>
<circle cx="623.7" cy="1316.2" r="10.2"/>
<circle cx="624.2" cy="1299.6" r="10.2"/>
<circle cx="625.1" cy="1316.2" r="10.2"/>
<circle cx="625.9" cy="1318.8" r="10.2"/>
<circle cx="626.7" cy="1294.5" r="10.2"/>
<circle cx="627.4" cy="1319.1" r="10.2"/>
<circle cx="628.3" cy="1319.3" r="10.2"/>
<circle cx="628.8" cy="1319.4" r="10.2"/>
<circle cx="629.5" cy="1301.1" r="10.2"/>
<circle cx="630.2" cy="1314.5" r="10.2"/>
<circle cx="630.7" cy="1292.6" r="10.2"/>
<circle cx="631.4" cy="1315.1" r="10.2"/>
<circle cx="632" cy="1311" r="10.2"/>
<circle cx="632.7" cy="1310.6" r="10.2"/>
<circle cx="633.7" cy="1320.4" r="10.2"/>
<circle cx="634.3" cy="1320.6" r="10.2"/>
<circle cx="635.1" cy="1320.4" r="10.2"/>
<circle cx="636" cy="1308.2" r="10.2"/>
<circle cx="636.5" cy="1314.5" r="10.2"/>
<circle cx="637.1" cy="1314.4" r="10.2"/>
<circle cx="637.9" cy="1313.1" r="10.2"/>
<circle cx="638.6" cy="1293.1" r="10.2"/>
<circle cx="639.2" cy="1315.9" r="10.2"/>
<circle cx="640.1" cy="1310.6" r="10.2"/>
<circle cx="641" cy="1316.7" r="10.2"/>
<circle cx="641.6" cy="1322" r="10.2"/>
<circle cx="642.2" cy="1302.3" r="10.2"/>
<circle cx="642.9" cy="1309.3" r="10.2"/>
<circle cx="643.6" cy="1307.4" r="10.2"/>
<circle cx="644.3" cy="1305.8" r="10.2"/>
<circle cx="645" cy="1280.5" r="10.2"/>
<circle cx="645.6" cy="1311.1" r="10.2"/>
<circle cx="646.1" cy="1300.5" r="10.2"/>
<circle cx="647.1" cy="1304.2" r="10.2"/>
<circle cx="648" cy="1296.4" r="10.2"/>
<circle cx="648.8" cy="1298.4" r="10.2"/>
<circle cx="649.4" cy="1280.3" r="10.2"/>
<circle cx="650.3" cy="1291.7" r="10.2"/>
<circle cx="651.2" cy="1320.7" r="10.2"/>
<circle cx="651.8" cy="1307" r="10.2"/>
<circle cx="652.5" cy="1298.4" r="10.2"/>
<circle cx="653.4" cy="1306" r="10.2"/>
<circle cx="654.2" cy="1315.1" r="10.2"/>
<circle cx="654.8" cy="1299.6" r="10.2"/>
<circle cx="655.7" cy="1322" r="10.2"/>
<circle cx="656.2" cy="1304.7" r="10.2"/>
<circle cx="657.1" cy="1320.2" r="10.2"/>
<circle cx="657.8" cy="1322" r="10.2"/>
<circle cx="658.3" cy="1322" r="10.2"/>
<circle cx="659.1" cy="1315.7" r="10.2"/>
<circle cx="659.7" cy="1300.2" r="10.2"/>
<circle cx="660.6" cy="1311.1" r="10.2"/>
<circle cx="661.2" cy="1295.5" r="10.2"/>
<circle cx="662.1" cy="1316.1" r="10.2"/>
<circle cx="662.8" cy="1301.8" r="10.2"/>
<circle cx="663.5" cy="1314.4" r="10.2"/>
<circle cx="664.2" cy="1309.5" r="10.2"/>
<circle cx="664.7" cy="1290.3" r="10.2"/>
<circle cx="665.4" cy="1293.7" r="10.2"/>
<circle cx="666.1" cy="1302.3" r="10.2"/>
<circle cx="666.9" cy="1286.8" r="10.2"/>
<circle cx="667.8" cy="1302.2" r="10.2"/>
<circle cx="668.8" cy="1308.7" r="10.2"/>
<circle cx="669.3" cy="1289.5" r="10.2"/>
<circle cx="670.1" cy="1301.2" r="10.2"/>
<circle cx="670.9" cy="1287.3" r="10.2"/>
<circle cx="671.4" cy="1291.9" r="10.2"/>
<circle cx="671.8" cy="1306.5" r="10.2"/>
<circle cx="672.5" cy="1292.2" r="10.2"/>
<circle cx="673.3" cy="1278.2" r="10.2"/>
<circle cx="674.1" cy="1278.5" r="10.2"/>
<circle cx="674.6" cy="1286" r="10.2"/>
<circle cx="675.2" cy="1308.9" r="10.2"/>
<circle cx="676.1" cy="1289.5" r="10.2"/>
<circle cx="677" cy="1296.4" r="10.2"/>
<circle cx="677.9" cy="1291.3" r="10.2"/>
<circle cx="678.8" cy="1277.4" r="10.2"/>
<circle cx="679.5" cy="1287.3" r="10.2"/>
<circle cx="680.1" cy="1285" r="10.2"/>
<circle cx="680.9" cy="1276.8" r="10.2"/>
<circle cx="681.6" cy="1276.6" r="10.2"/>
<circle cx="682.4" cy="1276.3" r="10.2"/>
<circle cx="683" cy="1286.5" r="10.2"/>
<circle cx="683.8" cy="1283.3" r="10.2"/>
<circle cx="684.7" cy="1293" r="10.2"/>
<circle cx="685.5" cy="1291.5" r="10.2"/>
<circle cx="686" cy="1294.9" r="10.2"/>
<circle cx="687" cy="1286.4" r="10.2"/>
<circle cx="687.7" cy="1285.3" r="10.2"/>
<circle cx="688.5" cy="1280" r="10.2"/>
<circle cx="689.2" cy="1280.9" r="10.2"/>
<circle cx="689.9" cy="1311.4" r="10.2"/>
<circle cx="690.6" cy="1302.7" r="10.2"/>
<circle cx="691.3" cy="1300.9" r="10.2"/>
<circle cx="692" cy="1292.9" r="10.2"/>
<circle cx="692.9" cy="1313.2" r="10.2"/>
<circle cx="693.6" cy="1310.2" r="10.2"/>
<circle cx="694.5" cy="1305.7" r="10.2"/>
<circle cx="695.1" cy="1288.8" r="10.2"/>
<circle cx="695.7" cy="1307.4" r="10.2"/>
<circle cx="696.2" cy="1291.4" r="10.2"/>
<circle cx="696.8" cy="1298.4" r="10.2"/>
<circle cx="697.4" cy="1317.6" r="10.2"/>
<circle cx="698.2" cy="1298.3" r="10.2"/>
<circle cx="698.6" cy="1295.9" r="10.2"/>
<circle cx="699.4" cy="1311.3" r="10.2"/>
<circle cx="700" cy="1301" r="10.2"/>
<circle cx="700.9" cy="1267.5" r="10.2"/>
<circle cx="701.4" cy="1270" r="10.2"/>
<circle cx="702.4" cy="1271.6" r="10.2"/>
<circle cx="703.2" cy="1266.1" r="10.2"/>
<circle cx="703.8" cy="1294.5" r="10.2"/>
<circle cx="704.7" cy="1276.2" r="10.2"/>
<circle cx="705.5" cy="1265.7" r="10.2"/>
<circle cx="706.4" cy="1265.6" r="10.2"/>
<circle cx="706.9" cy="1276.9" r="10.2"/>
<circle cx="707.8" cy="1279.5" r="10.2"/>
<circle cx="708.6" cy="1291.7" r="10.2"/>
<circle cx="709.4" cy="1272.1" r="10.2"/>
<circle cx="710.1" cy="1273.7" r="10.2"/>
<circle cx="710.7" cy="1275.1" r="10.2"/>
<circle cx="711.4" cy="1298.6" r="10.2"/>
<circle cx="712.1" cy="1300.6" r="10.2"/>
<circle cx="712.9" cy="1261" r="10.2"/>
<circle cx="713.6" cy="1276.9" r="10.2"/>
<circle cx="714.3" cy="1260.6" r="10.2"/>
<circle cx="715.2" cy="1265.8" r="10.2"/>
<circle cx="715.7" cy="1260.1" r="10.2"/>
<circle cx="716.2" cy="1259.9" r="10.2"/>
<circle cx="717" cy="1270.4" r="10.2"/>
<circle cx="717.8" cy="1285.7" r="10.2"/>
<circle cx="718.6" cy="1315.8" r="10.2"/>
<circle cx="719.3" cy="1301.4" r="10.2"/>
<circle cx="720.1" cy="1321" r="10.2"/>
<circle cx="720.5" cy="1304" r="10.2"/>
<circle cx="721" cy="1296.5" r="10.2"/>
<circle cx="721.8" cy="1293" r="10.2"/>
<circle cx="737.5" cy="1239.8" r="10.2"/>
<circle cx="721.2" cy="1224.8" r="10.2"/>
<circle cx="724.5" cy="1192.2" r="10.2"/>
<circle cx="722.5" cy="1176.8" r="10.2"/>
<circle cx="722.5" cy="1148.5" r="10.2"/>
<circle cx="722.5" cy="1133.5" r="10.2"/>
<circle cx="722.5" cy="1288.1" r="10.2"/>
<circle cx="723.2" cy="1302.8" r="10.2"/>
<circle cx="724" cy="1306.3" r="10.2"/>
<circle cx="724.5" cy="1277.6" r="10.2"/>
<circle cx="725.5" cy="1307.2" r="10.2"/>
<circle cx="726" cy="1276.4" r="10.2"/>
<circle cx="726.5" cy="1288.3" r="10.2"/>
<circle cx="727.1" cy="1308" r="10.2"/>
<circle cx="728" cy="1316.5" r="10.2"/>
<circle cx="728.5" cy="1262" r="10.2"/>
<circle cx="729" cy="1285.2" r="10.2"/>
<circle cx="729.6" cy="1289" r="10.2"/>
<circle cx="730.5" cy="1298.8" r="10.2"/>
<circle cx="731.3" cy="1281.7" r="10.2"/>
<circle cx="731.9" cy="1254.7" r="10.2"/>
<circle cx="732.7" cy="1274.3" r="10.2"/>
<circle cx="733.4" cy="1254.2" r="10.2"/>
<circle cx="734.1" cy="1282" r="10.2"/>
<circle cx="734.7" cy="1295.6" r="10.2"/>
<circle cx="735.6" cy="1271.4" r="10.2"/>
<circle cx="736.5" cy="1281" r="10.2"/>
<circle cx="737.3" cy="1270.8" r="10.2"/>
<circle cx="737.8" cy="1266" r="10.2"/>
<circle cx="738.7" cy="1277.5" r="10.2"/>
<circle cx="739.5" cy="1284.2" r="10.2"/>
<circle cx="740" cy="1284.4" r="10.2"/>
<circle cx="740.5" cy="1251.6" r="10.2"/>
<circle cx="740.9" cy="1273.2" r="10.2"/>
<circle cx="741.4" cy="1255.7" r="10.2"/>
<circle cx="742" cy="1264.6" r="10.2"/>
<circle cx="742.7" cy="1262.7" r="10.2"/>
<circle cx="743.2" cy="1269" r="10.2"/>
<circle cx="743.6" cy="1248.9" r="10.2"/>
<circle cx="744.3" cy="1272.7" r="10.2"/>
<circle cx="745.1" cy="1247.6" r="10.2"/>
<circle cx="745.6" cy="1275.2" r="10.2"/>
<circle cx="746.5" cy="1258.5" r="10.2"/>
<circle cx="747.1" cy="1258.9" r="10.2"/>
<circle cx="748" cy="1262.7" r="10.2"/>
<circle cx="748.8" cy="1272.3" r="10.2"/>
<circle cx="749.7" cy="1274.4" r="10.2"/>
<circle cx="750.6" cy="1286.3" r="10.2"/>
<circle cx="751.1" cy="1295.2" r="10.2"/>
<circle cx="751.7" cy="1277.4" r="10.2"/>
<circle cx="752.4" cy="1288.3" r="10.2"/>
<circle cx="753" cy="1307.7" r="10.2"/>
<circle cx="753.6" cy="1292.6" r="10.2"/>
<circle cx="754" cy="1293.5" r="10.2"/>
<circle cx="755" cy="1303" r="10.2"/>
<circle cx="755.5" cy="1267.4" r="10.2"/>
<circle cx="756.5" cy="1295.5" r="10.2"/>
<circle cx="757.1" cy="1276.6" r="10.2"/>
<circle cx="757.6" cy="1276.6" r="10.2"/>
<circle cx="758.4" cy="1286" r="10.2"/>
<circle cx="758.9" cy="1264.5" r="10.2"/>
<circle cx="759.8" cy="1272.6" r="10.2"/>
<circle cx="760.5" cy="1254.4" r="10.2"/>
<circle cx="761.4" cy="1286.9" r="10.2"/>
<circle cx="761.9" cy="1279.9" r="10.2"/>
<circle cx="762.3" cy="1297.1" r="10.2"/>
<circle cx="763.2" cy="1300.6" r="10.2"/>
<circle cx="764" cy="1277.2" r="10.2"/>
<circle cx="764.9" cy="1287.3" r="10.2"/>
<circle cx="765.7" cy="1287.3" r="10.2"/>
<circle cx="766.4" cy="1268.1" r="10.2"/>
<circle cx="767.1" cy="1293.8" r="10.2"/>
<circle cx="767.9" cy="1275" r="10.2"/>
<circle cx="768.6" cy="1274.8" r="10.2"/>
<circle cx="769.5" cy="1286" r="10.2"/>
<circle cx="770.1" cy="1290.9" r="10.2"/>
<circle cx="770.6" cy="1295.3" r="10.2"/>
<circle cx="771.3" cy="1275.9" r="10.2"/>
<circle cx="771.9" cy="1286.1" r="10.2"/>
<circle cx="772.3" cy="1288.2" r="10.2"/>
<circle cx="772.9" cy="1283.5" r="10.2"/>
<circle cx="773.6" cy="1280.2" r="10.2"/>
<circle cx="774.1" cy="1279.8" r="10.2"/>
<circle cx="775" cy="1287.7" r="10.2"/>
<circle cx="775.6" cy="1277.4" r="10.2"/>
<circle cx="776.1" cy="1280" r="10.2"/>
<circle cx="777" cy="1269.8" r="10.2"/>
<circle cx="777.9" cy="1262.3" r="10.2"/>
<circle cx="778.7" cy="1268.9" r="10.2"/>
<circle cx="779.4" cy="1240.7" r="10.2"/>
<circle cx="780.3" cy="1238.8" r="10.2"/>
<circle cx="780.9" cy="1234" r="10.2"/>
<circle cx="781.5" cy="1232.3" r="10.2"/>
<circle cx="782" cy="1276" r="10.2"/>
<circle cx="782.7" cy="1259.9" r="10.2"/>
<circle cx="783.3" cy="1245.9" r="10.2"/>
<circle cx="783.5" cy="1217.2" r="10.2"/>
<circle cx="783.5" cy="1193.5" r="10.2"/>
<circle cx="784.8" cy="1177.2" r="10.2"/>
<circle cx="783.5" cy="1148" r="10.2"/>
<circle cx="784.1" cy="1230.2" r="10.2"/>
<circle cx="784.8" cy="1250.5" r="10.2"/>
<circle cx="785.6" cy="1252.9" r="10.2"/>
<circle cx="786.4" cy="1257.3" r="10.2"/>
<circle cx="787.2" cy="1233" r="10.2"/>
<circle cx="788" cy="1248.5" r="10.2"/>
<circle cx="788.8" cy="1256.4" r="10.2"/>
<circle cx="789.4" cy="1229.1" r="10.2"/>
<circle cx="789.8" cy="1229" r="10.2"/>
<circle cx="790.7" cy="1229.3" r="10.2"/>
<circle cx="791.3" cy="1249.5" r="10.2"/>
<circle cx="791.8" cy="1228.6" r="10.2"/>
<circle cx="792.3" cy="1260" r="10.2"/>
<circle cx="793.1" cy="1240.4" r="10.2"/>
<circle cx="793.7" cy="1233" r="10.2"/>
<circle cx="794.6" cy="1232.1" r="10.2"/>
<circle cx="795.4" cy="1240.6" r="10.2"/>
<circle cx="796.1" cy="1261.8" r="10.2"/>
<circle cx="796.6" cy="1227.7" r="10.2"/>
<circle cx="797.6" cy="1227.5" r="10.2"/>
<circle cx="798.4" cy="1260.4" r="10.2"/>
<circle cx="799.1" cy="1227.2" r="10.2"/>
<circle cx="799.8" cy="1243.2" r="10.2"/>
<circle cx="800.3" cy="1291.9" r="10.2"/>
<circle cx="800.9" cy="1252.6" r="10.2"/>
<circle cx="801.5" cy="1266.8" r="10.2"/>
<circle cx="802.4" cy="1234.8" r="10.2"/>
<circle cx="803.5" cy="1113.5" r="10.2"/>
<circle cx="801.5" cy="924" r="10.2"/>
<circle cx="803" cy="889.8" r="10.2"/>
<circle cx="803.3" cy="1259.7" r="10.2"/>
<circle cx="804" cy="1236.7" r="10.2"/>
<circle cx="804.5" cy="1251.5" r="10.2"/>
<circle cx="805.1" cy="1251.1" r="10.2"/>
<circle cx="805.8" cy="1249.6" r="10.2"/>
<circle cx="806.4" cy="1226.9" r="10.2"/>
<circle cx="807" cy="1242.9" r="10.2"/>
<circle cx="807.5" cy="1285.6" r="10.2"/>
<circle cx="808.4" cy="1274.1" r="10.2"/>
<circle cx="809.1" cy="1241.8" r="10.2"/>
<circle cx="809.9" cy="1254.9" r="10.2"/>
<circle cx="810.5" cy="1222.8" r="10.2"/>
<circle cx="811.1" cy="1248.9" r="10.2"/>
<circle cx="811.8" cy="1249.2" r="10.2"/>
<circle cx="812.4" cy="1247.7" r="10.2"/>
<circle cx="813.1" cy="1255.6" r="10.2"/>
<circle cx="813.8" cy="1250.1" r="10.2"/>
<circle cx="814.3" cy="1226.8" r="10.2"/>
<circle cx="815.1" cy="1253.3" r="10.2"/>
<circle cx="815.7" cy="1231.5" r="10.2"/>
<circle cx="816.4" cy="1229.8" r="10.2"/>
<circle cx="817" cy="1230.8" r="10.2"/>
<circle cx="817.9" cy="1304.9" r="10.2"/>
<circle cx="818.5" cy="1285.5" r="10.2"/>
<circle cx="819.1" cy="1260.2" r="10.2"/>
<circle cx="820" cy="1268.6" r="10.2"/>
<circle cx="820.6" cy="1262.1" r="10.2"/>
<circle cx="821.4" cy="1257.9" r="10.2"/>
<circle cx="822.2" cy="1258" r="10.2"/>
<circle cx="822.7" cy="1233.1" r="10.2"/>
<circle cx="823.4" cy="1259.6" r="10.2"/>
<circle cx="824" cy="1259.4" r="10.2"/>
<circle cx="824.5" cy="1254.8" r="10.2"/>
<circle cx="824.9" cy="1276.5" r="10.2"/>
<circle cx="825.6" cy="1266.6" r="10.2"/>
<circle cx="826.1" cy="1246.9" r="10.2"/>
<circle cx="826.7" cy="1233.4" r="10.2"/>
<circle cx="827.6" cy="1207.6" r="10.2"/>
<circle cx="828.3" cy="1212.4" r="10.2"/>
<circle cx="829.1" cy="1257.7" r="10.2"/>
<circle cx="829.9" cy="1248.7" r="10.2"/>
<circle cx="830.6" cy="1254.6" r="10.2"/>
<circle cx="831.3" cy="1233.8" r="10.2"/>
<circle cx="832.1" cy="1253.4" r="10.2"/>
<circle cx="832.7" cy="1249.6" r="10.2"/>
<circle cx="833.3" cy="1233.1" r="10.2"/>
<circle cx="833.7" cy="1260.8" r="10.2"/>
<circle cx="834.4" cy="1303.7" r="10.2"/>
<circle cx="835.3" cy="1271.1" r="10.2"/>
<circle cx="836.1" cy="1272.4" r="10.2"/>
<circle cx="836.8" cy="1205.7" r="10.2"/>
<circle cx="837.7" cy="1227.7" r="10.2"/>
<circle cx="838.3" cy="1209.6" r="10.2"/>
<circle cx="846" cy="1182.2" r="10.2"/>
<circle cx="844.8" cy="1161" r="10.2"/>
<circle cx="838" cy="1096.8" r="10.2"/>
<circle cx="832.2" cy="1078.5" r="10.2"/>
<circle cx="853.5" cy="1058.5" r="10.2"/>
<circle cx="848.5" cy="1047.2" r="10.2"/>
<circle cx="831" cy="1036" r="10.2"/>
<circle cx="833.5" cy="1028.5" r="10.2"/>
<circle cx="827.2" cy="1006" r="10.2"/>
<circle cx="846" cy="1006" r="10.2"/>
<circle cx="832.2" cy="988.5" r="10.2"/>
<circle cx="828.5" cy="957.8" r="10.2"/>
<circle cx="831" cy="896" r="10.2"/>
<circle cx="829.8" cy="887.2" r="10.2"/>
<circle cx="838.5" cy="861" r="10.2"/>
<circle cx="841.8" cy="846.8" r="10.2"/>
<circle cx="839.8" cy="802.2" r="10.2"/>
<circle cx="839.8" cy="783" r="10.2"/>
<circle cx="839.8" cy="724.8" r="10.2"/>
<circle cx="838.9" cy="1237" r="10.2"/>
<circle cx="839.4" cy="1200" r="10.2"/>
<circle cx="839.9" cy="1263.2" r="10.2"/>
<circle cx="840.8" cy="1285.3" r="10.2"/>
<circle cx="841.7" cy="1242.5" r="10.2"/>
<circle cx="842.6" cy="1258.7" r="10.2"/>
<circle cx="843.3" cy="1223.5" r="10.2"/>
<circle cx="844.3" cy="1282.1" r="10.2"/>
<circle cx="845.2" cy="1222.4" r="10.2"/>
<circle cx="846.1" cy="1284.4" r="10.2"/>
<circle cx="846.9" cy="1277.9" r="10.2"/>
<circle cx="847.7" cy="1268.9" r="10.2"/>
<circle cx="848.4" cy="1267.3" r="10.2"/>
<circle cx="849.1" cy="1302.6" r="10.2"/>
<circle cx="849.9" cy="1302.6" r="10.2"/>
<circle cx="850.5" cy="1292.9" r="10.2"/>
<circle cx="851" cy="1302.5" r="10.2"/>
<circle cx="851.6" cy="1241" r="10.2"/>
<circle cx="852.3" cy="1266.6" r="10.2"/>
<circle cx="853.2" cy="1290.1" r="10.2"/>
<circle cx="853.6" cy="1302.3" r="10.2"/>
<circle cx="854.6" cy="1253.6" r="10.2"/>
<circle cx="855.5" cy="1287.2" r="10.2"/>
<circle cx="855.9" cy="1242.8" r="10.2"/>
<circle cx="856.7" cy="1292.6" r="10.2"/>
<circle cx="857.5" cy="1252.3" r="10.2"/>
<circle cx="858.3" cy="1258" r="10.2"/>
<circle cx="858.9" cy="1255.4" r="10.2"/>
<circle cx="859.9" cy="1265" r="10.2"/>
<circle cx="860.4" cy="1237.7" r="10.2"/>
<circle cx="861.1" cy="1220.4" r="10.2"/>
<circle cx="862.1" cy="1223.9" r="10.2"/>
<circle cx="862.5" cy="1225.5" r="10.2"/>
<circle cx="863.2" cy="1257.1" r="10.2"/>
<circle cx="863.7" cy="1262.6" r="10.2"/>
<circle cx="864.5" cy="1200" r="10.2"/>
<circle cx="865.4" cy="1247.9" r="10.2"/>
<circle cx="866.2" cy="1221.5" r="10.2"/>
<circle cx="867" cy="1223.1" r="10.2"/>
<circle cx="867.9" cy="1277.6" r="10.2"/>
<circle cx="868.5" cy="1208.3" r="10.2"/>
<circle cx="869.1" cy="1203" r="10.2"/>
<circle cx="869.9" cy="1241.7" r="10.2"/>
<circle cx="870.8" cy="1237.9" r="10.2"/>
<circle cx="871.5" cy="1292.2" r="10.2"/>
<circle cx="872" cy="1266" r="10.2"/>
<circle cx="872.9" cy="1256.9" r="10.2"/>
<circle cx="873.6" cy="1299.8" r="10.2"/>
<circle cx="874.1" cy="1295.9" r="10.2"/>
<circle cx="874.6" cy="1287" r="10.2"/>
<circle cx="878.5" cy="1146" r="10.2"/>
<circle cx="871" cy="1122.2" r="10.2"/>
<circle cx="856" cy="1117.2" r="10.2"/>
<circle cx="874.8" cy="1007.2" r="10.2"/>
<circle cx="866" cy="976" r="10.2"/>
<circle cx="867.8" cy="957.8" r="10.2"/>
<circle cx="869.8" cy="930.2" r="10.2"/>
<circle cx="867.8" cy="909.8" r="10.2"/>
<circle cx="876" cy="858.5" r="10.2"/>
<circle cx="876" cy="855.5" r="10.2"/>
<circle cx="874.8" cy="831.2" r="10.2"/>
<circle cx="876" cy="773" r="10.2"/>
<circle cx="875.4" cy="1298.1" r="10.2"/>
<circle cx="876" cy="1280.4" r="10.2"/>
<circle cx="876.8" cy="1288.5" r="10.2"/>
<circle cx="877.8" cy="1299.9" r="10.2"/>
<circle cx="878.2" cy="1300.6" r="10.2"/>
<circle cx="879" cy="1300.5" r="10.2"/>
<circle cx="879.6" cy="1300.5" r="10.2"/>
<circle cx="880.2" cy="1300.4" r="10.2"/>
<circle cx="881.1" cy="1300.4" r="10.2"/>
<circle cx="881.8" cy="1300.3" r="10.2"/>
<circle cx="882.4" cy="1290.1" r="10.2"/>
<circle cx="883" cy="1300.2" r="10.2"/>
<circle cx="883.9" cy="1300.2" r="10.2"/>
<circle cx="884.8" cy="1300.1" r="10.2"/>
<circle cx="885.7" cy="1300" r="10.2"/>
<circle cx="886.2" cy="1275.7" r="10.2"/>
<circle cx="886.7" cy="1299.2" r="10.2"/>
<circle cx="887.6" cy="1287.9" r="10.2"/>
<circle cx="888.2" cy="1297.4" r="10.2"/>
<circle cx="889" cy="1296.6" r="10.2"/>
<circle cx="889.5" cy="1296" r="10.2"/>
<circle cx="890.2" cy="1269.3" r="10.2"/>
<circle cx="890.7" cy="1286.2" r="10.2"/>
<circle cx="891.6" cy="1293.6" r="10.2"/>
<circle cx="892.4" cy="1292.7" r="10.2"/>
<circle cx="892.9" cy="1277.4" r="10.2"/>
<circle cx="893.6" cy="1281.3" r="10.2"/>
<circle cx="894.1" cy="1254.4" r="10.2"/>
<circle cx="895" cy="1276.9" r="10.2"/>
<circle cx="895.7" cy="1259.1" r="10.2"/>
<circle cx="896.6" cy="1274.7" r="10.2"/>
<circle cx="897.4" cy="1291.9" r="10.2"/>
<circle cx="897.9" cy="1268.1" r="10.2"/>
<circle cx="898.5" cy="1248.7" r="10.2"/>
<circle cx="899.3" cy="1278.8" r="10.2"/>
<circle cx="900.1" cy="1237" r="10.2"/>
<circle cx="900.8" cy="1260.2" r="10.2"/>
<circle cx="901.5" cy="1257.2" r="10.2"/>
<circle cx="902.3" cy="1240.7" r="10.2"/>
<circle cx="902.8" cy="1224.1" r="10.2"/>
<circle cx="903.3" cy="1238.9" r="10.2"/>
<circle cx="903.8" cy="1268.9" r="10.2"/>
<circle cx="904.5" cy="1242.6" r="10.2"/>
<circle cx="905.1" cy="1225.4" r="10.2"/>
<circle cx="905.9" cy="1252.1" r="10.2"/>
<circle cx="906.8" cy="1228.8" r="10.2"/>
<circle cx="907.2" cy="1235.7" r="10.2"/>
<circle cx="907.8" cy="1221.2" r="10.2"/>
<circle cx="908.6" cy="1228.1" r="10.2"/>
<circle cx="903.5" cy="1127.2" r="10.2"/>
<circle cx="909.8" cy="1122.2" r="10.2"/>
<circle cx="907.2" cy="755.5" r="10.2"/>
<circle cx="909.8" cy="745.5" r="10.2"/>
<circle cx="909" cy="579" r="10.2"/>
<circle cx="909.4" cy="1212" r="10.2"/>
<circle cx="910.2" cy="1212" r="10.2"/>
<circle cx="911" cy="1212" r="10.2"/>
<circle cx="911.9" cy="1225.9" r="10.2"/>
<circle cx="912.5" cy="1238.3" r="10.2"/>
<circle cx="913" cy="1240.6" r="10.2"/>
<circle cx="913.8" cy="1222.1" r="10.2"/>
<circle cx="914.4" cy="1221.9" r="10.2"/>
<circle cx="915.4" cy="1251.1" r="10.2"/>
<circle cx="916.1" cy="1261.3" r="10.2"/>
<circle cx="916.7" cy="1242.3" r="10.2"/>
<circle cx="917.3" cy="1260.8" r="10.2"/>
<circle cx="918.1" cy="1234.8" r="10.2"/>
<circle cx="918.9" cy="1221.3" r="10.2"/>
<circle cx="919.4" cy="1219.9" r="10.2"/>
<circle cx="920.3" cy="1212" r="10.2"/>
<circle cx="921" cy="1212" r="10.2"/>
<circle cx="921.6" cy="1216.1" r="10.2"/>
<circle cx="922.1" cy="1234.9" r="10.2"/>
<circle cx="922.8" cy="1212" r="10.2"/>
<circle cx="923.4" cy="1212" r="10.2"/>
<circle cx="924.2" cy="1220.8" r="10.2"/>
<circle cx="925" cy="1238.6" r="10.2"/>
<circle cx="925.6" cy="1218.2" r="10.2"/>
<circle cx="926.6" cy="1212" r="10.2"/>
<circle cx="927.3" cy="1212" r="10.2"/>
<circle cx="928.1" cy="1212" r="10.2"/>
<circle cx="943.5" cy="1199.8" r="10.2"/>
<circle cx="929.8" cy="1197.2" r="10.2"/>
<circle cx="943.5" cy="1182.2" r="10.2"/>
<circle cx="920.2" cy="1131" r="10.2"/>
<circle cx="928.5" cy="1034.8" r="10.2"/>
<circle cx="916" cy="1008.5" r="10.2"/>
<circle cx="920.2" cy="1001.5" r="10.2"/>
<circle cx="917.2" cy="991" r="10.2"/>
<circle cx="918.5" cy="978.5" r="10.2"/>
<circle cx="929.8" cy="961" r="10.2"/>
<circle cx="927.2" cy="918.5" r="10.2"/>
<circle cx="931" cy="909.8" r="10.2"/>
<circle cx="929.8" cy="894.8" r="10.2"/>
<circle cx="928.7" cy="1212" r="10.2"/>
<circle cx="929.5" cy="1212" r="10.2"/>
<circle cx="930.2" cy="1216.6" r="10.2"/>
<circle cx="930.9" cy="1212" r="10.2"/>
<circle cx="931.5" cy="1232.6" r="10.2"/>
<circle cx="932" cy="1219.3" r="10.2"/>
<circle cx="932.9" cy="1235.1" r="10.2"/>
<circle cx="933.6" cy="1237.7" r="10.2"/>
<circle cx="934.2" cy="1234.4" r="10.2"/>
<circle cx="934.9" cy="1216.1" r="10.2"/>
<circle cx="935.7" cy="1232.1" r="10.2"/>
<circle cx="936.2" cy="1237.5" r="10.2"/>
<circle cx="937" cy="1248.2" r="10.2"/>
<circle cx="937.6" cy="1238.3" r="10.2"/>
<circle cx="938.2" cy="1219" r="10.2"/>
<circle cx="939" cy="1225.1" r="10.2"/>
<circle cx="939.6" cy="1212" r="10.2"/>
<circle cx="940.4" cy="1222.3" r="10.2"/>
<circle cx="941.3" cy="1232.7" r="10.2"/>
<circle cx="942" cy="1212" r="10.2"/>
<circle cx="942.8" cy="1212" r="10.2"/>
<circle cx="943.3" cy="1213.5" r="10.2"/>
<circle cx="943.9" cy="1212" r="10.2"/>
<circle cx="944.4" cy="1225.8" r="10.2"/>
<circle cx="945.1" cy="1212" r="10.2"/>
<circle cx="945.8" cy="1212" r="10.2"/>
<circle cx="946.5" cy="1256.1" r="10.2"/>
<circle cx="947.2" cy="1219.4" r="10.2"/>
<circle cx="947.8" cy="1232.5" r="10.2"/>
<circle cx="948.3" cy="1216.5" r="10.2"/>
<circle cx="949.1" cy="1212" r="10.2"/>
<circle cx="949.7" cy="1226.5" r="10.2"/>
<circle cx="950.2" cy="1213.7" r="10.2"/>
<circle cx="950.7" cy="1212" r="10.2"/>
<circle cx="951.3" cy="1214.7" r="10.2"/>
<circle cx="952.1" cy="1212" r="10.2"/>
<circle cx="952.8" cy="1212" r="10.2"/>
<circle cx="953.4" cy="1234.8" r="10.2"/>
<circle cx="954.1" cy="1218.5" r="10.2"/>
<circle cx="955" cy="1212" r="10.2"/>
<circle cx="955.7" cy="1227.5" r="10.2"/>
<circle cx="956.2" cy="1231.8" r="10.2"/>
<circle cx="956.8" cy="1248" r="10.2"/>
<circle cx="957.6" cy="1226" r="10.2"/>
<circle cx="958.2" cy="1241.3" r="10.2"/>
<circle cx="958.7" cy="1225.3" r="10.2"/>
<circle cx="959.4" cy="1214" r="10.2"/>
<circle cx="960.1" cy="1243.2" r="10.2"/>
<circle cx="960.8" cy="1238.4" r="10.2"/>
<circle cx="961.3" cy="1226.2" r="10.2"/>
<circle cx="962.2" cy="1229" r="10.2"/>
<circle cx="963" cy="1252" r="10.2"/>
<circle cx="963.5" cy="1223.4" r="10.2"/>
<circle cx="964.1" cy="1233.2" r="10.2"/>
<circle cx="964.8" cy="1258.9" r="10.2"/>
<circle cx="965.5" cy="1247.4" r="10.2"/>
<circle cx="966.2" cy="1242.9" r="10.2"/>
<circle cx="966.9" cy="1247.4" r="10.2"/>
<circle cx="967.8" cy="1240.7" r="10.2"/>
<circle cx="968.3" cy="1265" r="10.2"/>
<circle cx="969" cy="1244.8" r="10.2"/>
<circle cx="969.6" cy="1240.3" r="10.2"/>
<circle cx="970.2" cy="1244.8" r="10.2"/>
<circle cx="971" cy="1223.4" r="10.2"/>
<circle cx="972" cy="1241.9" r="10.2"/>
<circle cx="972.6" cy="1239.6" r="10.2"/>
<circle cx="973.3" cy="1243" r="10.2"/>
<circle cx="974" cy="1276.6" r="10.2"/>
<circle cx="974.9" cy="1264.1" r="10.2"/>
<circle cx="975.8" cy="1279.5" r="10.2"/>
<circle cx="976.6" cy="1257.9" r="10.2"/>
<circle cx="977.3" cy="1263.7" r="10.2"/>
<circle cx="978.1" cy="1250.4" r="10.2"/>
<circle cx="978.7" cy="1241.1" r="10.2"/>
<circle cx="979.5" cy="1251.2" r="10.2"/>
<circle cx="980.3" cy="1267.5" r="10.2"/>
<circle cx="981" cy="1266.3" r="10.2"/>
<circle cx="981.5" cy="1268.5" r="10.2"/>
<circle cx="982.3" cy="1263.2" r="10.2"/>
<circle cx="982.9" cy="1267.9" r="10.2"/>
<circle cx="983.6" cy="1269.3" r="10.2"/>
<circle cx="984.1" cy="1255.3" r="10.2"/>
<circle cx="985" cy="1256" r="10.2"/>
<circle cx="985.9" cy="1258.8" r="10.2"/>
<circle cx="986.8" cy="1282.4" r="10.2"/>
<circle cx="987.3" cy="1270.3" r="10.2"/>
<circle cx="988" cy="1263.7" r="10.2"/>
<circle cx="988.8" cy="1250.3" r="10.2"/>
<circle cx="989.7" cy="1241.5" r="10.2"/>
<circle cx="990.7" cy="1259.5" r="10.2"/>
<circle cx="991.1" cy="1260.7" r="10.2"/>
<circle cx="991.6" cy="1261.5" r="10.2"/>
<circle cx="992.3" cy="1252.9" r="10.2"/>
<circle cx="993.1" cy="1245.5" r="10.2"/>
<circle cx="994.8" cy="1191" r="10.2"/>
<circle cx="999.8" cy="1181" r="10.2"/>
<circle cx="993.5" cy="1174.8" r="10.2"/>
<circle cx="986" cy="1149.2" r="10.2"/>
<circle cx="981.5" cy="1122.2" r="10.2"/>
<circle cx="986" cy="1078" r="10.2"/>
<circle cx="982.2" cy="1051" r="10.2"/>
<circle cx="1003" cy="1051" r="10.2"/>
<circle cx="984.2" cy="1003.5" r="10.2"/>
<circle cx="999.2" cy="986.5" r="10.2"/>
<circle cx="983.5" cy="964.8" r="10.2"/>
<circle cx="1001" cy="963" r="10.2"/>
<circle cx="982.2" cy="952.2" r="10.2"/>
<circle cx="982.2" cy="942.2" r="10.2"/>
<circle cx="1001" cy="926" r="10.2"/>
<circle cx="999" cy="909" r="10.2"/>
<circle cx="994" cy="1259.5" r="10.2"/>
<circle cx="994.9" cy="1263.6" r="10.2"/>
<circle cx="995.7" cy="1263.5" r="10.2"/>
<circle cx="996.5" cy="1244.2" r="10.2"/>
<circle cx="997" cy="1264.9" r="10.2"/>
<circle cx="997.6" cy="1260.1" r="10.2"/>
<circle cx="998.3" cy="1264.8" r="10.2"/>
<circle cx="999.1" cy="1273.2" r="10.2"/>
<circle cx="999.7" cy="1255.7" r="10.2"/>
<circle cx="1000.3" cy="1246.9" r="10.2"/>
<circle cx="1001.2" cy="1251.8" r="10.2"/>
<circle cx="1001.7" cy="1250.1" r="10.2"/>
<circle cx="1002.7" cy="1241.8" r="10.2"/>
<circle cx="1003.4" cy="1239.4" r="10.2"/>
<circle cx="1004.1" cy="1254.5" r="10.2"/>
<circle cx="1005" cy="1270.2" r="10.2"/>
<circle cx="1005.7" cy="1241.5" r="10.2"/>
<circle cx="1006.2" cy="1252.9" r="10.2"/>
<circle cx="1006.9" cy="1239.6" r="10.2"/>
<circle cx="1007.4" cy="1224" r="10.2"/>
<circle cx="1008.2" cy="1219.3" r="10.2"/>
<circle cx="1008.9" cy="1224.8" r="10.2"/>
<circle cx="1009.4" cy="1257.2" r="10.2"/>
<circle cx="1010.4" cy="1197.8" r="10.2"/>
<circle cx="1011.3" cy="1237.8" r="10.2"/>
<circle cx="1011.8" cy="1243.4" r="10.2"/>
<circle cx="1012.6" cy="1196.6" r="10.2"/>
<circle cx="1013.1" cy="1209.1" r="10.2"/>
<circle cx="1013.8" cy="1224.4" r="10.2"/>
<circle cx="1014.3" cy="1217.6" r="10.2"/>
<circle cx="1015.1" cy="1206.8" r="10.2"/>
<circle cx="1016" cy="1200.4" r="10.2"/>
<circle cx="1016.5" cy="1219.6" r="10.2"/>
<circle cx="1017" cy="1195" r="10.2"/>
<circle cx="1017.9" cy="1195" r="10.2"/>
<circle cx="1018.7" cy="1195" r="10.2"/>
<circle cx="1019.3" cy="1195" r="10.2"/>
<circle cx="1020.1" cy="1195" r="10.2"/>
<circle cx="1020.9" cy="1195" r="10.2"/>
<circle cx="1021.5" cy="1198.7" r="10.2"/>
<circle cx="1022.2" cy="1195" r="10.2"/>
<circle cx="1022.7" cy="1195" r="10.2"/>
<circle cx="1023.2" cy="1230.1" r="10.2"/>
<circle cx="1023.9" cy="1246.8" r="10.2"/>
<circle cx="1024.7" cy="1255.3" r="10.2"/>
<circle cx="1025.6" cy="1251.8" r="10.2"/>
<circle cx="1026" cy="1218" r="10.2"/>
<circle cx="1026.9" cy="1265.5" r="10.2"/>
<circle cx="1027.5" cy="1245.2" r="10.2"/>
<circle cx="1028.5" cy="1267.6" r="10.2"/>
<circle cx="1029.1" cy="1253.5" r="10.2"/>
<circle cx="1030" cy="1229.9" r="10.2"/>
<circle cx="1030.6" cy="1264.4" r="10.2"/>
<circle cx="1031.1" cy="1227" r="10.2"/>
<circle cx="1031.8" cy="1220.9" r="10.2"/>
<circle cx="1032.6" cy="1278.3" r="10.2"/>
<circle cx="1033.3" cy="1259.4" r="10.2"/>
<circle cx="1033.8" cy="1276.7" r="10.2"/>
<circle cx="1034.5" cy="1266.9" r="10.2"/>
<circle cx="1035.2" cy="1280" r="10.2"/>
<circle cx="1035.8" cy="1273.1" r="10.2"/>
<circle cx="1036.6" cy="1229.5" r="10.2"/>
<circle cx="1037.4" cy="1198.1" r="10.2"/>
<circle cx="1038.2" cy="1224.4" r="10.2"/>
<circle cx="1039.1" cy="1286.9" r="10.2"/>
<circle cx="1039.6" cy="1289.1" r="10.2"/>
<circle cx="1040.2" cy="1254" r="10.2"/>
<circle cx="1040.9" cy="1287.3" r="10.2"/>
<circle cx="1041.7" cy="1320" r="10.2"/>
<circle cx="1042.4" cy="1299.4" r="10.2"/>
<circle cx="1042.9" cy="1274.3" r="10.2"/>
<circle cx="1043.8" cy="1264.5" r="10.2"/>
<circle cx="1044.3" cy="1224.5" r="10.2"/>
<circle cx="1045.2" cy="1318.6" r="10.2"/>
<circle cx="1045.9" cy="1262.5" r="10.2"/>
<circle cx="1046.4" cy="1304.9" r="10.2"/>
<circle cx="1047" cy="1320" r="10.2"/>
<circle cx="1047.5" cy="1312.9" r="10.2"/>
<circle cx="1048.3" cy="1317.8" r="10.2"/>
<circle cx="1048.8" cy="1311.7" r="10.2"/>
<circle cx="1049.6" cy="1281.1" r="10.2"/>
<circle cx="1050.6" cy="1300.4" r="10.2"/>
<circle cx="1051" cy="1288.2" r="10.2"/>
<circle cx="1051.7" cy="1315.1" r="10.2"/>
<circle cx="1052.3" cy="1320" r="10.2"/>
<circle cx="1053" cy="1320" r="10.2"/>
<circle cx="1053.5" cy="1320" r="10.2"/>
<circle cx="1054" cy="1306.6" r="10.2"/>
<circle cx="1054.5" cy="1291.9" r="10.2"/>
<circle cx="1055.1" cy="1304.9" r="10.2"/>
<circle cx="1055.9" cy="1268.6" r="10.2"/>
<circle cx="1056.4" cy="1269.6" r="10.2"/>
<circle cx="1057.2" cy="1303.9" r="10.2"/>
<circle cx="1055.2" cy="1226" r="10.2"/>
<circle cx="1048.5" cy="1211" r="10.2"/>
<circle cx="1059.8" cy="1203" r="10.2"/>
<circle cx="1057.2" cy="1186" r="10.2"/>
<circle cx="1057.2" cy="1181" r="10.2"/>
<circle cx="1057.8" cy="1162.2" r="10.2"/>
<circle cx="1057.7" cy="1271.2" r="10.2"/>
<circle cx="1058.6" cy="1320" r="10.2"/>
<circle cx="1059.3" cy="1298.5" r="10.2"/>
<circle cx="1060" cy="1282.9" r="10.2"/>
<circle cx="1060.6" cy="1320" r="10.2"/>
<circle cx="1061.5" cy="1263.9" r="10.2"/>
<circle cx="1062.3" cy="1299.3" r="10.2"/>
<circle cx="1063" cy="1264.9" r="10.2"/>
<circle cx="1063.8" cy="1230.5" r="10.2"/>
<circle cx="1064.5" cy="1197.8" r="10.2"/>
<circle cx="1065.3" cy="1238.2" r="10.2"/>
<circle cx="1066.1" cy="1207.5" r="10.2"/>
<circle cx="1066.7" cy="1205.7" r="10.2"/>
<circle cx="1067.5" cy="1221.1" r="10.2"/>
<circle cx="1068.3" cy="1195" r="10.2"/>
<circle cx="1068.8" cy="1224.8" r="10.2"/>
<circle cx="1069.6" cy="1198.8" r="10.2"/>
<circle cx="1070.3" cy="1217.1" r="10.2"/>
<circle cx="1071.1" cy="1198.3" r="10.2"/>
<circle cx="1071.6" cy="1300.5" r="10.2"/>
<circle cx="1072.5" cy="1257.9" r="10.2"/>
<circle cx="1073.3" cy="1264.4" r="10.2"/>
<circle cx="1073.8" cy="1298.5" r="10.2"/>
<circle cx="1074.7" cy="1300.2" r="10.2"/>
<circle cx="1075.5" cy="1297.2" r="10.2"/>
<circle cx="1076.3" cy="1278.3" r="10.2"/>
<circle cx="1076.8" cy="1302.3" r="10.2"/>
<circle cx="1077.4" cy="1305" r="10.2"/>
<circle cx="1078.3" cy="1266.1" r="10.2"/>
<circle cx="1078.9" cy="1268.5" r="10.2"/>
<circle cx="1079.8" cy="1261.2" r="10.2"/>
<circle cx="1080.5" cy="1280.9" r="10.2"/>
<circle cx="1081.3" cy="1291.4" r="10.2"/>
<circle cx="1081.9" cy="1267.7" r="10.2"/>
<circle cx="1082.4" cy="1252.2" r="10.2"/>
<circle cx="1082.9" cy="1270.7" r="10.2"/>
<circle cx="1083.5" cy="1277.9" r="10.2"/>
<circle cx="1084.5" cy="1272.1" r="10.2"/>
<circle cx="1085.2" cy="1267.8" r="10.2"/>
<circle cx="1086" cy="1286.6" r="10.2"/>
<circle cx="1086.6" cy="1277.3" r="10.2"/>
<circle cx="1087.4" cy="1299.1" r="10.2"/>
<circle cx="1088" cy="1292.3" r="10.2"/>
<circle cx="1088.8" cy="1313.9" r="10.2"/>
<circle cx="1089.3" cy="1312.4" r="10.2"/>
<circle cx="1090" cy="1270.8" r="10.2"/>
<circle cx="1090.6" cy="1316.5" r="10.2"/>
<circle cx="1091.2" cy="1309.8" r="10.2"/>
<circle cx="1092.1" cy="1286.9" r="10.2"/>
<circle cx="1092.8" cy="1297.3" r="10.2"/>
<circle cx="1093.3" cy="1296.4" r="10.2"/>
<circle cx="1094" cy="1280.6" r="10.2"/>
<circle cx="1094.5" cy="1309.7" r="10.2"/>
<circle cx="1095.3" cy="1299.3" r="10.2"/>
<circle cx="1095.9" cy="1280.1" r="10.2"/>
<circle cx="1096.8" cy="1306.8" r="10.2"/>
<circle cx="1097.5" cy="1303.7" r="10.2"/>
<circle cx="1098.4" cy="1301" r="10.2"/>
<circle cx="1099.2" cy="1289.2" r="10.2"/>
<circle cx="1099.8" cy="1265.1" r="10.2"/>
<circle cx="1100.4" cy="1295.3" r="10.2"/>
<circle cx="1101" cy="1282.6" r="10.2"/>
<circle cx="1101.9" cy="1282.9" r="10.2"/>
<circle cx="1102.8" cy="1299.2" r="10.2"/>
<circle cx="1103.7" cy="1278.5" r="10.2"/>
<circle cx="1104.2" cy="1314.7" r="10.2"/>
<circle cx="1104.9" cy="1270.2" r="10.2"/>
<circle cx="1105.8" cy="1271.9" r="10.2"/>
<circle cx="1106.4" cy="1289.6" r="10.2"/>
<circle cx="1106.9" cy="1278.9" r="10.2"/>
<circle cx="1107.4" cy="1281" r="10.2"/>
<circle cx="1107.9" cy="1283.6" r="10.2"/>
<circle cx="1108.5" cy="1273.7" r="10.2"/>
<circle cx="1109.4" cy="1280.2" r="10.2"/>
<circle cx="1110.3" cy="1313.2" r="10.2"/>
<circle cx="1111.2" cy="1284.6" r="10.2"/>
<circle cx="1111.9" cy="1287.9" r="10.2"/>
<circle cx="1112.5" cy="1287.5" r="10.2"/>
<circle cx="1113.4" cy="1283.6" r="10.2"/>
<circle cx="1114" cy="1287.1" r="10.2"/>
<circle cx="1114.8" cy="1293.2" r="10.2"/>
<circle cx="1115.3" cy="1269.6" r="10.2"/>
<circle cx="1116.2" cy="1282.5" r="10.2"/>
<circle cx="1116.9" cy="1273" r="10.2"/>
<circle cx="1117.8" cy="1262" r="10.2"/>
<circle cx="1118.6" cy="1304.4" r="10.2"/>
<circle cx="1119.3" cy="1294.2" r="10.2"/>
<circle cx="1119.9" cy="1288.1" r="10.2"/>
<circle cx="1120.8" cy="1289.6" r="10.2"/>
<circle cx="1121.3" cy="1270.3" r="10.2"/>
<circle cx="1122" cy="1279.8" r="10.2"/>
<circle cx="1122.6" cy="1291.1" r="10.2"/>
<circle cx="1123.2" cy="1274.6" r="10.2"/>
<circle cx="1124" cy="1291.1" r="10.2"/>
<circle cx="1124.6" cy="1288" r="10.2"/>
<circle cx="1125.3" cy="1280.7" r="10.2"/>
<circle cx="1126" cy="1289.8" r="10.2"/>
<circle cx="1126.8" cy="1285.8" r="10.2"/>
<circle cx="1127.6" cy="1269.7" r="10.2"/>
<circle cx="1128.4" cy="1299.3" r="10.2"/>
<circle cx="1129.4" cy="1267.8" r="10.2"/>
<circle cx="1134.8" cy="1226" r="10.2"/>
<circle cx="1133.5" cy="1213.5" r="10.2"/>
<circle cx="1129.8" cy="1149.8" r="10.2"/>
<circle cx="1127.2" cy="1136" r="10.2"/>
<circle cx="1127.2" cy="1114.8" r="10.2"/>
<circle cx="1127.2" cy="1094.8" r="10.2"/>
<circle cx="1130" cy="1284.9" r="10.2"/>
<circle cx="1130.8" cy="1250" r="10.2"/>
<circle cx="1131.2" cy="1279.1" r="10.2"/>
<circle cx="1132.1" cy="1266.8" r="10.2"/>
<circle cx="1132.8" cy="1292.6" r="10.2"/>
<circle cx="1133.5" cy="1284.5" r="10.2"/>
<circle cx="1134.4" cy="1320" r="10.2"/>
<circle cx="1135.2" cy="1267.9" r="10.2"/>
<circle cx="1135.8" cy="1273.5" r="10.2"/>
<circle cx="1136.6" cy="1281.6" r="10.2"/>
<circle cx="1137.6" cy="1250" r="10.2"/>
<circle cx="1138.1" cy="1280.2" r="10.2"/>
<circle cx="1138.6" cy="1290.7" r="10.2"/>
<circle cx="1139.3" cy="1288.3" r="10.2"/>
<circle cx="1140.2" cy="1288" r="10.2"/>
<circle cx="1140.8" cy="1298.4" r="10.2"/>
<circle cx="1141.5" cy="1302.6" r="10.2"/>
<circle cx="1142.1" cy="1318.8" r="10.2"/>
<circle cx="1143.1" cy="1311.4" r="10.2"/>
<circle cx="1143.7" cy="1320" r="10.2"/>
<circle cx="1144.2" cy="1316.2" r="10.2"/>
<circle cx="1144.9" cy="1320" r="10.2"/>
<circle cx="1145.7" cy="1320" r="10.2"/>
<circle cx="1146.4" cy="1320" r="10.2"/>
<circle cx="1147" cy="1298.9" r="10.2"/>
<circle cx="1147.7" cy="1320" r="10.2"/>
<circle cx="1148.4" cy="1281.1" r="10.2"/>
<circle cx="1149.3" cy="1293" r="10.2"/>
<circle cx="1150" cy="1305.6" r="10.2"/>
<circle cx="1150.5" cy="1293" r="10.2"/>
<circle cx="1151.1" cy="1307.6" r="10.2"/>
<circle cx="1151.6" cy="1305.1" r="10.2"/>
<circle cx="1152.5" cy="1290.9" r="10.2"/>
<circle cx="1153" cy="1289.6" r="10.2"/>
<circle cx="1153.7" cy="1320" r="10.2"/>
<circle cx="1154.3" cy="1320" r="10.2"/>
<circle cx="1154.7" cy="1319.3" r="10.2"/>
<circle cx="1155.5" cy="1320" r="10.2"/>
<circle cx="1156.2" cy="1320" r="10.2"/>
<circle cx="1156.8" cy="1320" r="10.2"/>
<circle cx="1157.4" cy="1310" r="10.2"/>
<circle cx="1158" cy="1320" r="10.2"/>
<circle cx="1158.7" cy="1308.9" r="10.2"/>
<circle cx="1159.4" cy="1290.1" r="10.2"/>
<circle cx="1160.1" cy="1292.7" r="10.2"/>
<circle cx="1160.6" cy="1302.1" r="10.2"/>
<circle cx="1161.5" cy="1292.7" r="10.2"/>
<circle cx="1162.4" cy="1307.9" r="10.2"/>
<circle cx="1163.1" cy="1301.9" r="10.2"/>
<circle cx="1163.9" cy="1279.9" r="10.2"/>
<circle cx="1164.4" cy="1320" r="10.2"/>
<circle cx="1165.1" cy="1305.5" r="10.2"/>
<circle cx="1166" cy="1320" r="10.2"/>
<circle cx="1166.5" cy="1306.9" r="10.2"/>
<circle cx="1167.4" cy="1311" r="10.2"/>
<circle cx="1168.2" cy="1302.5" r="10.2"/>
<circle cx="1168.9" cy="1290.4" r="10.2"/>
<circle cx="1169.6" cy="1275.7" r="10.2"/>
<circle cx="1170.4" cy="1267.1" r="10.2"/>
<circle cx="1171.1" cy="1273.7" r="10.2"/>
<circle cx="1171.7" cy="1306.1" r="10.2"/>
<circle cx="1172.5" cy="1294.9" r="10.2"/>
<circle cx="1173.1" cy="1272.6" r="10.2"/>
<circle cx="1174" cy="1291.4" r="10.2"/>
<circle cx="1174.7" cy="1276.6" r="10.2"/>
<circle cx="1175.2" cy="1282.1" r="10.2"/>
<circle cx="1176.1" cy="1287.5" r="10.2"/>
<circle cx="1176.6" cy="1279.1" r="10.2"/>
<circle cx="1177.5" cy="1278.6" r="10.2"/>
<circle cx="1178.2" cy="1281" r="10.2"/>
<circle cx="1179.1" cy="1295.7" r="10.2"/>
<circle cx="1179.8" cy="1268.6" r="10.2"/>
<circle cx="1180.7" cy="1265.4" r="10.2"/>
<circle cx="1181.5" cy="1283" r="10.2"/>
<circle cx="1182.1" cy="1288.7" r="10.2"/>
<circle cx="1182.6" cy="1253.4" r="10.2"/>
<circle cx="1183.4" cy="1253.7" r="10.2"/>
<circle cx="1184.1" cy="1292.4" r="10.2"/>
<circle cx="1185" cy="1303.1" r="10.2"/>
<circle cx="1185.6" cy="1276.1" r="10.2"/>
<circle cx="1186.1" cy="1270.9" r="10.2"/>
<circle cx="1186.8" cy="1258.2" r="10.2"/>
<circle cx="1187.6" cy="1271.7" r="10.2"/>
<circle cx="1188.1" cy="1260.9" r="10.2"/>
<circle cx="1188.7" cy="1271.4" r="10.2"/>
<circle cx="1189.4" cy="1273" r="10.2"/>
<circle cx="1190.1" cy="1269" r="10.2"/>
<circle cx="1191" cy="1254.6" r="10.2"/>
<circle cx="1192" cy="1253.5" r="10.2"/>
<circle cx="1192.7" cy="1263.5" r="10.2"/>
<circle cx="1193.5" cy="1305.5" r="10.2"/>
<circle cx="1194.2" cy="1279" r="10.2"/>
<circle cx="1194.9" cy="1278" r="10.2"/>
<circle cx="1195.6" cy="1251.6" r="10.2"/>
<circle cx="1196.3" cy="1253.8" r="10.2"/>
<circle cx="1197.2" cy="1261.2" r="10.2"/>
<circle cx="1197.9" cy="1250" r="10.2"/>
<circle cx="1198.6" cy="1273.1" r="10.2"/>
<circle cx="1199.1" cy="1250" r="10.2"/>
<circle cx="1200" cy="1255.4" r="10.2"/>
<circle cx="1200.7" cy="1250" r="10.2"/>
<circle cx="1178.5" cy="1223.5" r="10.2"/>
<circle cx="1178.5" cy="1206" r="10.2"/>
<circle cx="1208.5" cy="1193.5" r="10.2"/>
<circle cx="1178.5" cy="1174.8" r="10.2"/>
<circle cx="1204.8" cy="1174.8" r="10.2"/>
<circle cx="1202.2" cy="1153.5" r="10.2"/>
<circle cx="1178.5" cy="1139.8" r="10.2"/>
<circle cx="1213.5" cy="1124.8" r="10.2"/>
<circle cx="1192.2" cy="1102.2" r="10.2"/>
<circle cx="1208.5" cy="1087.2" r="10.2"/>
<circle cx="1201" cy="1079.8" r="10.2"/>
<circle cx="1211" cy="1012.2" r="10.2"/>
<circle cx="1202.2" cy="991" r="10.2"/>
<circle cx="1211" cy="984.8" r="10.2"/>
<circle cx="1202.2" cy="946" r="10.2"/>
<circle cx="1188.5" cy="909.8" r="10.2"/>
<circle cx="1189.8" cy="891" r="10.2"/>
<circle cx="1206.8" cy="889.8" r="10.2"/>
<circle cx="1197.2" cy="805.5" r="10.2"/>
<circle cx="1189.8" cy="798" r="10.2"/>
<circle cx="1206.8" cy="780.5" r="10.2"/>
<circle cx="1191" cy="773" r="10.2"/>
<circle cx="1203.5" cy="769.2" r="10.2"/>
<circle cx="1204.8" cy="718" r="10.2"/>
<circle cx="1204.8" cy="671.8" r="10.2"/>
<circle cx="1188.5" cy="581.8" r="10.2"/>
<circle cx="1197.2" cy="580" r="10.2"/>
<circle cx="1191.8" cy="568" r="10.2"/>
<circle cx="1195" cy="515.5" r="10.2"/>
<circle cx="1195.2" cy="509.2" r="10.2"/>
<circle cx="1201.2" cy="1250" r="10.2"/>
<circle cx="1201.9" cy="1250" r="10.2"/>
<circle cx="1202.7" cy="1279.1" r="10.2"/>
<circle cx="1203.5" cy="1288.2" r="10.2"/>
<circle cx="1204" cy="1278.7" r="10.2"/>
<circle cx="1204.6" cy="1261.8" r="10.2"/>
<circle cx="1205.4" cy="1265.2" r="10.2"/>
<circle cx="1206" cy="1250" r="10.2"/>
<circle cx="1207" cy="1257.2" r="10.2"/>
<circle cx="1207.4" cy="1261.1" r="10.2"/>
<circle cx="1208.2" cy="1265.2" r="10.2"/>
<circle cx="1208.6" cy="1286.6" r="10.2"/>
<circle cx="1209.5" cy="1265.3" r="10.2"/>
<circle cx="1210" cy="1252.7" r="10.2"/>
<circle cx="1210.6" cy="1250" r="10.2"/>
<circle cx="1211.4" cy="1250" r="10.2"/>
<circle cx="1211.8" cy="1250" r="10.2"/>
<circle cx="1212.7" cy="1266.9" r="10.2"/>
<circle cx="1213.5" cy="1265.7" r="10.2"/>
<circle cx="1214.4" cy="1256.3" r="10.2"/>
<circle cx="1215.2" cy="1253" r="10.2"/>
<circle cx="1215.9" cy="1265.3" r="10.2"/>
<circle cx="1216.5" cy="1277.8" r="10.2"/>
<circle cx="1216.9" cy="1278.5" r="10.2"/>
<circle cx="1217.5" cy="1268" r="10.2"/>
<circle cx="1218.1" cy="1268" r="10.2"/>
<circle cx="1218.8" cy="1268" r="10.2"/>
<circle cx="1219.4" cy="1271.1" r="10.2"/>
<circle cx="1220" cy="1268" r="10.2"/>
<circle cx="1220.8" cy="1268" r="10.2"/>
<circle cx="1221.4" cy="1278.7" r="10.2"/>
<circle cx="1222" cy="1271.8" r="10.2"/>
<circle cx="1222.9" cy="1283.7" r="10.2"/>
<circle cx="1223.5" cy="1282.4" r="10.2"/>
<circle cx="1224.3" cy="1284.9" r="10.2"/>
<circle cx="1225" cy="1268.4" r="10.2"/>
<circle cx="1225.9" cy="1273" r="10.2"/>
<circle cx="1226.6" cy="1268" r="10.2"/>
<circle cx="1227.4" cy="1274.3" r="10.2"/>
<circle cx="1227.8" cy="1268" r="10.2"/>
<circle cx="1228.7" cy="1282.8" r="10.2"/>
<circle cx="1229.7" cy="1275" r="10.2"/>
<circle cx="1230.2" cy="1271.9" r="10.2"/>
<circle cx="1230.6" cy="1302.4" r="10.2"/>
<circle cx="1231.4" cy="1286.6" r="10.2"/>
<circle cx="1232.3" cy="1286.8" r="10.2"/>
<circle cx="1233.2" cy="1270.6" r="10.2"/>
<circle cx="1233.9" cy="1294" r="10.2"/>
<circle cx="1234.4" cy="1283" r="10.2"/>
<circle cx="1234.9" cy="1293" r="10.2"/>
<circle cx="1235.6" cy="1280.3" r="10.2"/>
<circle cx="1236.3" cy="1305.5" r="10.2"/>
<circle cx="1236.9" cy="1312" r="10.2"/>
<circle cx="1237.9" cy="1312" r="10.2"/>
<circle cx="1238.5" cy="1312" r="10.2"/>
<circle cx="1239.4" cy="1295.1" r="10.2"/>
<circle cx="1240.1" cy="1312" r="10.2"/>
<circle cx="1240.7" cy="1310.5" r="10.2"/>
<circle cx="1241.2" cy="1302.3" r="10.2"/>
<circle cx="1241.9" cy="1299.3" r="10.2"/>
<circle cx="1242.8" cy="1294.8" r="10.2"/>
<circle cx="1243.4" cy="1301.4" r="10.2"/>
<circle cx="1243.9" cy="1272.3" r="10.2"/>
<circle cx="1244.5" cy="1301.7" r="10.2"/>
<circle cx="1245.1" cy="1293.6" r="10.2"/>
<circle cx="1245.7" cy="1292.6" r="10.2"/>
<circle cx="1246.5" cy="1275.2" r="10.2"/>
<circle cx="1247.1" cy="1305.3" r="10.2"/>
<circle cx="1247.9" cy="1290.6" r="10.2"/>
<circle cx="1248.4" cy="1286.6" r="10.2"/>
<circle cx="1249.2" cy="1283.8" r="10.2"/>
<circle cx="1249.9" cy="1272.6" r="10.2"/>
<circle cx="1250.4" cy="1274.8" r="10.2"/>
<circle cx="1251.3" cy="1280.4" r="10.2"/>
<circle cx="1252.1" cy="1281.7" r="10.2"/>
<circle cx="1252.9" cy="1268" r="10.2"/>
<circle cx="1253.7" cy="1283.4" r="10.2"/>
<circle cx="1254.6" cy="1272.4" r="10.2"/>
<circle cx="1255.5" cy="1278.3" r="10.2"/>
<circle cx="1256.2" cy="1271.9" r="10.2"/>
<circle cx="1256.7" cy="1268" r="10.2"/>
<circle cx="1257.2" cy="1276.9" r="10.2"/>
<circle cx="1257.9" cy="1287.6" r="10.2"/>
<circle cx="1258.8" cy="1273.5" r="10.2"/>
<circle cx="1259.3" cy="1300.3" r="10.2"/>
<circle cx="1259.9" cy="1280.4" r="10.2"/>
<circle cx="1260.8" cy="1274.6" r="10.2"/>
<circle cx="1261.3" cy="1291.3" r="10.2"/>
<circle cx="1262.1" cy="1287.2" r="10.2"/>
<circle cx="1262.8" cy="1297.6" r="10.2"/>
<circle cx="1263.2" cy="1293.5" r="10.2"/>
<circle cx="1263.8" cy="1291.6" r="10.2"/>
<circle cx="1264.5" cy="1302.5" r="10.2"/>
<circle cx="1265.2" cy="1287.4" r="10.2"/>
<circle cx="1266.1" cy="1299.8" r="10.2"/>
<circle cx="1266.9" cy="1303.9" r="10.2"/>
<circle cx="1267.8" cy="1309.1" r="10.2"/>
<circle cx="1268.5" cy="1295.5" r="10.2"/>
<circle cx="1269.4" cy="1287.5" r="10.2"/>
<circle cx="1270.1" cy="1295.7" r="10.2"/>
<circle cx="1270.9" cy="1312" r="10.2"/>
<circle cx="1271.5" cy="1310.4" r="10.2"/>
<circle cx="1272.2" cy="1312" r="10.2"/>
<circle cx="1272.9" cy="1306.7" r="10.2"/>
<circle cx="1273.6" cy="1283.5" r="10.2"/>
<circle cx="1274.3" cy="1296.1" r="10.2"/>
<circle cx="1275" cy="1305.6" r="10.2"/>
<circle cx="1275.7" cy="1300.6" r="10.2"/>
<circle cx="1276.6" cy="1296.5" r="10.2"/>
<circle cx="1277.2" cy="1281.2" r="10.2"/>
<circle cx="1278.1" cy="1291.7" r="10.2"/>
<circle cx="1278.6" cy="1297.6" r="10.2"/>
<circle cx="1279.1" cy="1295.8" r="10.2"/>
<circle cx="1279.9" cy="1286.4" r="10.2"/>
<circle cx="1280.6" cy="1281.1" r="10.2"/>
<circle cx="1281.4" cy="1276.9" r="10.2"/>
<circle cx="1282.2" cy="1289.3" r="10.2"/>
<circle cx="1283.1" cy="1288.8" r="10.2"/>
<circle cx="1283.6" cy="1294.2" r="10.2"/>
<circle cx="1284.4" cy="1308.2" r="10.2"/>
<circle cx="1285" cy="1304.5" r="10.2"/>
<circle cx="1285.6" cy="1275.7" r="10.2"/>
<circle cx="1286.2" cy="1295.1" r="10.2"/>
<circle cx="1287" cy="1288.7" r="10.2"/>
<circle cx="1287.8" cy="1293.3" r="10.2"/>
<circle cx="1288.4" cy="1282.7" r="10.2"/>
<circle cx="1288.9" cy="1288.4" r="10.2"/>
<circle cx="1289.4" cy="1277.5" r="10.2"/>
<circle cx="1290.1" cy="1273.1" r="10.2"/>
<circle cx="1290.6" cy="1268.5" r="10.2"/>
<circle cx="1291.4" cy="1276.6" r="10.2"/>
<circle cx="1292.2" cy="1281.9" r="10.2"/>
<circle cx="1293" cy="1280.3" r="10.2"/>
<circle cx="1293.7" cy="1309.4" r="10.2"/>
<circle cx="1294.4" cy="1284.9" r="10.2"/>
<circle cx="1295.2" cy="1286" r="10.2"/>
<circle cx="1295.7" cy="1285.8" r="10.2"/>
<circle cx="1296.6" cy="1310.7" r="10.2"/>
<circle cx="1297.1" cy="1305.3" r="10.2"/>
<circle cx="1297.8" cy="1300.3" r="10.2"/>
<circle cx="1298.6" cy="1301.1" r="10.2"/>
<circle cx="1299.3" cy="1297.1" r="10.2"/>
<circle cx="1299.8" cy="1290.2" r="10.2"/>
<circle cx="1300.7" cy="1291.1" r="10.2"/>
<circle cx="1301.4" cy="1312" r="10.2"/>
<circle cx="1302.3" cy="1287.4" r="10.2"/>
<circle cx="1303.2" cy="1289.3" r="10.2"/>
<circle cx="1303.9" cy="1289.9" r="10.2"/>
<circle cx="1304.6" cy="1284.5" r="10.2"/>
<circle cx="1305.2" cy="1299.7" r="10.2"/>
<circle cx="1305.9" cy="1300.2" r="10.2"/>
<circle cx="1306.6" cy="1315.9" r="10.2"/>
<circle cx="1307.3" cy="1307.2" r="10.2"/>
<circle cx="1307.8" cy="1317.8" r="10.2"/>
<circle cx="1308.3" cy="1295.6" r="10.2"/>
<circle cx="1308.8" cy="1284.7" r="10.2"/>
<circle cx="1309.4" cy="1273.5" r="10.2"/>
<circle cx="1309.9" cy="1297.6" r="10.2"/>
<circle cx="1310.8" cy="1308.3" r="10.2"/>
<circle cx="1310.8" cy="1232.2" r="10.2"/>
<circle cx="1309.5" cy="1192.2" r="10.2"/>
<circle cx="1311.2" cy="1154.8" r="10.2"/>
<circle cx="1311.2" cy="1118.5" r="10.2"/>
<circle cx="1311.7" cy="1289.9" r="10.2"/>
<circle cx="1312.2" cy="1294.4" r="10.2"/>
<circle cx="1312.8" cy="1287.4" r="10.2"/>
<circle cx="1313.4" cy="1297.2" r="10.2"/>
<circle cx="1314.2" cy="1288.4" r="10.2"/>
<circle cx="1315" cy="1310.5" r="10.2"/>
<circle cx="1316" cy="1311.1" r="10.2"/>
<circle cx="1316.8" cy="1318.8" r="10.2"/>
<circle cx="1317.5" cy="1291.3" r="10.2"/>
<circle cx="1318" cy="1307.8" r="10.2"/>
<circle cx="1318.5" cy="1321.4" r="10.2"/>
<circle cx="1319.4" cy="1272" r="10.2"/>
<circle cx="1319.9" cy="1306.9" r="10.2"/>
<circle cx="1320.7" cy="1283.1" r="10.2"/>
<circle cx="1321.5" cy="1265.6" r="10.2"/>
<circle cx="1322.3" cy="1309.6" r="10.2"/>
<circle cx="1323.1" cy="1322.2" r="10.2"/>
<circle cx="1323.6" cy="1266.6" r="10.2"/>
<circle cx="1324.2" cy="1302.8" r="10.2"/>
<circle cx="1324.9" cy="1322.5" r="10.2"/>
<circle cx="1325.8" cy="1322.6" r="10.2"/>
<circle cx="1326.3" cy="1289.8" r="10.2"/>
<circle cx="1327.2" cy="1262.7" r="10.2"/>
<circle cx="1327.9" cy="1323" r="10.2"/>
<circle cx="1328.9" cy="1261.6" r="10.2"/>
<circle cx="1329.8" cy="1293.4" r="10.2"/>
<circle cx="1330.6" cy="1270.5" r="10.2"/>
<circle cx="1331.3" cy="1272.4" r="10.2"/>
<circle cx="1332.3" cy="1254.7" r="10.2"/>
<circle cx="1332.8" cy="1304.2" r="10.2"/>
<circle cx="1333.7" cy="1247.9" r="10.2"/>
<circle cx="1334.6" cy="1287.2" r="10.2"/>
<circle cx="1335.2" cy="1266.9" r="10.2"/>
<circle cx="1336.1" cy="1289.7" r="10.2"/>
<circle cx="1337" cy="1230.9" r="10.2"/>
<circle cx="1337.8" cy="1244.6" r="10.2"/>
<circle cx="1338.6" cy="1230.5" r="10.2"/>
<circle cx="1339.4" cy="1224.1" r="10.2"/>
<circle cx="1340.1" cy="1267.3" r="10.2"/>
<circle cx="1341" cy="1258.7" r="10.2"/>
<circle cx="1341.7" cy="1218.9" r="10.2"/>
<circle cx="1342.6" cy="1242.5" r="10.2"/>
<circle cx="1343.3" cy="1259.9" r="10.2"/>
<circle cx="1343.9" cy="1264.3" r="10.2"/>
<circle cx="1344.4" cy="1245.6" r="10.2"/>
<circle cx="1345" cy="1257.3" r="10.2"/>
<circle cx="1345.9" cy="1274.6" r="10.2"/>
<circle cx="1346.6" cy="1218.5" r="10.2"/>
<circle cx="1347" cy="1255.3" r="10.2"/>
<circle cx="1347.7" cy="1239" r="10.2"/>
<circle cx="1348.2" cy="1249.2" r="10.2"/>
<circle cx="1348.7" cy="1246.1" r="10.2"/>
<circle cx="1349.6" cy="1249.6" r="10.2"/>
<circle cx="1350.2" cy="1230" r="10.2"/>
<circle cx="1350.9" cy="1236.1" r="10.2"/>
<circle cx="1351.5" cy="1236.7" r="10.2"/>
<circle cx="1352" cy="1205" r="10.2"/>
<circle cx="1352.9" cy="1206.7" r="10.2"/>
<circle cx="1353.7" cy="1205" r="10.2"/>
<circle cx="1354.6" cy="1206.9" r="10.2"/>
<circle cx="1355.4" cy="1205" r="10.2"/>
<circle cx="1356.3" cy="1222.1" r="10.2"/>
<circle cx="1356.9" cy="1232.5" r="10.2"/>
<circle cx="1357.8" cy="1220.9" r="10.2"/>
<circle cx="1358.6" cy="1205" r="10.2"/>
<circle cx="1359.4" cy="1205" r="10.2"/>
<circle cx="1360.2" cy="1248.9" r="10.2"/>
<circle cx="1361.1" cy="1205" r="10.2"/>
<circle cx="1361.7" cy="1205" r="10.2"/>
<circle cx="1362.3" cy="1205" r="10.2"/>
<circle cx="1362.8" cy="1205" r="10.2"/>
<circle cx="1363.6" cy="1223.7" r="10.2"/>
<circle cx="1364.6" cy="1218" r="10.2"/>
<circle cx="1365.5" cy="1242" r="10.2"/>
<circle cx="1366.1" cy="1212.6" r="10.2"/>
<circle cx="1366.8" cy="1233.7" r="10.2"/>
<circle cx="1367.4" cy="1205" r="10.2"/>
<circle cx="1368" cy="1205" r="10.2"/>
<circle cx="1368.5" cy="1205" r="10.2"/>
<circle cx="1369" cy="1211.2" r="10.2"/>
<circle cx="1369.9" cy="1205" r="10.2"/>
<circle cx="1370.7" cy="1205" r="10.2"/>
<circle cx="1371.5" cy="1222.7" r="10.2"/>
<circle cx="1372.1" cy="1254.2" r="10.2"/>
<circle cx="1372.9" cy="1205" r="10.2"/>
<circle cx="1373.6" cy="1205" r="10.2"/>
<circle cx="1374.3" cy="1219.2" r="10.2"/>
<circle cx="1375.1" cy="1222.4" r="10.2"/>
<circle cx="1375.8" cy="1252.8" r="10.2"/>
<circle cx="1376.5" cy="1248" r="10.2"/>
<circle cx="1377" cy="1205.2" r="10.2"/>
<circle cx="1377.7" cy="1205" r="10.2"/>
<circle cx="1378.4" cy="1222.1" r="10.2"/>
<circle cx="1382" cy="1244.8" r="10.2"/>
<circle cx="1365.8" cy="1230.2" r="10.2"/>
<circle cx="1369.5" cy="1204.8" r="10.2"/>
<circle cx="1388.2" cy="1199.2" r="10.2"/>
<circle cx="1393.2" cy="1176.8" r="10.2"/>
<circle cx="1389.5" cy="1161" r="10.2"/>
<circle cx="1369.5" cy="1157.8" r="10.2"/>
<circle cx="1388.2" cy="1151" r="10.2"/>
<circle cx="1370.8" cy="1131" r="10.2"/>
<circle cx="1380.2" cy="1118.5" r="10.2"/>
<circle cx="1367" cy="1109.8" r="10.2"/>
<circle cx="1372" cy="1089.8" r="10.2"/>
<circle cx="1382" cy="1079.8" r="10.2"/>
<circle cx="1372" cy="1067.2" r="10.2"/>
<circle cx="1393.2" cy="1064" r="10.2"/>
<circle cx="1373.2" cy="1053.5" r="10.2"/>
<circle cx="1393.2" cy="1043.5" r="10.2"/>
<circle cx="1393.2" cy="1005.2" r="10.2"/>
<circle cx="1375.2" cy="986.5" r="10.2"/>
<circle cx="1385.8" cy="979.8" r="10.2"/>
<circle cx="1384.5" cy="899" r="10.2"/>
<circle cx="1378.2" cy="862.8" r="10.2"/>
<circle cx="1378" cy="855.5" r="10.2"/>
<circle cx="1378.5" cy="769.2" r="10.2"/>
<circle cx="1377" cy="727.2" r="10.2"/>
<circle cx="1377" cy="679.2" r="10.2"/>
<circle cx="1378.9" cy="1225.3" r="10.2"/>
<circle cx="1379.5" cy="1224.3" r="10.2"/>
<circle cx="1380.1" cy="1212.7" r="10.2"/>
<circle cx="1381" cy="1231.4" r="10.2"/>
<circle cx="1381.8" cy="1205" r="10.2"/>
<circle cx="1382.6" cy="1234.8" r="10.2"/>
<circle cx="1383.4" cy="1205" r="10.2"/>
<circle cx="1384.1" cy="1205" r="10.2"/>
<circle cx="1384.7" cy="1205" r="10.2"/>
<circle cx="1385.4" cy="1255.8" r="10.2"/>
<circle cx="1386.2" cy="1256.3" r="10.2"/>
<circle cx="1386.9" cy="1255.3" r="10.2"/>
<circle cx="1387.6" cy="1227.1" r="10.2"/>
<circle cx="1388.3" cy="1217.3" r="10.2"/>
<circle cx="1389.1" cy="1257.4" r="10.2"/>
<circle cx="1389.6" cy="1283.8" r="10.2"/>
<circle cx="1390.4" cy="1266.3" r="10.2"/>
<circle cx="1391.1" cy="1311.5" r="10.2"/>
<circle cx="1391.6" cy="1313.9" r="10.2"/>
<circle cx="1392.5" cy="1325" r="10.2"/>
<circle cx="1393.3" cy="1301.4" r="10.2"/>
<circle cx="1393.9" cy="1302.9" r="10.2"/>
<circle cx="1394.8" cy="1325" r="10.2"/>
<circle cx="1395.4" cy="1304.3" r="10.2"/>
<circle cx="1396.3" cy="1325" r="10.2"/>
<circle cx="1396.8" cy="1300.3" r="10.2"/>
<circle cx="1397.7" cy="1325" r="10.2"/>
<circle cx="1398.5" cy="1311.6" r="10.2"/>
<circle cx="1399.1" cy="1282.2" r="10.2"/>
<circle cx="1399.8" cy="1325" r="10.2"/>
<circle cx="1400.5" cy="1325" r="10.2"/>
<circle cx="1401.1" cy="1325" r="10.2"/>
<circle cx="1401.8" cy="1325" r="10.2"/>
<circle cx="1402.6" cy="1324.3" r="10.2"/>
<circle cx="1403.4" cy="1310.6" r="10.2"/>
<circle cx="1404.1" cy="1308" r="10.2"/>
<circle cx="1404.7" cy="1321.6" r="10.2"/>
<circle cx="1405.4" cy="1320.8" r="10.2"/>
<circle cx="1405.8" cy="1320.2" r="10.2"/>
<circle cx="1406.4" cy="1313.6" r="10.2"/>
<circle cx="1407.2" cy="1306" r="10.2"/>
<circle cx="1408" cy="1317.5" r="10.2"/>
<circle cx="1408.7" cy="1304.2" r="10.2"/>
<circle cx="1409.6" cy="1303.5" r="10.2"/>
<circle cx="1410.5" cy="1296.3" r="10.2"/>
<circle cx="1411.3" cy="1287.1" r="10.2"/>
<circle cx="1412.1" cy="1293" r="10.2"/>
<circle cx="1412.6" cy="1292.7" r="10.2"/>
<circle cx="1413.2" cy="1281.2" r="10.2"/>
<circle cx="1413.7" cy="1274.1" r="10.2"/>
<circle cx="1414.5" cy="1305.9" r="10.2"/>
<circle cx="1415.4" cy="1305.1" r="10.2"/>
<circle cx="1416.3" cy="1282.8" r="10.2"/>
<circle cx="1417.2" cy="1315" r="10.2"/>
<circle cx="1418.1" cy="1294.9" r="10.2"/>
<circle cx="1418.6" cy="1310.1" r="10.2"/>
<circle cx="1419.5" cy="1302.1" r="10.2"/>
<circle cx="1420.3" cy="1285.1" r="10.2"/>
<circle cx="1420.8" cy="1270.5" r="10.2"/>
<circle cx="1421.4" cy="1266.9" r="10.2"/>
<circle cx="1422.1" cy="1285.9" r="10.2"/>
<circle cx="1422.9" cy="1293.9" r="10.2"/>
<circle cx="1423.4" cy="1295.6" r="10.2"/>
<circle cx="1424.3" cy="1283.2" r="10.2"/>
<circle cx="1425.1" cy="1271" r="10.2"/>
<circle cx="1425.9" cy="1296.6" r="10.2"/>
<circle cx="1426.4" cy="1255" r="10.2"/>
<circle cx="1427.3" cy="1267.6" r="10.2"/>
<circle cx="1427.9" cy="1255" r="10.2"/>
<circle cx="1428.3" cy="1278.3" r="10.2"/>
<circle cx="1428.8" cy="1255" r="10.2"/>
<circle cx="1429.7" cy="1287.8" r="10.2"/>
<circle cx="1430.4" cy="1260.8" r="10.2"/>
<circle cx="1431" cy="1255" r="10.2"/>
<circle cx="1432" cy="1275.8" r="10.2"/>
<circle cx="1432.7" cy="1270.3" r="10.2"/>
<circle cx="1433.1" cy="1281.4" r="10.2"/>
<circle cx="1433.9" cy="1285.2" r="10.2"/>
<circle cx="1434.7" cy="1281.2" r="10.2"/>
<circle cx="1435.3" cy="1256.1" r="10.2"/>
<circle cx="1436.3" cy="1255" r="10.2"/>
<circle cx="1437" cy="1276.5" r="10.2"/>
<circle cx="1437.8" cy="1260.5" r="10.2"/>
<circle cx="1438.3" cy="1267.7" r="10.2"/>
<circle cx="1439" cy="1266.1" r="10.2"/>
<circle cx="1438.2" cy="1231" r="10.2"/>
<circle cx="1439.5" cy="1202.2" r="10.2"/>
<circle cx="1439.5" cy="1171" r="10.2"/>
<circle cx="1435.8" cy="1154.8" r="10.2"/>
<circle cx="1439.7" cy="1284.4" r="10.2"/>
<circle cx="1440.6" cy="1284.8" r="10.2"/>
<circle cx="1441.2" cy="1277.3" r="10.2"/>
<circle cx="1441.8" cy="1259.6" r="10.2"/>
<circle cx="1442.7" cy="1282.7" r="10.2"/>
<circle cx="1443.4" cy="1288.3" r="10.2"/>
<circle cx="1444.3" cy="1310.1" r="10.2"/>
<circle cx="1445.2" cy="1262.4" r="10.2"/>
<circle cx="1445.7" cy="1280.5" r="10.2"/>
<circle cx="1446.2" cy="1274.9" r="10.2"/>
<circle cx="1446.7" cy="1297.7" r="10.2"/>
<circle cx="1447.3" cy="1304.5" r="10.2"/>
<circle cx="1447.8" cy="1300.5" r="10.2"/>
<circle cx="1448.7" cy="1278.7" r="10.2"/>
<circle cx="1449.6" cy="1303.1" r="10.2"/>
<circle cx="1450.2" cy="1294.1" r="10.2"/>
<circle cx="1450.7" cy="1282.8" r="10.2"/>
<circle cx="1451.2" cy="1278.5" r="10.2"/>
<circle cx="1452" cy="1287" r="10.2"/>
<circle cx="1452.9" cy="1272.5" r="10.2"/>
<circle cx="1453.4" cy="1255" r="10.2"/>
<circle cx="1454.1" cy="1255" r="10.2"/>
<circle cx="1454.9" cy="1255.9" r="10.2"/>
<circle cx="1455.6" cy="1265.5" r="10.2"/>
<circle cx="1456.1" cy="1255" r="10.2"/>
<circle cx="1456.9" cy="1255" r="10.2"/>
<circle cx="1457.4" cy="1255" r="10.2"/>
<circle cx="1458.1" cy="1255" r="10.2"/>
<circle cx="1458.9" cy="1255" r="10.2"/>
<circle cx="1459.6" cy="1255" r="10.2"/>
<circle cx="1460.5" cy="1255" r="10.2"/>
<circle cx="1461.3" cy="1255" r="10.2"/>
<circle cx="1462.2" cy="1255" r="10.2"/>
<circle cx="1462.8" cy="1273" r="10.2"/>
<circle cx="1463.3" cy="1261.8" r="10.2"/>
<circle cx="1464.1" cy="1271.9" r="10.2"/>
<circle cx="1465" cy="1288.8" r="10.2"/>
<circle cx="1465.5" cy="1274.3" r="10.2"/>
<circle cx="1466.2" cy="1308" r="10.2"/>
<circle cx="1466.8" cy="1304.2" r="10.2"/>
<circle cx="1467.3" cy="1294.9" r="10.2"/>
<circle cx="1468.2" cy="1293" r="10.2"/>
<circle cx="1468.8" cy="1282.5" r="10.2"/>
<circle cx="1469.3" cy="1278.6" r="10.2"/>
<circle cx="1470.1" cy="1267.8" r="10.2"/>
<circle cx="1470.7" cy="1255" r="10.2"/>
<circle cx="1471.6" cy="1255" r="10.2"/>
<circle cx="1472.2" cy="1260" r="10.2"/>
<circle cx="1472.9" cy="1255.1" r="10.2"/>
<circle cx="1473.8" cy="1259.9" r="10.2"/>
<circle cx="1474.4" cy="1261.8" r="10.2"/>
<circle cx="1475.2" cy="1238.9" r="10.2"/>
<circle cx="1476.1" cy="1234.5" r="10.2"/>
<circle cx="1477" cy="1276.2" r="10.2"/>
<circle cx="1477.7" cy="1250.4" r="10.2"/>
<circle cx="1478.3" cy="1256.9" r="10.2"/>
<circle cx="1479.2" cy="1282.1" r="10.2"/>
<circle cx="1479.9" cy="1280.1" r="10.2"/>
<circle cx="1480.5" cy="1249" r="10.2"/>
<circle cx="1481.5" cy="1285.4" r="10.2"/>
<circle cx="1482.4" cy="1284.9" r="10.2"/>
<circle cx="1483.3" cy="1248.3" r="10.2"/>
<circle cx="1484.2" cy="1243.4" r="10.2"/>
<circle cx="1484.8" cy="1227.9" r="10.2"/>
<circle cx="1485.3" cy="1267.6" r="10.2"/>
<circle cx="1485.8" cy="1276.2" r="10.2"/>
<circle cx="1486.5" cy="1290.4" r="10.2"/>
<circle cx="1487" cy="1262.8" r="10.2"/>
<circle cx="1487.8" cy="1256.1" r="10.2"/>
<circle cx="1488.4" cy="1246.8" r="10.2"/>
<circle cx="1489.1" cy="1289.7" r="10.2"/>
<circle cx="1489.9" cy="1253.2" r="10.2"/>
<circle cx="1490.6" cy="1261.2" r="10.2"/>
<circle cx="1491.5" cy="1292" r="10.2"/>
<circle cx="1492.2" cy="1254.8" r="10.2"/>
<circle cx="1492.8" cy="1215" r="10.2"/>
<circle cx="1493.4" cy="1231.2" r="10.2"/>
<circle cx="1494.1" cy="1272.3" r="10.2"/>
<circle cx="1495" cy="1242.8" r="10.2"/>
<circle cx="1495.7" cy="1242.6" r="10.2"/>
<circle cx="1496.6" cy="1215" r="10.2"/>
<circle cx="1497.3" cy="1215" r="10.2"/>
<circle cx="1498.1" cy="1215" r="10.2"/>
<circle cx="1498.6" cy="1215" r="10.2"/>
<circle cx="1499.5" cy="1223" r="10.2"/>
<circle cx="1500" cy="1226.9" r="10.2"/>
<circle cx="1500.9" cy="1236.3" r="10.2"/>
<circle cx="1501.6" cy="1220.1" r="10.2"/>
<circle cx="1502.5" cy="1215" r="10.2"/>
<circle cx="1503" cy="1215" r="10.2"/>
<circle cx="1503.7" cy="1230.9" r="10.2"/>
<circle cx="1504.3" cy="1220" r="10.2"/>
<circle cx="1504.8" cy="1215" r="10.2"/>
<circle cx="1505.4" cy="1230.3" r="10.2"/>
<circle cx="1506.3" cy="1215" r="10.2"/>
<circle cx="1507" cy="1215" r="10.2"/>
<circle cx="1507.8" cy="1215" r="10.2"/>
<circle cx="1508.4" cy="1221.3" r="10.2"/>
<circle cx="1509" cy="1215" r="10.2"/>
<circle cx="1509.5" cy="1282.4" r="10.2"/>
<circle cx="1510.2" cy="1277.3" r="10.2"/>
<circle cx="1514.5" cy="1258.5" r="10.2"/>
<circle cx="1487" cy="1253.5" r="10.2"/>
<circle cx="1524.5" cy="1242.2" r="10.2"/>
<circle cx="1497" cy="1224.8" r="10.2"/>
<circle cx="1527" cy="1218.5" r="10.2"/>
<circle cx="1517" cy="1217.2" r="10.2"/>
<circle cx="1494.5" cy="1203.5" r="10.2"/>
<circle cx="1484.5" cy="1192.2" r="10.2"/>
<circle cx="1522" cy="1187.2" r="10.2"/>
<circle cx="1499.5" cy="1178.5" r="10.2"/>
<circle cx="1483.2" cy="1174.8" r="10.2"/>
<circle cx="1515.8" cy="1164.8" r="10.2"/>
<circle cx="1523.2" cy="1159.2" r="10.2"/>
<circle cx="1482" cy="1153.5" r="10.2"/>
<circle cx="1502" cy="1141" r="10.2"/>
<circle cx="1523.2" cy="1127.2" r="10.2"/>
<circle cx="1502" cy="1118.5" r="10.2"/>
<circle cx="1523.2" cy="1114.8" r="10.2"/>
<circle cx="1514" cy="1098.5" r="10.2"/>
<circle cx="1507" cy="1046" r="10.2"/>
<circle cx="1507" cy="961.5" r="10.2"/>
<circle cx="1514" cy="943" r="10.2"/>
<circle cx="1511.5" cy="824.8" r="10.2"/>
<circle cx="1508.8" cy="789.8" r="10.2"/>
<circle cx="1508.8" cy="756.2" r="10.2"/>
<circle cx="1510.5" cy="706.8" r="10.2"/>
<circle cx="1512.5" cy="686.8" r="10.2"/>
<circle cx="1510.5" cy="673" r="10.2"/>
<circle cx="1510.5" cy="623.8" r="10.2"/>
<circle cx="1510.7" cy="1233.4" r="10.2"/>
<circle cx="1511.3" cy="1282.5" r="10.2"/>
<circle cx="1511.9" cy="1249.5" r="10.2"/>
<circle cx="1512.3" cy="1287.8" r="10.2"/>
<circle cx="1513" cy="1275" r="10.2"/>
<circle cx="1513.8" cy="1292.1" r="10.2"/>
<circle cx="1514.7" cy="1320" r="10.2"/>
<circle cx="1515.7" cy="1312" r="10.2"/>
<circle cx="1516.1" cy="1320" r="10.2"/>
<circle cx="1516.9" cy="1280.5" r="10.2"/>
<circle cx="1517.5" cy="1281.7" r="10.2"/>
<circle cx="1517.9" cy="1280.9" r="10.2"/>
<circle cx="1518.6" cy="1273.4" r="10.2"/>
<circle cx="1519.5" cy="1313.6" r="10.2"/>
<circle cx="1520.4" cy="1299.9" r="10.2"/>
<circle cx="1521.2" cy="1298" r="10.2"/>
<circle cx="1521.8" cy="1285.4" r="10.2"/>
<circle cx="1522.6" cy="1233.6" r="10.2"/>
<circle cx="1523.5" cy="1274.2" r="10.2"/>
<circle cx="1524.1" cy="1221.6" r="10.2"/>
<circle cx="1524.6" cy="1261.6" r="10.2"/>
<circle cx="1525.2" cy="1273.6" r="10.2"/>
<circle cx="1526" cy="1267.8" r="10.2"/>
<circle cx="1526.8" cy="1263.7" r="10.2"/>
<circle cx="1527.4" cy="1275.7" r="10.2"/>
<circle cx="1527.9" cy="1244.2" r="10.2"/>
<circle cx="1528.9" cy="1269.5" r="10.2"/>
<circle cx="1529.5" cy="1242.4" r="10.2"/>
<circle cx="1530.3" cy="1272" r="10.2"/>
<circle cx="1531" cy="1262.8" r="10.2"/>
<circle cx="1531.5" cy="1291.4" r="10.2"/>
<circle cx="1531.9" cy="1267.4" r="10.2"/>
<circle cx="1532.5" cy="1265.2" r="10.2"/>
<circle cx="1533.1" cy="1281.6" r="10.2"/>
<circle cx="1534" cy="1270.4" r="10.2"/>
<circle cx="1534.8" cy="1230.2" r="10.2"/>
<circle cx="1535.3" cy="1287.7" r="10.2"/>
<circle cx="1536.2" cy="1225.5" r="10.2"/>
<circle cx="1536.8" cy="1289.3" r="10.2"/>
<circle cx="1537.8" cy="1267.8" r="10.2"/>
<circle cx="1538.6" cy="1246.5" r="10.2"/>
<circle cx="1539.4" cy="1306.4" r="10.2"/>
<circle cx="1540.2" cy="1308.6" r="10.2"/>
<circle cx="1540.7" cy="1274.8" r="10.2"/>
<circle cx="1541.4" cy="1253.8" r="10.2"/>
<circle cx="1542.3" cy="1243.5" r="10.2"/>
<circle cx="1543" cy="1289.9" r="10.2"/>
<circle cx="1543.9" cy="1310.9" r="10.2"/>
<circle cx="1544.5" cy="1258.2" r="10.2"/>
<circle cx="1544.9" cy="1266.5" r="10.2"/>
<circle cx="1545.5" cy="1277.3" r="10.2"/>
<circle cx="1546" cy="1301.1" r="10.2"/>
<circle cx="1546.5" cy="1305.4" r="10.2"/>
<circle cx="1547.2" cy="1310.5" r="10.2"/>
<circle cx="1547.6" cy="1315" r="10.2"/>
<circle cx="1548.2" cy="1315" r="10.2"/>
<circle cx="1549.1" cy="1315" r="10.2"/>
<circle cx="1549.6" cy="1315" r="10.2"/>
<circle cx="1550.5" cy="1315" r="10.2"/>
<circle cx="1551.1" cy="1301.2" r="10.2"/>
<circle cx="1551.8" cy="1285.6" r="10.2"/>
<circle cx="1552.4" cy="1290" r="10.2"/>
<circle cx="1553.1" cy="1282.6" r="10.2"/>
<circle cx="1553.8" cy="1295.1" r="10.2"/>
<circle cx="1554.3" cy="1315" r="10.2"/>
<circle cx="1555.1" cy="1284.1" r="10.2"/>
<circle cx="1555.8" cy="1298.4" r="10.2"/>
<circle cx="1556.5" cy="1307.7" r="10.2"/>
<circle cx="1557.3" cy="1299.2" r="10.2"/>
<circle cx="1558.2" cy="1304.8" r="10.2"/>
<circle cx="1559.1" cy="1315" r="10.2"/>
<circle cx="1559.7" cy="1298.3" r="10.2"/>
<circle cx="1560.3" cy="1315" r="10.2"/>
<circle cx="1561" cy="1287.2" r="10.2"/>
<circle cx="1561.8" cy="1296.9" r="10.2"/>
<circle cx="1562.7" cy="1271.2" r="10.2"/>
<circle cx="1563.5" cy="1296.4" r="10.2"/>
<circle cx="1564" cy="1315" r="10.2"/>
<circle cx="1564.8" cy="1315" r="10.2"/>
<circle cx="1565.5" cy="1315" r="10.2"/>
<circle cx="1566.1" cy="1315" r="10.2"/>
<circle cx="1566.7" cy="1303.3" r="10.2"/>
<circle cx="1567.5" cy="1315" r="10.2"/>
<circle cx="1568.2" cy="1308.7" r="10.2"/>
<circle cx="1568.6" cy="1285.2" r="10.2"/>
<circle cx="1569.3" cy="1264.9" r="10.2"/>
<circle cx="1570.1" cy="1291.3" r="10.2"/>
<circle cx="1570.9" cy="1279.7" r="10.2"/>
<circle cx="1571.4" cy="1261.4" r="10.2"/>
<circle cx="1572" cy="1253.5" r="10.2"/>
<circle cx="1572.8" cy="1250.7" r="10.2"/>
<circle cx="1573.7" cy="1263.5" r="10.2"/>
<circle cx="1574.4" cy="1275.6" r="10.2"/>
<circle cx="1574.9" cy="1246.5" r="10.2"/>
<circle cx="1575.7" cy="1260.5" r="10.2"/>
<circle cx="1576.2" cy="1276.4" r="10.2"/>
<circle cx="1576.8" cy="1315" r="10.2"/>
<circle cx="1577.7" cy="1288.4" r="10.2"/>
<circle cx="1578.5" cy="1271.6" r="10.2"/>
<circle cx="1579.2" cy="1279.5" r="10.2"/>
<circle cx="1579.9" cy="1265" r="10.2"/>
<circle cx="1580.5" cy="1302.5" r="10.2"/>
<circle cx="1581.3" cy="1266.9" r="10.2"/>
<circle cx="1582.2" cy="1267.3" r="10.2"/>
<circle cx="1582.9" cy="1263.1" r="10.2"/>
<circle cx="1583.5" cy="1253.9" r="10.2"/>
<circle cx="1584.1" cy="1237.8" r="10.2"/>
<circle cx="1584.9" cy="1267.4" r="10.2"/>
<circle cx="1585.6" cy="1232" r="10.2"/>
<circle cx="1586.5" cy="1241.6" r="10.2"/>
<circle cx="1587.3" cy="1246.5" r="10.2"/>
<circle cx="1587.9" cy="1241.7" r="10.2"/>
<circle cx="1592" cy="1243.5" r="10.2"/>
<circle cx="1560.8" cy="1228.5" r="10.2"/>
<circle cx="1582" cy="1223.5" r="10.2"/>
<circle cx="1598.2" cy="1217.2" r="10.2"/>
<circle cx="1584.5" cy="1206" r="10.2"/>
<circle cx="1577" cy="1194.8" r="10.2"/>
<circle cx="1597" cy="1191" r="10.2"/>
<circle cx="1575.8" cy="1184.8" r="10.2"/>
<circle cx="1597" cy="1162.2" r="10.2"/>
<circle cx="1588.2" cy="1148.5" r="10.2"/>
<circle cx="1597" cy="1137.2" r="10.2"/>
<circle cx="1593.2" cy="1099.8" r="10.2"/>
<circle cx="1595" cy="1093.5" r="10.2"/>
<circle cx="1582.8" cy="1088.5" r="10.2"/>
<circle cx="1585.2" cy="1067.8" r="10.2"/>
<circle cx="1595" cy="1046" r="10.2"/>
<circle cx="1582.8" cy="1038.5" r="10.2"/>
<circle cx="1595" cy="1025.2" r="10.2"/>
<circle cx="1582.8" cy="1019.8" r="10.2"/>
<circle cx="1588.6" cy="1246.1" r="10.2"/>
<circle cx="1589.2" cy="1250.3" r="10.2"/>
<circle cx="1589.9" cy="1271.6" r="10.2"/>
<circle cx="1590.7" cy="1278.2" r="10.2"/>
<circle cx="1591.4" cy="1256.6" r="10.2"/>
<circle cx="1591.9" cy="1259.4" r="10.2"/>
<circle cx="1592.5" cy="1296.4" r="10.2"/>
<circle cx="1593.2" cy="1310.9" r="10.2"/>
<circle cx="1593.7" cy="1270.7" r="10.2"/>
<circle cx="1594.3" cy="1292.4" r="10.2"/>
<circle cx="1595.1" cy="1307" r="10.2"/>
<circle cx="1595.9" cy="1315" r="10.2"/>
<circle cx="1596.5" cy="1315" r="10.2"/>
<circle cx="1597.1" cy="1289.3" r="10.2"/>
<circle cx="1597.6" cy="1308.8" r="10.2"/>
<circle cx="1598.2" cy="1301.8" r="10.2"/>
<circle cx="1598.9" cy="1298.3" r="10.2"/>
<circle cx="1599.8" cy="1302.2" r="10.2"/>
<circle cx="1600.6" cy="1270.7" r="10.2"/>
<circle cx="1601.2" cy="1280.4" r="10.2"/>
<circle cx="1602.1" cy="1261.5" r="10.2"/>
<circle cx="1602.7" cy="1284" r="10.2"/>
<circle cx="1603.5" cy="1240.9" r="10.2"/>
<circle cx="1604.2" cy="1265.2" r="10.2"/>
<circle cx="1605" cy="1252.8" r="10.2"/>
<circle cx="1605.5" cy="1263.7" r="10.2"/>
<circle cx="1606.1" cy="1253.6" r="10.2"/>
<circle cx="1606.8" cy="1241.5" r="10.2"/>
<circle cx="1607.3" cy="1231.5" r="10.2"/>
<circle cx="1608.1" cy="1252.5" r="10.2"/>
<circle cx="1608.9" cy="1229.6" r="10.2"/>
<circle cx="1609.4" cy="1227" r="10.2"/>
<circle cx="1610.1" cy="1234.7" r="10.2"/>
<circle cx="1610.7" cy="1246.2" r="10.2"/>
<circle cx="1611.4" cy="1249" r="10.2"/>
<circle cx="1612" cy="1252.1" r="10.2"/>
<circle cx="1612.9" cy="1245.9" r="10.2"/>
<circle cx="1613.5" cy="1279.2" r="10.2"/>
<circle cx="1614.1" cy="1217.2" r="10.2"/>
<circle cx="1615.1" cy="1261.1" r="10.2"/>
<circle cx="1615.6" cy="1308.6" r="10.2"/>
<circle cx="1616.5" cy="1233.2" r="10.2"/>
<circle cx="1617.3" cy="1241.9" r="10.2"/>
<circle cx="1618" cy="1253" r="10.2"/>
<circle cx="1618.7" cy="1229" r="10.2"/>
<circle cx="1619.5" cy="1226.8" r="10.2"/>
<circle cx="1620.3" cy="1209.2" r="10.2"/>
<circle cx="1621" cy="1254.6" r="10.2"/>
<circle cx="1621.7" cy="1237.4" r="10.2"/>
<circle cx="1622.2" cy="1233" r="10.2"/>
<circle cx="1622.9" cy="1211.2" r="10.2"/>
<circle cx="1623.7" cy="1234.4" r="10.2"/>
<circle cx="1624.6" cy="1205" r="10.2"/>
<circle cx="1625.5" cy="1238.2" r="10.2"/>
<circle cx="1626" cy="1262.2" r="10.2"/>
<circle cx="1626.8" cy="1210.5" r="10.2"/>
<circle cx="1627.6" cy="1250.4" r="10.2"/>
<circle cx="1628.5" cy="1248.5" r="10.2"/>
<circle cx="1629.1" cy="1254.2" r="10.2"/>
<circle cx="1629.6" cy="1258.3" r="10.2"/>
<circle cx="1630.2" cy="1254.2" r="10.2"/>
<circle cx="1631" cy="1212.9" r="10.2"/>
<circle cx="1631.6" cy="1209.6" r="10.2"/>
<circle cx="1632.5" cy="1215.9" r="10.2"/>
<circle cx="1633.3" cy="1237.2" r="10.2"/>
<circle cx="1633.8" cy="1205" r="10.2"/>
<circle cx="1634.3" cy="1255.7" r="10.2"/>
<circle cx="1635.1" cy="1243.6" r="10.2"/>
<circle cx="1635.6" cy="1285.8" r="10.2"/>
<circle cx="1636.6" cy="1252.3" r="10.2"/>
<circle cx="1637.2" cy="1224.9" r="10.2"/>
<circle cx="1638" cy="1265.1" r="10.2"/>
<circle cx="1638.5" cy="1239.2" r="10.2"/>
<circle cx="1639.5" cy="1245" r="10.2"/>
<circle cx="1640.1" cy="1218.6" r="10.2"/>
<circle cx="1640.8" cy="1236.5" r="10.2"/>
<circle cx="1641.5" cy="1205" r="10.2"/>
<circle cx="1642.1" cy="1240.1" r="10.2"/>
<circle cx="1642.6" cy="1205" r="10.2"/>
<circle cx="1643.4" cy="1265" r="10.2"/>
<circle cx="1644.3" cy="1248.5" r="10.2"/>
<circle cx="1644.8" cy="1245.3" r="10.2"/>
<circle cx="1645.2" cy="1221.8" r="10.2"/>
<circle cx="1646" cy="1205" r="10.2"/>
<circle cx="1646.9" cy="1254.2" r="10.2"/>
<circle cx="1647.6" cy="1244.1" r="10.2"/>
<circle cx="1648.1" cy="1238.2" r="10.2"/>
<circle cx="1648.7" cy="1275" r="10.2"/>
<circle cx="1660.8" cy="1219.8" r="10.2"/>
<circle cx="1634.5" cy="1218.5" r="10.2"/>
<circle cx="1658.2" cy="1204.8" r="10.2"/>
<circle cx="1629.5" cy="1201" r="10.2"/>
<circle cx="1647" cy="1198.5" r="10.2"/>
<circle cx="1648.2" cy="1173.5" r="10.2"/>
<circle cx="1649.5" cy="1162.2" r="10.2"/>
<circle cx="1651.2" cy="1151" r="10.2"/>
<circle cx="1649.5" cy="1132.2" r="10.2"/>
<circle cx="1649.5" cy="1114.8" r="10.2"/>
<circle cx="1649.5" cy="1272" r="10.2"/>
<circle cx="1650.3" cy="1261.4" r="10.2"/>
<circle cx="1651.2" cy="1255.3" r="10.2"/>
<circle cx="1651.8" cy="1231.9" r="10.2"/>
<circle cx="1652.7" cy="1232.9" r="10.2"/>
<circle cx="1653.3" cy="1229" r="10.2"/>
<circle cx="1654.2" cy="1232.7" r="10.2"/>
<circle cx="1654.8" cy="1205" r="10.2"/>
<circle cx="1655.4" cy="1205" r="10.2"/>
<circle cx="1656.3" cy="1248" r="10.2"/>
<circle cx="1657.2" cy="1218.9" r="10.2"/>
<circle cx="1658.1" cy="1243.9" r="10.2"/>
<circle cx="1658.7" cy="1224.3" r="10.2"/>
<circle cx="1659.3" cy="1243.9" r="10.2"/>
<circle cx="1659.9" cy="1226.1" r="10.2"/>
<circle cx="1660.8" cy="1266.9" r="10.2"/>
<circle cx="1661.5" cy="1242.8" r="10.2"/>
<circle cx="1662.3" cy="1247.9" r="10.2"/>
<circle cx="1663" cy="1224.4" r="10.2"/>
<circle cx="1663.6" cy="1256.6" r="10.2"/>
<circle cx="1664.2" cy="1264.2" r="10.2"/>
<circle cx="1664.7" cy="1230" r="10.2"/>
<circle cx="1665.6" cy="1244.2" r="10.2"/>
<circle cx="1666" cy="1266.3" r="10.2"/>
<circle cx="1666.8" cy="1253.6" r="10.2"/>
<circle cx="1667.5" cy="1267.4" r="10.2"/>
<circle cx="1668.2" cy="1234.8" r="10.2"/>
<circle cx="1669.1" cy="1246.6" r="10.2"/>
<circle cx="1670" cy="1263" r="10.2"/>
<circle cx="1670.9" cy="1215.8" r="10.2"/>
<circle cx="1671.6" cy="1246.1" r="10.2"/>
<circle cx="1672.1" cy="1215" r="10.2"/>
<circle cx="1673.1" cy="1206.8" r="10.2"/>
<circle cx="1673.9" cy="1228.4" r="10.2"/>
<circle cx="1674.4" cy="1246.8" r="10.2"/>
<circle cx="1675.3" cy="1205.7" r="10.2"/>
<circle cx="1676.2" cy="1230.6" r="10.2"/>
<circle cx="1677.1" cy="1277.9" r="10.2"/>
<circle cx="1677.8" cy="1300.2" r="10.2"/>
<circle cx="1678.6" cy="1266.7" r="10.2"/>
<circle cx="1679.3" cy="1269.8" r="10.2"/>
<circle cx="1680" cy="1243.2" r="10.2"/>
<circle cx="1680.7" cy="1238.4" r="10.2"/>
<circle cx="1681.3" cy="1279.2" r="10.2"/>
<circle cx="1681.9" cy="1228.4" r="10.2"/>
<circle cx="1682.5" cy="1208" r="10.2"/>
<circle cx="1683" cy="1205" r="10.2"/>
<circle cx="1683.4" cy="1260.9" r="10.2"/>
<circle cx="1684.4" cy="1216.6" r="10.2"/>
<circle cx="1684.9" cy="1241.7" r="10.2"/>
<circle cx="1685.4" cy="1229.9" r="10.2"/>
<circle cx="1686.1" cy="1217.2" r="10.2"/>
<circle cx="1686.9" cy="1260.6" r="10.2"/>
<circle cx="1687.6" cy="1241" r="10.2"/>
<circle cx="1688.2" cy="1235.3" r="10.2"/>
<circle cx="1688.8" cy="1290.4" r="10.2"/>
<circle cx="1689.6" cy="1249.8" r="10.2"/>
<circle cx="1690.4" cy="1230" r="10.2"/>
<circle cx="1691.3" cy="1249.9" r="10.2"/>
<circle cx="1691.9" cy="1273" r="10.2"/>
<circle cx="1692.3" cy="1277.7" r="10.2"/>
<circle cx="1693.2" cy="1241" r="10.2"/>
<circle cx="1693.7" cy="1257.7" r="10.2"/>
<circle cx="1694.4" cy="1271.1" r="10.2"/>
<circle cx="1695.2" cy="1268.5" r="10.2"/>
<circle cx="1707" cy="1223.5" r="10.2"/>
<circle cx="1697" cy="1197.2" r="10.2"/>
<circle cx="1695.8" cy="1172.2" r="10.2"/>
<circle cx="1695.8" cy="1162.2" r="10.2"/>
<circle cx="1695.8" cy="1141" r="10.2"/>
<circle cx="1696" cy="1262.2" r="10.2"/>
<circle cx="1696.9" cy="1249.2" r="10.2"/>
<circle cx="1697.4" cy="1301.8" r="10.2"/>
<circle cx="1698" cy="1253.3" r="10.2"/>
<circle cx="1698.7" cy="1297.2" r="10.2"/>
<circle cx="1699.6" cy="1295.2" r="10.2"/>
<circle cx="1700.1" cy="1305" r="10.2"/>
<circle cx="1700.7" cy="1305" r="10.2"/>
<circle cx="1701.5" cy="1305" r="10.2"/>
<circle cx="1702.1" cy="1289.4" r="10.2"/>
<circle cx="1702.5" cy="1305" r="10.2"/>
<circle cx="1703.5" cy="1296.8" r="10.2"/>
<circle cx="1704.1" cy="1256.9" r="10.2"/>
<circle cx="1704.7" cy="1274.1" r="10.2"/>
<circle cx="1705.3" cy="1261.9" r="10.2"/>
<circle cx="1706.2" cy="1302.1" r="10.2"/>
<circle cx="1706.9" cy="1265.6" r="10.2"/>
<circle cx="1707.5" cy="1253.2" r="10.2"/>
<circle cx="1708" cy="1277.4" r="10.2"/>
<circle cx="1708.8" cy="1268.3" r="10.2"/>
<circle cx="1709.7" cy="1305" r="10.2"/>
<circle cx="1710.3" cy="1305" r="10.2"/>
<circle cx="1710.8" cy="1290.4" r="10.2"/>
<circle cx="1711.2" cy="1305" r="10.2"/>
<circle cx="1712.1" cy="1305" r="10.2"/>
<circle cx="1713.1" cy="1301.2" r="10.2"/>
<circle cx="1714" cy="1274.6" r="10.2"/>
<circle cx="1714.8" cy="1290.9" r="10.2"/>
<circle cx="1715.8" cy="1305" r="10.2"/>
<circle cx="1716.4" cy="1305" r="10.2"/>
<circle cx="1717.3" cy="1305.4" r="10.2"/>
<circle cx="1717.8" cy="1305.2" r="10.2"/>
<circle cx="1718.5" cy="1304" r="10.2"/>
<circle cx="1719.3" cy="1301.1" r="10.2"/>
<circle cx="1719.8" cy="1269.6" r="10.2"/>
<circle cx="1720.5" cy="1280.3" r="10.2"/>
<circle cx="1721.2" cy="1289" r="10.2"/>
<circle cx="1722.1" cy="1258.8" r="10.2"/>
<circle cx="1723" cy="1288.2" r="10.2"/>
<circle cx="1723.5" cy="1252.3" r="10.2"/>
<circle cx="1724" cy="1282.6" r="10.2"/>
<circle cx="1724.9" cy="1312" r="10.2"/>
<circle cx="1725.8" cy="1290.6" r="10.2"/>
<circle cx="1726.5" cy="1312" r="10.2"/>
<circle cx="1727" cy="1312" r="10.2"/>
<circle cx="1727.4" cy="1306.6" r="10.2"/>
<circle cx="1728" cy="1301.2" r="10.2"/>
<circle cx="1727" cy="1224.8" r="10.2"/>
<circle cx="1739.5" cy="1211" r="10.2"/>
<circle cx="1728.2" cy="1186" r="10.2"/>
<circle cx="1728.2" cy="1142.2" r="10.2"/>
<circle cx="1727" cy="1121" r="10.2"/>
<circle cx="1728.5" cy="1280.2" r="10.2"/>
<circle cx="1729" cy="1257.1" r="10.2"/>
<circle cx="1729.5" cy="1246.8" r="10.2"/>
<circle cx="1730.1" cy="1261.6" r="10.2"/>
<circle cx="1730.8" cy="1262.7" r="10.2"/>
<circle cx="1731.4" cy="1258.5" r="10.2"/>
<circle cx="1732.1" cy="1255" r="10.2"/>
<circle cx="1732.6" cy="1277.2" r="10.2"/>
<circle cx="1733.3" cy="1279.8" r="10.2"/>
<circle cx="1734.2" cy="1252.7" r="10.2"/>
<circle cx="1734.7" cy="1303.1" r="10.2"/>
<circle cx="1735.6" cy="1261.8" r="10.2"/>
<circle cx="1736.3" cy="1268.7" r="10.2"/>
<circle cx="1736.9" cy="1249.8" r="10.2"/>
<circle cx="1737.8" cy="1257.3" r="10.2"/>
<circle cx="1738.4" cy="1294.8" r="10.2"/>
<circle cx="1739" cy="1269.1" r="10.2"/>
<circle cx="1739.8" cy="1272.8" r="10.2"/>
<circle cx="1740.5" cy="1271.5" r="10.2"/>
<circle cx="1741.2" cy="1235.4" r="10.2"/>
<circle cx="1741.7" cy="1265.4" r="10.2"/>
<circle cx="1742.6" cy="1242.2" r="10.2"/>
<circle cx="1743.1" cy="1215.2" r="10.2"/>
<circle cx="1743.9" cy="1209.3" r="10.2"/>
<circle cx="1744.6" cy="1209.4" r="10.2"/>
<circle cx="1745.4" cy="1259.1" r="10.2"/>
<circle cx="1746.2" cy="1235.1" r="10.2"/>
<circle cx="1746.7" cy="1256.1" r="10.2"/>
<circle cx="1747.4" cy="1258.3" r="10.2"/>
<circle cx="1748.3" cy="1262.5" r="10.2"/>
<circle cx="1749.2" cy="1215.3" r="10.2"/>
<circle cx="1749.7" cy="1252.7" r="10.2"/>
<circle cx="1750.5" cy="1271.3" r="10.2"/>
<circle cx="1751" cy="1251.9" r="10.2"/>
<circle cx="1751.6" cy="1209.8" r="10.2"/>
<circle cx="1752.4" cy="1246" r="10.2"/>
<circle cx="1753.1" cy="1212.5" r="10.2"/>
<circle cx="1753.6" cy="1224.9" r="10.2"/>
<circle cx="1754.1" cy="1253.8" r="10.2"/>
<circle cx="1755" cy="1213.3" r="10.2"/>
<circle cx="1755.6" cy="1216.2" r="10.2"/>
<circle cx="1754.5" cy="1222.2" r="10.2"/>
<circle cx="1755.8" cy="1206" r="10.2"/>
<circle cx="1754.5" cy="1193.5" r="10.2"/>
<circle cx="1755.8" cy="1169.8" r="10.2"/>
<circle cx="1753.8" cy="1129.8" r="10.2"/>
<circle cx="1755.8" cy="1109.8" r="10.2"/>
<circle cx="1756.4" cy="1211.8" r="10.2"/>
<circle cx="1756.9" cy="1210.1" r="10.2"/>
<circle cx="1757.8" cy="1210.2" r="10.2"/>
<circle cx="1758.5" cy="1210.2" r="10.2"/>
<circle cx="1759.2" cy="1214.8" r="10.2"/>
<circle cx="1760.2" cy="1218.9" r="10.2"/>
<circle cx="1760.7" cy="1242.9" r="10.2"/>
<circle cx="1761.5" cy="1248.5" r="10.2"/>
<circle cx="1762.1" cy="1237.2" r="10.2"/>
<circle cx="1762.9" cy="1247.8" r="10.2"/>
<circle cx="1763.6" cy="1210.6" r="10.2"/>
<circle cx="1764.2" cy="1216.7" r="10.2"/>
<circle cx="1764.8" cy="1218.5" r="10.2"/>
<circle cx="1765.5" cy="1229.5" r="10.2"/>
<circle cx="1766" cy="1214.4" r="10.2"/>
<circle cx="1766.8" cy="1210.8" r="10.2"/>
<circle cx="1767.4" cy="1228.2" r="10.2"/>
<circle cx="1768.2" cy="1219.5" r="10.2"/>
<circle cx="1768.8" cy="1218.9" r="10.2"/>
<circle cx="1769.3" cy="1231.3" r="10.2"/>
<circle cx="1770" cy="1219.1" r="10.2"/>
<circle cx="1770.5" cy="1213.6" r="10.2"/>
<circle cx="1771.4" cy="1211" r="10.2"/>
<circle cx="1771.8" cy="1226.2" r="10.2"/>
<circle cx="1772.4" cy="1264.7" r="10.2"/>
<circle cx="1772.9" cy="1211.1" r="10.2"/>
<circle cx="1773.5" cy="1211.2" r="10.2"/>
<circle cx="1774.2" cy="1211.2" r="10.2"/>
<circle cx="1774.9" cy="1215.7" r="10.2"/>
<circle cx="1775.8" cy="1211.3" r="10.2"/>
<circle cx="1776.4" cy="1211.3" r="10.2"/>
<circle cx="1776.9" cy="1229.7" r="10.2"/>
<circle cx="1777.7" cy="1227.9" r="10.2"/>
<circle cx="1778.2" cy="1232.5" r="10.2"/>
<circle cx="1778.2" cy="1228.5" r="10.2"/>
<circle cx="1775.8" cy="1173.5" r="10.2"/>
<circle cx="1778.2" cy="1164.8" r="10.2"/>
<circle cx="1775.8" cy="1149" r="10.2"/>
<circle cx="1778.9" cy="1223.1" r="10.2"/>
<circle cx="1779.7" cy="1226.1" r="10.2"/>
<circle cx="1780.5" cy="1233.4" r="10.2"/>
<circle cx="1781.2" cy="1252.1" r="10.2"/>
<circle cx="1781.7" cy="1229.5" r="10.2"/>
<circle cx="1782.2" cy="1236" r="10.2"/>
<circle cx="1782.8" cy="1219.7" r="10.2"/>
<circle cx="1783.8" cy="1244.7" r="10.2"/>
<circle cx="1784.6" cy="1236" r="10.2"/>
<circle cx="1785.1" cy="1271.2" r="10.2"/>
<circle cx="1785.9" cy="1289.6" r="10.2"/>
<circle cx="1786.5" cy="1312" r="10.2"/>
<circle cx="1787" cy="1282.2" r="10.2"/>
<circle cx="1787.9" cy="1256.8" r="10.2"/>
<circle cx="1788.7" cy="1221.4" r="10.2"/>
<circle cx="1789.4" cy="1246.4" r="10.2"/>
<circle cx="1790.3" cy="1254.9" r="10.2"/>
<circle cx="1791.1" cy="1225.2" r="10.2"/>
<circle cx="1791.6" cy="1212.3" r="10.2"/>
<circle cx="1792.2" cy="1232.8" r="10.2"/>
<circle cx="1792.8" cy="1249.5" r="10.2"/>
<circle cx="1793.6" cy="1249.7" r="10.2"/>
<circle cx="1794.1" cy="1242" r="10.2"/>
<circle cx="1793.2" cy="1211" r="10.2"/>
<circle cx="1794.5" cy="1193.5" r="10.2"/>
<circle cx="1794.9" cy="1249.8" r="10.2"/>
<circle cx="1795.7" cy="1257.7" r="10.2"/>
<circle cx="1796.2" cy="1241.7" r="10.2"/>
<circle cx="1796.9" cy="1239" r="10.2"/>
<circle cx="1797.8" cy="1239.9" r="10.2"/>
<circle cx="1798.3" cy="1212.7" r="10.2"/>
<circle cx="1799.2" cy="1243.2" r="10.2"/>
<circle cx="1800" cy="1213.2" r="10.2"/>
<circle cx="1800.8" cy="1212.8" r="10.2"/>
<circle cx="1801.6" cy="1222.5" r="10.2"/>
<circle cx="1802.2" cy="1212.9" r="10.2"/>
<circle cx="1802.8" cy="1213" r="10.2"/>
<circle cx="1803.2" cy="1213" r="10.2"/>
<circle cx="1803.9" cy="1213" r="10.2"/>
<circle cx="1804.4" cy="1213.1" r="10.2"/>
<circle cx="1805.2" cy="1218.1" r="10.2"/>
<circle cx="1805.8" cy="1213.1" r="10.2"/>
<circle cx="1806.5" cy="1213.2" r="10.2"/>
<circle cx="1807.2" cy="1228.1" r="10.2"/>
<circle cx="1807.7" cy="1213.3" r="10.2"/>
<circle cx="1808.3" cy="1266.6" r="10.2"/>
<circle cx="1808.7" cy="1248.7" r="10.2"/>
<circle cx="1809.5" cy="1213.4" r="10.2"/>
<circle cx="1810.1" cy="1213.4" r="10.2"/>
<circle cx="1810.7" cy="1218.6" r="10.2"/>
<circle cx="1811.1" cy="1213.5" r="10.2"/>
<circle cx="1812.1" cy="1213.5" r="10.2"/>
<circle cx="1813" cy="1213.6" r="10.2"/>
<circle cx="1813.7" cy="1213.6" r="10.2"/>
<circle cx="1814.3" cy="1241" r="10.2"/>
<circle cx="1814.7" cy="1234.7" r="10.2"/>
<circle cx="1815.2" cy="1251.7" r="10.2"/>
<circle cx="1815.8" cy="1252.9" r="10.2"/>
<circle cx="1816.6" cy="1249.1" r="10.2"/>
<circle cx="1817.4" cy="1302.1" r="10.2"/>
<circle cx="1818.3" cy="1280.2" r="10.2"/>
<circle cx="1818.8" cy="1282" r="10.2"/>
<circle cx="1819.3" cy="1274.5" r="10.2"/>
<circle cx="1819.8" cy="1269.8" r="10.2"/>
<circle cx="1820.7" cy="1269.7" r="10.2"/>
<circle cx="1821.6" cy="1241.5" r="10.2"/>
<circle cx="1832.2" cy="1238.5" r="10.2"/>
<circle cx="1830.8" cy="1218.5" r="10.2"/>
<circle cx="1810.8" cy="1217.2" r="10.2"/>
<circle cx="1812" cy="1206" r="10.2"/>
<circle cx="1830.8" cy="1206" r="10.2"/>
<circle cx="1820.8" cy="1182.2" r="10.2"/>
<circle cx="1823.2" cy="1168.5" r="10.2"/>
<circle cx="1812" cy="1154.8" r="10.2"/>
<circle cx="1822" cy="1149.8" r="10.2"/>
<circle cx="1822.4" cy="1239.3" r="10.2"/>
<circle cx="1823.2" cy="1251.3" r="10.2"/>
<circle cx="1823.7" cy="1270.4" r="10.2"/>
<circle cx="1824.2" cy="1273.9" r="10.2"/>
<circle cx="1824.8" cy="1287" r="10.2"/>
<circle cx="1825.5" cy="1237.3" r="10.2"/>
<circle cx="1826.4" cy="1256.7" r="10.2"/>
<circle cx="1827.3" cy="1244.9" r="10.2"/>
<circle cx="1828" cy="1244" r="10.2"/>
<circle cx="1828.4" cy="1243.8" r="10.2"/>
<circle cx="1829.1" cy="1276.2" r="10.2"/>
<circle cx="1829.7" cy="1303.3" r="10.2"/>
<circle cx="1830.4" cy="1312" r="10.2"/>
<circle cx="1831.3" cy="1311.5" r="10.2"/>
<circle cx="1831.9" cy="1257.8" r="10.2"/>
<circle cx="1832.8" cy="1269.1" r="10.2"/>
<circle cx="1833.3" cy="1296.4" r="10.2"/>
<circle cx="1833.9" cy="1267.9" r="10.2"/>
<circle cx="1834.6" cy="1264.4" r="10.2"/>
<circle cx="1835.3" cy="1270.1" r="10.2"/>
<circle cx="1835.9" cy="1260.4" r="10.2"/>
<circle cx="1836.9" cy="1256.3" r="10.2"/>
<circle cx="1837.4" cy="1281.1" r="10.2"/>
<circle cx="1837.9" cy="1267.3" r="10.2"/>
<circle cx="1838.5" cy="1276.4" r="10.2"/>
<circle cx="1839.1" cy="1254.6" r="10.2"/>
<circle cx="1839.9" cy="1272.7" r="10.2"/>
<circle cx="1840.4" cy="1286.3" r="10.2"/>
<circle cx="1841.3" cy="1282.6" r="10.2"/>
<circle cx="1842.2" cy="1290.2" r="10.2"/>
<circle cx="1842.2" cy="1272.5" r="10.2"/>
<circle cx="1842.8" cy="1293.6" r="10.2"/>
<circle cx="1843.7" cy="1287.1" r="10.2"/>
<circle cx="1844.5" cy="1295.8" r="10.2"/>
<circle cx="1845.2" cy="1294.9" r="10.2"/>
<circle cx="1846" cy="1287.6" r="10.2"/>
<circle cx="1846.8" cy="1298.1" r="10.2"/>
<circle cx="1847.6" cy="1294" r="10.2"/>
<circle cx="1848" cy="1293.1" r="10.2"/>
<circle cx="1848.5" cy="1293.4" r="10.2"/>
<circle cx="1849.1" cy="1296.4" r="10.2"/>
<circle cx="1849.8" cy="1297.8" r="10.2"/>
<circle cx="1850.4" cy="1294.2" r="10.2"/>
<circle cx="1851.3" cy="1295.3" r="10.2"/>
<circle cx="1851.8" cy="1296.7" r="10.2"/>
<circle cx="1852.4" cy="1297.8" r="10.2"/>
<circle cx="1853.1" cy="1285.1" r="10.2"/>
<circle cx="1853.7" cy="1280.2" r="10.2"/>
<circle cx="1854.2" cy="1282.4" r="10.2"/>
<circle cx="1854.7" cy="1291.1" r="10.2"/>
<circle cx="1855.4" cy="1282.2" r="10.2"/>
<circle cx="1856" cy="1275" r="10.2"/>
<circle cx="1856" cy="1283.5" r="10.2"/>
<circle cx="1856.8" cy="1284.7" r="10.2"/>
<circle cx="1857.6" cy="1280.2" r="10.2"/>
<circle cx="1858" cy="1289" r="10.2"/>
<circle cx="1858.5" cy="1285.9" r="10.2"/>
<circle cx="1859.4" cy="1285.2" r="10.2"/>
<circle cx="1859.9" cy="1280.2" r="10.2"/>
<circle cx="1860.5" cy="1282.5" r="10.2"/>
<circle cx="1861.3" cy="1286.9" r="10.2"/>
<circle cx="1862" cy="1287.5" r="10.2"/>
<circle cx="1862.8" cy="1288.9" r="10.2"/>
<circle cx="1863.3" cy="1287.7" r="10.2"/>
<circle cx="1863.9" cy="1295.8" r="10.2"/>
<circle cx="1864.6" cy="1281.6" r="10.2"/>
<circle cx="1865.5" cy="1289.1" r="10.2"/>
<circle cx="1866.2" cy="1293.8" r="10.2"/>
<circle cx="1866.7" cy="1286.9" r="10.2"/>
<circle cx="1867.2" cy="1288.8" r="10.2"/>
<circle cx="1867.9" cy="1284.7" r="10.2"/>
<circle cx="1868.6" cy="1287.6" r="10.2"/>
<circle cx="1869.2" cy="1287" r="10.2"/>
<circle cx="1869.7" cy="1291.4" r="10.2"/>
<circle cx="1870.2" cy="1287.4" r="10.2"/>
<circle cx="1870.9" cy="1287.3" r="10.2"/>
<circle cx="1871.4" cy="1294.3" r="10.2"/>
<circle cx="1872.1" cy="1289" r="10.2"/>
<circle cx="1872.6" cy="1291.4" r="10.2"/>
<circle cx="1873.3" cy="1288.8" r="10.2"/>
<circle cx="1874.2" cy="1288" r="10.2"/>
<circle cx="1875" cy="1294.5" r="10.2"/>
<circle cx="1875.6" cy="1292.3" r="10.2"/>
<circle cx="1876.5" cy="1288.6" r="10.2"/>
<circle cx="1877.2" cy="1280.5" r="10.2"/>
<circle cx="1877.7" cy="1284.1" r="10.2"/>
<circle cx="1878.6" cy="1287.8" r="10.2"/>
<circle cx="1879.4" cy="1291" r="10.2"/>
<circle cx="1880.2" cy="1282.5" r="10.2"/>
<circle cx="1880.7" cy="1291" r="10.2"/>
<circle cx="1881.2" cy="1294.1" r="10.2"/>
<circle cx="1881.9" cy="1297.8" r="10.2"/>
<circle cx="1882.6" cy="1289" r="10.2"/>
<circle cx="1883.3" cy="1297.1" r="10.2"/>
<circle cx="1883.5" cy="1267.5" r="10.2"/>
<circle cx="1884.2" cy="1296.2" r="10.2"/>
<circle cx="1885" cy="1292.5" r="10.2"/>
<circle cx="1886" cy="1293" r="10.2"/>
<circle cx="1886.6" cy="1297.8" r="10.2"/>
<circle cx="1887.2" cy="1293.1" r="10.2"/>
<circle cx="1888" cy="1298.6" r="10.2"/>
<circle cx="1888.5" cy="1297.5" r="10.2"/>
<circle cx="1889.4" cy="1296.5" r="10.2"/>
<circle cx="1890.2" cy="1298.7" r="10.2"/>
<circle cx="1890.8" cy="1295.3" r="10.2"/>
<circle cx="1891.6" cy="1295.2" r="10.2"/>
<circle cx="1892.5" cy="1289.9" r="10.2"/>
<circle cx="1893" cy="1292.4" r="10.2"/>
<circle cx="1893.9" cy="1291.6" r="10.2"/>
<circle cx="1894.7" cy="1291.1" r="10.2"/>
<circle cx="1895.2" cy="1289.3" r="10.2"/>
<circle cx="1896.1" cy="1283.4" r="10.2"/>
<circle cx="1896.8" cy="1291.5" r="10.2"/>
<circle cx="1897.6" cy="1285.7" r="10.2"/>
<circle cx="1898.2" cy="1291.3" r="10.2"/>
<circle cx="1898.8" cy="1290.6" r="10.2"/>
<circle cx="1899.6" cy="1285.1" r="10.2"/>
<circle cx="1900.4" cy="1280.8" r="10.2"/>
<circle cx="1901.1" cy="1283.7" r="10.2"/>
<circle cx="1901.6" cy="1290" r="10.2"/>
<circle cx="1902.2" cy="1286.8" r="10.2"/>
<circle cx="1903" cy="1286.7" r="10.2"/>
<circle cx="1903.7" cy="1286.2" r="10.2"/>
<circle cx="1904.4" cy="1286.4" r="10.2"/>
<circle cx="1905.1" cy="1284.7" r="10.2"/>
<circle cx="1905.6" cy="1280.9" r="10.2"/>
<circle cx="1906.3" cy="1288.9" r="10.2"/>
<circle cx="1907.2" cy="1296.5" r="10.2"/>
<circle cx="1907.9" cy="1284.7" r="10.2"/>
<circle cx="1908.4" cy="1284.2" r="10.2"/>
<circle cx="1909.2" cy="1291.3" r="10.2"/>
<circle cx="1909.9" cy="1290.6" r="10.2"/>
<circle cx="1910.8" cy="1292.3" r="10.2"/>
<circle cx="1911.7" cy="1295.4" r="10.2"/>
<circle cx="1912.6" cy="1296.2" r="10.2"/>
<circle cx="1913.2" cy="1298.9" r="10.2"/>
<circle cx="1914.1" cy="1290.5" r="10.2"/>
<circle cx="1914.9" cy="1286.8" r="10.2"/>
<circle cx="1915.5" cy="1289" r="10.2"/>
<circle cx="1915.9" cy="1295.2" r="10.2"/>
<circle cx="1916.4" cy="1288.7" r="10.2"/>
<circle cx="1916.9" cy="1296.8" r="10.2"/>
<circle cx="1917.8" cy="1294.3" r="10.2"/>
<circle cx="1918.5" cy="1283.3" r="10.2"/>
<circle cx="1919.4" cy="1281" r="10.2"/>
<circle cx="1919.9" cy="1281.2" r="10.2"/>
<circle cx="1920.7" cy="1288.6" r="10.2"/>
<circle cx="1921.3" cy="1287" r="10.2"/>
<circle cx="1922.1" cy="1285.7" r="10.2"/>
<circle cx="1922.6" cy="1285.7" r="10.2"/>
<circle cx="1923.1" cy="1281.1" r="10.2"/>
<circle cx="1923.7" cy="1290.9" r="10.2"/>
<circle cx="1924.4" cy="1289.2" r="10.2"/>
<circle cx="1925.1" cy="1286.8" r="10.2"/>
<circle cx="1925.8" cy="1290.7" r="10.2"/>
<circle cx="1926.4" cy="1290" r="10.2"/>
<circle cx="1926.9" cy="1292.6" r="10.2"/>
<circle cx="1927.4" cy="1284.6" r="10.2"/>
<circle cx="1928" cy="1285.3" r="10.2"/>
<circle cx="1928.9" cy="1290.7" r="10.2"/>
<circle cx="1929.4" cy="1287.2" r="10.2"/>
<circle cx="1930.1" cy="1287.1" r="10.2"/>
<circle cx="1931" cy="1290.1" r="10.2"/>
<circle cx="1931.5" cy="1295.8" r="10.2"/>
<circle cx="1932.2" cy="1299.2" r="10.2"/>
<circle cx="1933" cy="1289.6" r="10.2"/>
<circle cx="1933.7" cy="1292.9" r="10.2"/>
<circle cx="1934.6" cy="1299.3" r="10.2"/>
<circle cx="1935.4" cy="1293.5" r="10.2"/>
<circle cx="1936.3" cy="1297.6" r="10.2"/>
<circle cx="1936.9" cy="1296.2" r="10.2"/>
<circle cx="1937.8" cy="1296" r="10.2"/>
<circle cx="1938.5" cy="1297.2" r="10.2"/>
<circle cx="1939" cy="1299.3" r="10.2"/>
<circle cx="1939.6" cy="1299.3" r="10.2"/>
<circle cx="1940.2" cy="1294.7" r="10.2"/>
<circle cx="1941.1" cy="1294.4" r="10.2"/>
<circle cx="1942" cy="1284.9" r="10.2"/>
<circle cx="1942.5" cy="1288.7" r="10.2"/>
<circle cx="1943.4" cy="1282.1" r="10.2"/>
<circle cx="1944.1" cy="1281.4" r="10.2"/>
<circle cx="1944.9" cy="1288.9" r="10.2"/>
<circle cx="1945.7" cy="1281.5" r="10.2"/>
<circle cx="1946.3" cy="1290.2" r="10.2"/>
<circle cx="1947.1" cy="1282.6" r="10.2"/>
<circle cx="1947.9" cy="1289.6" r="10.2"/>
<circle cx="1948.9" cy="1286.3" r="10.2"/>
<circle cx="1949.6" cy="1286" r="10.2"/>
<circle cx="1950.5" cy="1284.5" r="10.2"/>
<circle cx="1951.2" cy="1286.6" r="10.2"/>
<circle cx="1951.7" cy="1288.7" r="10.2"/>
<circle cx="1952.4" cy="1282" r="10.2"/>
<circle cx="1953.1" cy="1286.8" r="10.2"/>
<circle cx="1953.6" cy="1281.5" r="10.2"/>
<circle cx="1954.5" cy="1284" r="10.2"/>
<circle cx="1955.2" cy="1281.5" r="10.2"/>
<circle cx="1956.1" cy="1282.9" r="10.2"/>
<circle cx="1956.7" cy="1285.1" r="10.2"/>
<circle cx="1957.3" cy="1282.8" r="10.2"/>
<circle cx="1957.8" cy="1292.4" r="10.2"/>
<circle cx="1958.6" cy="1285.4" r="10.2"/>
<circle cx="1959.1" cy="1281.6" r="10.2"/>
<circle cx="1959.7" cy="1287.7" r="10.2"/>
<circle cx="1960.6" cy="1282.9" r="10.2"/>
<circle cx="1961.1" cy="1288.4" r="10.2"/>
<circle cx="1962" cy="1294.1" r="10.2"/>
<circle cx="1962.9" cy="1288.2" r="10.2"/>
<circle cx="1963.7" cy="1289.7" r="10.2"/>
<circle cx="1964.6" cy="1281.7" r="10.2"/>
<circle cx="1965.2" cy="1286.7" r="10.2"/>
<circle cx="1965.8" cy="1292.6" r="10.2"/>
<circle cx="1966.5" cy="1292.7" r="10.2"/>
<circle cx="1967.1" cy="1293.8" r="10.2"/>
<circle cx="1967.7" cy="1298.3" r="10.2"/>
<circle cx="1968.5" cy="1299.7" r="10.2"/>
<circle cx="1969.1" cy="1299.6" r="10.2"/>
<circle cx="1970" cy="1299.7" r="10.2"/>
<circle cx="1970.5" cy="1299.7" r="10.2"/>
<circle cx="1971" cy="1299.7" r="10.2"/>
<circle cx="1971.7" cy="1295.2" r="10.2"/>
<circle cx="1972.6" cy="1293.9" r="10.2"/>
<circle cx="1973.5" cy="1294.8" r="10.2"/>
<circle cx="1974" cy="1285.9" r="10.2"/>
<circle cx="1974.4" cy="1289.8" r="10.2"/>
<circle cx="1974.9" cy="1290.6" r="10.2"/>
<circle cx="1975.6" cy="1294.7" r="10.2"/>
<circle cx="1976.2" cy="1299.8" r="10.2"/>
<circle cx="1976.9" cy="1299.8" r="10.2"/>
<circle cx="1977.7" cy="1299.6" r="10.2"/>
<circle cx="1978.6" cy="1299.8" r="10.2"/>
<circle cx="1979.2" cy="1298.6" r="10.2"/>
<circle cx="1980.1" cy="1293.7" r="10.2"/>
<circle cx="1980.9" cy="1299.9" r="10.2"/>
<circle cx="1981.6" cy="1299.9" r="10.2"/>
<circle cx="1982.1" cy="1299.9" r="10.2"/>
<circle cx="1982.8" cy="1299.9" r="10.2"/>
<circle cx="1983.3" cy="1299.9" r="10.2"/>
<circle cx="1983.9" cy="1297.9" r="10.2"/>
<circle cx="1984.8" cy="1288.5" r="10.2"/>
<circle cx="1985.2" cy="1294" r="10.2"/>
<circle cx="1985.7" cy="1282.2" r="10.2"/>
<circle cx="1986.6" cy="1293.2" r="10.2"/>
<circle cx="1987.3" cy="1295.7" r="10.2"/>
<circle cx="1988" cy="1290.8" r="10.2"/>
<circle cx="1988.8" cy="1287.9" r="10.2"/>
<circle cx="1989.4" cy="1289.5" r="10.2"/>
<circle cx="1989.9" cy="1299.1" r="10.2"/>
<circle cx="1990.6" cy="1293.1" r="10.2"/>
<circle cx="1991.3" cy="1300" r="10.2"/>
<circle cx="1992" cy="1297.5" r="10.2"/>
<circle cx="1992.7" cy="1299.5" r="10.2"/>
<circle cx="1993.4" cy="1300" r="10.2"/>
<circle cx="1993.8" cy="1300" r="10.2"/>
<circle cx="1994.7" cy="1297.6" r="10.2"/>
<circle cx="1995.7" cy="1293.5" r="10.2"/>
<circle cx="1996.4" cy="1289.5" r="10.2"/>
<circle cx="1997.2" cy="1293.9" r="10.2"/>
<circle cx="1997.7" cy="1291.9" r="10.2"/>
<circle cx="1998.3" cy="1296.1" r="10.2"/>
<circle cx="1999.1" cy="1295" r="10.2"/>
<circle cx="2003.5" cy="1272.5" r="10.2"/>
<circle cx="2001" cy="1258.5" r="10.2"/>
<circle cx="2001" cy="1251" r="10.2"/>
<circle cx="1998.5" cy="1219.8" r="10.2"/>
<circle cx="1999.8" cy="1196" r="10.2"/>
<circle cx="1997.8" cy="1172.2" r="10.2"/>
<circle cx="1997.8" cy="1129.8" r="10.2"/>
<circle cx="1999.9" cy="1285.3" r="10.2"/>
<circle cx="2000.7" cy="1286.3" r="10.2"/>
<circle cx="2001.4" cy="1284.9" r="10.2"/>
<circle cx="2002.1" cy="1292.2" r="10.2"/>
<circle cx="2002.8" cy="1292.1" r="10.2"/>
<circle cx="2003.5" cy="1288.3" r="10.2"/>
<circle cx="2004" cy="1294.1" r="10.2"/>
<circle cx="2004.9" cy="1289.9" r="10.2"/>
<circle cx="2005.8" cy="1290.3" r="10.2"/>
<circle cx="2006.3" cy="1295" r="10.2"/>
<circle cx="2007" cy="1289.9" r="10.2"/>
<circle cx="2007.5" cy="1292.8" r="10.2"/>
<circle cx="2008.2" cy="1297.8" r="10.2"/>
<circle cx="2009" cy="1296.6" r="10.2"/>
<circle cx="2009.6" cy="1298.3" r="10.2"/>
<circle cx="2010.5" cy="1293.1" r="10.2"/>
<circle cx="2011.2" cy="1287.7" r="10.2"/>
<circle cx="2011.8" cy="1294.1" r="10.2"/>
<circle cx="2012.6" cy="1294.7" r="10.2"/>
<circle cx="2013.1" cy="1293.5" r="10.2"/>
<circle cx="2014" cy="1291.1" r="10.2"/>
<circle cx="2014.5" cy="1293.8" r="10.2"/>
<circle cx="2015.1" cy="1288.6" r="10.2"/>
<circle cx="2015.6" cy="1287.7" r="10.2"/>
<circle cx="2016.4" cy="1285.4" r="10.2"/>
<circle cx="2016.9" cy="1288.6" r="10.2"/>
<circle cx="2017.5" cy="1290.7" r="10.2"/>
<circle cx="2018.1" cy="1290.5" r="10.2"/>
<circle cx="2018.7" cy="1290.9" r="10.2"/>
<circle cx="2019.2" cy="1292.8" r="10.2"/>
<circle cx="2019.8" cy="1282.2" r="10.2"/>
<circle cx="2020.4" cy="1289.2" r="10.2"/>
<circle cx="2021.2" cy="1287.5" r="10.2"/>
<circle cx="2021.7" cy="1289.1" r="10.2"/>
<circle cx="2022.3" cy="1281.7" r="10.2"/>
<circle cx="2023" cy="1286.5" r="10.2"/>
<circle cx="2023.9" cy="1287.9" r="10.2"/>
<circle cx="2024.4" cy="1281.7" r="10.2"/>
<circle cx="2024.9" cy="1282.5" r="10.2"/>
<circle cx="2025.5" cy="1284.7" r="10.2"/>
<circle cx="2026.3" cy="1282.4" r="10.2"/>
<circle cx="2027.2" cy="1284.8" r="10.2"/>
<circle cx="2028.1" cy="1286.5" r="10.2"/>
<circle cx="2028.7" cy="1281.6" r="10.2"/>
<circle cx="2029.5" cy="1287.1" r="10.2"/>
<circle cx="2030.2" cy="1281.6" r="10.2"/>
<circle cx="2030.9" cy="1287.2" r="10.2"/>
<circle cx="2031.8" cy="1285.5" r="10.2"/>
<circle cx="2032.3" cy="1291.1" r="10.2"/>
<circle cx="2033.2" cy="1291.2" r="10.2"/>
<circle cx="2033.9" cy="1294.7" r="10.2"/>
<circle cx="2034.6" cy="1294.5" r="10.2"/>
<circle cx="2035.2" cy="1299.6" r="10.2"/>
<circle cx="2036.1" cy="1298" r="10.2"/>
<circle cx="2036.8" cy="1294.2" r="10.2"/>
<circle cx="2037.8" cy="1291.5" r="10.2"/>
<circle cx="2038.5" cy="1293.1" r="10.2"/>
<circle cx="2039" cy="1298.2" r="10.2"/>
<circle cx="2039.6" cy="1294.7" r="10.2"/>
<circle cx="2040" cy="1289.5" r="10.2"/>
<circle cx="2041" cy="1292.9" r="10.2"/>
<circle cx="2041.7" cy="1291.7" r="10.2"/>
<circle cx="2042.6" cy="1290.4" r="10.2"/>
<circle cx="2043.2" cy="1298" r="10.2"/>
<circle cx="2043.7" cy="1281.5" r="10.2"/>
<circle cx="2044.2" cy="1287.8" r="10.2"/>
<circle cx="2044.9" cy="1293" r="10.2"/>
<circle cx="2045.4" cy="1288" r="10.2"/>
<circle cx="2046.3" cy="1293" r="10.2"/>
<circle cx="2046.8" cy="1296.1" r="10.2"/>
<circle cx="2047.4" cy="1296" r="10.2"/>
<circle cx="2048.1" cy="1294.2" r="10.2"/>
<circle cx="2048.7" cy="1298.3" r="10.2"/>
<circle cx="2049.6" cy="1296.7" r="10.2"/>
<circle cx="2050.2" cy="1293.6" r="10.2"/>
<circle cx="2050.8" cy="1293.2" r="10.2"/>
<circle cx="2051.2" cy="1286" r="10.2"/>
<circle cx="2051.7" cy="1288.5" r="10.2"/>
<circle cx="2052.6" cy="1291" r="10.2"/>
<circle cx="2053.2" cy="1291.3" r="10.2"/>
<circle cx="2053.7" cy="1291.7" r="10.2"/>
<circle cx="2054.2" cy="1296" r="10.2"/>
<circle cx="2054.7" cy="1295.6" r="10.2"/>
<circle cx="2055.6" cy="1290" r="10.2"/>
<circle cx="2056.1" cy="1295.6" r="10.2"/>
<circle cx="2056.8" cy="1291.9" r="10.2"/>
<circle cx="2057.6" cy="1291" r="10.2"/>
<circle cx="2058.3" cy="1290.3" r="10.2"/>
<circle cx="2059.2" cy="1289.8" r="10.2"/>
<circle cx="2059.7" cy="1289.4" r="10.2"/>
<circle cx="2060.6" cy="1287.3" r="10.2"/>
<circle cx="2061.1" cy="1281.3" r="10.2"/>
<circle cx="2062" cy="1283.3" r="10.2"/>
<circle cx="2062.9" cy="1285.1" r="10.2"/>
<circle cx="2063.4" cy="1281.3" r="10.2"/>
<circle cx="2064" cy="1285.9" r="10.2"/>
<circle cx="2064.9" cy="1283.2" r="10.2"/>
<circle cx="2065.5" cy="1281.3" r="10.2"/>
<circle cx="2066.1" cy="1284.5" r="10.2"/>
<circle cx="2066.9" cy="1289" r="10.2"/>
<circle cx="2067.4" cy="1291.7" r="10.2"/>
<circle cx="2067.9" cy="1287.8" r="10.2"/>
<circle cx="2068.7" cy="1291.7" r="10.2"/>
<circle cx="2069.3" cy="1288.9" r="10.2"/>
<circle cx="2070" cy="1286.6" r="10.2"/>
<circle cx="2070.7" cy="1286" r="10.2"/>
<circle cx="2069.8" cy="1267.5" r="10.2"/>
<circle cx="2071" cy="1251" r="10.2"/>
<circle cx="2071.8" cy="1234.8" r="10.2"/>
<circle cx="2071.3" cy="1281.2" r="10.2"/>
<circle cx="2072" cy="1282.7" r="10.2"/>
<circle cx="2072.6" cy="1281.2" r="10.2"/>
<circle cx="2073.4" cy="1284.7" r="10.2"/>
<circle cx="2074.1" cy="1284.7" r="10.2"/>
<circle cx="2074.9" cy="1281.2" r="10.2"/>
<circle cx="2075.4" cy="1281.2" r="10.2"/>
<circle cx="2075.9" cy="1285.6" r="10.2"/>
<circle cx="2076.6" cy="1281.2" r="10.2"/>
<circle cx="2077.2" cy="1282.5" r="10.2"/>
<circle cx="2078.2" cy="1281.2" r="10.2"/>
<circle cx="2079.1" cy="1281.2" r="10.2"/>
<circle cx="2080" cy="1281.2" r="10.2"/>
<circle cx="2080.9" cy="1281.2" r="10.2"/>
<circle cx="2081.7" cy="1281.1" r="10.2"/>
<circle cx="2082.4" cy="1281.1" r="10.2"/>
<circle cx="2083.3" cy="1281.6" r="10.2"/>
<circle cx="2084.2" cy="1281.1" r="10.2"/>
<circle cx="2084.7" cy="1285.6" r="10.2"/>
<circle cx="2085.5" cy="1281.1" r="10.2"/>
<circle cx="2086.4" cy="1287.3" r="10.2"/>
<circle cx="2087.1" cy="1281.1" r="10.2"/>
<circle cx="2087.9" cy="1281.1" r="10.2"/>
<circle cx="2088.4" cy="1285.2" r="10.2"/>
<circle cx="2089.3" cy="1281.1" r="10.2"/>
<circle cx="2090.1" cy="1281.1" r="10.2"/>
<circle cx="2090.5" cy="1281.1" r="10.2"/>
<circle cx="2091.3" cy="1281.1" r="10.2"/>
<circle cx="2092.2" cy="1281" r="10.2"/>
<circle cx="2092.8" cy="1287.8" r="10.2"/>
<circle cx="2093.6" cy="1287.7" r="10.2"/>
<circle cx="2094.5" cy="1283.8" r="10.2"/>
<circle cx="2094.9" cy="1289.9" r="10.2"/>
<circle cx="2095.5" cy="1286.5" r="10.2"/>
<circle cx="2096.1" cy="1291" r="10.2"/>
<circle cx="2097" cy="1283.4" r="10.2"/>
<circle cx="2097.6" cy="1291.2" r="10.2"/>
<circle cx="2098.3" cy="1294.3" r="10.2"/>
<circle cx="2099.1" cy="1288.8" r="10.2"/>
<circle cx="2099.8" cy="1290.4" r="10.2"/>
<circle cx="2100.4" cy="1292.8" r="10.2"/>
<circle cx="2101.3" cy="1289.6" r="10.2"/>
<circle cx="2102.1" cy="1289.5" r="10.2"/>
<circle cx="2102.7" cy="1294.4" r="10.2"/>
<circle cx="2103.3" cy="1290.7" r="10.2"/>
<circle cx="2104.2" cy="1291.1" r="10.2"/>
<circle cx="2105" cy="1293.6" r="10.2"/>
<circle cx="2105.9" cy="1286.5" r="10.2"/>
<circle cx="2106.8" cy="1291" r="10.2"/>
<circle cx="2107.7" cy="1288.2" r="10.2"/>
<circle cx="2108.2" cy="1291.2" r="10.2"/>
<circle cx="2108.7" cy="1290.4" r="10.2"/>
<circle cx="2109.6" cy="1290.1" r="10.2"/>
<circle cx="2110.4" cy="1291.6" r="10.2"/>
<circle cx="2111.2" cy="1286.9" r="10.2"/>
<circle cx="2111.8" cy="1292.4" r="10.2"/>
<circle cx="2112.5" cy="1292.3" r="10.2"/>
<circle cx="2113.4" cy="1290.4" r="10.2"/>
<circle cx="2114.2" cy="1286.3" r="10.2"/>
<circle cx="2115" cy="1282.3" r="10.2"/>
<circle cx="2116" cy="1280.8" r="10.2"/>
<circle cx="2116.6" cy="1280.8" r="10.2"/>
<circle cx="2117.1" cy="1280.8" r="10.2"/>
<circle cx="2117.9" cy="1280.8" r="10.2"/>
<circle cx="2118.4" cy="1284.3" r="10.2"/>
<circle cx="2118.8" cy="1285.1" r="10.2"/>
<circle cx="2119.3" cy="1280.8" r="10.2"/>
<circle cx="2119.8" cy="1280.8" r="10.2"/>
<circle cx="2120.5" cy="1280.8" r="10.2"/>
<circle cx="2121.1" cy="1280.8" r="10.2"/>
<circle cx="2121.6" cy="1281.1" r="10.2"/>
<circle cx="2122.1" cy="1285" r="10.2"/>
<circle cx="2134.8" cy="1265" r="10.2"/>
<circle cx="2111" cy="1265" r="10.2"/>
<circle cx="2113.5" cy="1250" r="10.2"/>
<circle cx="2133.5" cy="1248.5" r="10.2"/>
<circle cx="2118.5" cy="1238.5" r="10.2"/>
<circle cx="2116" cy="1235" r="10.2"/>
<circle cx="2132.2" cy="1221" r="10.2"/>
<circle cx="2131" cy="1213.5" r="10.2"/>
<circle cx="2122.2" cy="1208.5" r="10.2"/>
<circle cx="2119.8" cy="1179.8" r="10.2"/>
<circle cx="2122.2" cy="1174.2" r="10.2"/>
<circle cx="2122.2" cy="1135.5" r="10.2"/>
<circle cx="2118.5" cy="1122.2" r="10.2"/>
<circle cx="2120.5" cy="1104.2" r="10.2"/>
<circle cx="2123.1" cy="1282.6" r="10.2"/>
<circle cx="2124" cy="1282.5" r="10.2"/>
<circle cx="2124.8" cy="1280.7" r="10.2"/>
<circle cx="2125.4" cy="1280.7" r="10.2"/>
<circle cx="2125.9" cy="1280.7" r="10.2"/>
<circle cx="2126.7" cy="1282.5" r="10.2"/>
<circle cx="2127.6" cy="1280.7" r="10.2"/>
<circle cx="2128.1" cy="1280.7" r="10.2"/>
<circle cx="2129.1" cy="1280.7" r="10.2"/>
<circle cx="2129.5" cy="1280.7" r="10.2"/>
<circle cx="2130.2" cy="1284.3" r="10.2"/>
<circle cx="2130.9" cy="1280.7" r="10.2"/>
<circle cx="2131.5" cy="1281.2" r="10.2"/>
<circle cx="2132.1" cy="1280.7" r="10.2"/>
<circle cx="2132.5" cy="1280.7" r="10.2"/>
<circle cx="2133.1" cy="1280.7" r="10.2"/>
<circle cx="2134" cy="1280.7" r="10.2"/>
<circle cx="2134.9" cy="1280.7" r="10.2"/>
<circle cx="2135.4" cy="1283.7" r="10.2"/>
<circle cx="2136.1" cy="1281.3" r="10.2"/>
<circle cx="2136.9" cy="1284.2" r="10.2"/>
<circle cx="2137.4" cy="1287.2" r="10.2"/>
<circle cx="2138.3" cy="1288.5" r="10.2"/>
<circle cx="2139.3" cy="1284.7" r="10.2"/>
<circle cx="2139.8" cy="1285.3" r="10.2"/>
<circle cx="2140.4" cy="1280.6" r="10.2"/>
<circle cx="2141.2" cy="1282.7" r="10.2"/>
<circle cx="2141.7" cy="1296.8" r="10.2"/>
<circle cx="2142.3" cy="1292.1" r="10.2"/>
<circle cx="2142.9" cy="1285.5" r="10.2"/>
<circle cx="2143.5" cy="1281.3" r="10.2"/>
<circle cx="2144.2" cy="1292" r="10.2"/>
<circle cx="2145.1" cy="1290.7" r="10.2"/>
<circle cx="2145.7" cy="1280.6" r="10.2"/>
<circle cx="2146.4" cy="1282.8" r="10.2"/>
<circle cx="2147.2" cy="1288.8" r="10.2"/>
<circle cx="2148" cy="1284.9" r="10.2"/>
<circle cx="2148.6" cy="1280.5" r="10.2"/>
<circle cx="2149.4" cy="1281.3" r="10.2"/>
<circle cx="2149.9" cy="1282.6" r="10.2"/>
<circle cx="2150.4" cy="1280.5" r="10.2"/>
<circle cx="2150.9" cy="1284.1" r="10.2"/>
<circle cx="2151.8" cy="1286.8" r="10.2"/>
<circle cx="2152.6" cy="1292.6" r="10.2"/>
<circle cx="2153.1" cy="1282.3" r="10.2"/>
<circle cx="2153.8" cy="1285.3" r="10.2"/>
<circle cx="2154.6" cy="1288.4" r="10.2"/>
<circle cx="2155.1" cy="1288.6" r="10.2"/>
<circle cx="2155.7" cy="1286.1" r="10.2"/>
<circle cx="2156.5" cy="1289.1" r="10.2"/>
<circle cx="2157.4" cy="1291.6" r="10.2"/>
<circle cx="2158.1" cy="1297.4" r="10.2"/>
<circle cx="2158.9" cy="1297.9" r="10.2"/>
<circle cx="2159.7" cy="1294.7" r="10.2"/>
<circle cx="2160.6" cy="1298.3" r="10.2"/>
<circle cx="2161.2" cy="1292.7" r="10.2"/>
<circle cx="2162" cy="1298.4" r="10.2"/>
<circle cx="2162.7" cy="1298.4" r="10.2"/>
<circle cx="2163.3" cy="1291" r="10.2"/>
<circle cx="2163.8" cy="1293.5" r="10.2"/>
<circle cx="2164.6" cy="1296.1" r="10.2"/>
<circle cx="2165.1" cy="1298.4" r="10.2"/>
<circle cx="2165.7" cy="1292.1" r="10.2"/>
<circle cx="2166.3" cy="1295.3" r="10.2"/>
<circle cx="2166.9" cy="1294.4" r="10.2"/>
<circle cx="2167.7" cy="1293" r="10.2"/>
<circle cx="2168.2" cy="1292.1" r="10.2"/>
<circle cx="2168.7" cy="1289.4" r="10.2"/>
<circle cx="2169.6" cy="1294.1" r="10.2"/>
<circle cx="2170.5" cy="1294.8" r="10.2"/>
<circle cx="2171.4" cy="1294.3" r="10.2"/>
<circle cx="2172.1" cy="1290.5" r="10.2"/>
<circle cx="2172.6" cy="1287" r="10.2"/>
<circle cx="2173.1" cy="1298.3" r="10.2"/>
<circle cx="2174" cy="1293.8" r="10.2"/>
<circle cx="2174.8" cy="1283.8" r="10.2"/>
<circle cx="2175.5" cy="1286.7" r="10.2"/>
<circle cx="2176.1" cy="1287.8" r="10.2"/>
<circle cx="2176.9" cy="1286.7" r="10.2"/>
<circle cx="2177.4" cy="1283.5" r="10.2"/>
<circle cx="2178.2" cy="1282.1" r="10.2"/>
<circle cx="2178.9" cy="1292.4" r="10.2"/>
<circle cx="2179.4" cy="1286.1" r="10.2"/>
<circle cx="2180.3" cy="1288" r="10.2"/>
<circle cx="2180.9" cy="1287.3" r="10.2"/>
<circle cx="2181.3" cy="1286.2" r="10.2"/>
<circle cx="2182" cy="1289.5" r="10.2"/>
<circle cx="2182.6" cy="1289.5" r="10.2"/>
<circle cx="2183.3" cy="1286.1" r="10.2"/>
<circle cx="2184" cy="1287.2" r="10.2"/>
<circle cx="2184.9" cy="1283.8" r="10.2"/>
<circle cx="2185.4" cy="1284.7" r="10.2"/>
<circle cx="2186" cy="1293.8" r="10.2"/>
<circle cx="2186.9" cy="1280.2" r="10.2"/>
<circle cx="2187.6" cy="1283.8" r="10.2"/>
<circle cx="2188.5" cy="1288.5" r="10.2"/>
<circle cx="2189.3" cy="1297.7" r="10.2"/>
<circle cx="2190.2" cy="1286.8" r="10.2"/>
<circle cx="2191.1" cy="1293.4" r="10.2"/>
<circle cx="2191.9" cy="1296.5" r="10.2"/>
<circle cx="2192.8" cy="1298.1" r="10.2"/>
<circle cx="2193.5" cy="1290.8" r="10.2"/>
<circle cx="2194.4" cy="1285.1" r="10.2"/>
<circle cx="2194.8" cy="1286.7" r="10.2"/>
<circle cx="2195.4" cy="1291.6" r="10.2"/>
<circle cx="2196" cy="1287.8" r="10.2"/>
<circle cx="2196.8" cy="1280.5" r="10.2"/>
<circle cx="2197.4" cy="1287.9" r="10.2"/>
<circle cx="2198.2" cy="1292.9" r="10.2"/>
<circle cx="2199.1" cy="1283.8" r="10.2"/>
<circle cx="2199.7" cy="1287.6" r="10.2"/>
<circle cx="2200.4" cy="1284.7" r="10.2"/>
<circle cx="2201.1" cy="1292.2" r="10.2"/>
<circle cx="2201.7" cy="1288.9" r="10.2"/>
<circle cx="2202.2" cy="1260" r="10.2"/>
<circle cx="2202.5" cy="1293.9" r="10.2"/>
<circle cx="2203.4" cy="1297.9" r="10.2"/>
<circle cx="2203.9" cy="1293" r="10.2"/>
<circle cx="2204.5" cy="1298" r="10.2"/>
<circle cx="2205.1" cy="1297.6" r="10.2"/>
<circle cx="2205.8" cy="1298" r="10.2"/>
</g>
<g stroke="#000" stroke-width="4">
<path d="M350 97V523.5M327 97h46M327 523.5h46" fill="none"/>
<path d="M909.2 448.5V758M886.2 448.5h46M886.2 758h46" fill="none"/>
<path d="M1232.2 1255V1290M1209.2 1255h46M1209.2 1290h46" fill="none"/>
<path d="M1420 1280V1314M1397 1280h46M1397 1314h46" fill="none"/>
<path d="M1997.8 1107.8V1196M1974.8 1107.8h46M1974.8 1196h46" fill="none"/>
<circle cx="350" cy="311.2" r="20.8" fill="#f0f"/>
<circle cx="909.2" cy="604.2" r="20.8" fill="#f0f"/>
<circle cx="1232.2" cy="1272.5" r="20.8" fill="#f0f"/>
<circle cx="1420" cy="1297" r="20.8" fill="#f0f"/>
<circle cx="1997.8" cy="1151.8" r="20.8" fill="#f0f"/>
</g>
<path d="M317 1371.6L317 1341L318.8 1317.5L326 1285L327.3 1221L329.6 1200L329.9 1155L334.6 1140L334.8 937L336.6 920L337.8 142L338.2 142L338.8 400L339.6 1320L341.5 1335L345 1347.5L376 1349L382.5 1360L386 1360L387.5 1340L388.5 1200L389.2 956.5L390 1150L391 1250L392.5 1280L395 1297.5L400 1306L407.5 1311L440 1314L458.8 1322.5L461.2 1315.9L461.8 1273.2L462 1272.5L463 1272.5L463.8 1309.3L465 1306L477.5 1312.5L515 1317.5L556 1320.1L556.2 1309.2L556.5 1308.8L557.5 1308.8L558 1320.2L602.5 1322.5L610 1323.2L610.5 1285.6L610.8 1285L611.8 1285L612.5 1323.5L615 1323.8L617.8 1323.1L618 1311.4L618.2 1311L619.2 1311L619.8 1322.7L627.5 1321L665 1325L682.8 1325.9L683 1316.4L683.2 1316L684.2 1316L684.8 1326.2L689.8 1327.5L690.5 1261.8L690.8 1261L691.8 1261L692.8 1328.2L696 1329L696.8 1288.1L697 1287.5L698 1287.5L698.8 1325.9L699 1329.8L699.8 1329.9L700.8 1253.8L702 893L703 893L703.2 896.3L704 1199.3L705 1317.2L706.2 1314L712 1320L713.5 1320.2L714.2 1249.8L714.5 1249L715.5 1249L716.5 1320.6L718.8 1320.9L719.2 1298L719.5 1297.5L720.5 1297.5L721.2 1321.2L723.5 1321.5L724.2 1246.8L725 1027.4L725.2 1025L726.2 1025L727.2 1246.8L728 1322.1L731.2 1322.5L740 1326L744 1326L749.9 1264.1L754.5 1311.6L757.8 1287.2L760.5 1307.4L761.2 1060L761.5 1243.9L762 1317.3L762.5 1312.8L762.8 1295.9L763 1230.4L763.5 822.5L764.5 822.5L765.2 1288L765.5 1285.5L766 1289.6L766.2 1269.7L766.6 1070L767 1286.9L767.2 1300.9L767.8 1305.4L768.4 1056L769 1313.8L769.8 952.2L770.8 952.2L771.2 1260.6L771.5 1313.8L771.8 1325.6L772 1325.5L772.6 1060L773.2 1311.8L774.2 1297.4L774.8 1075L775.2 1283L776 1272.2L776.8 759.2L777.8 759.2L778.5 1282.2L779.2 1293L779.8 1080L780.2 1302.8L781.5 1325.3L782.2 1120L782.8 1325.3L783.5 1325.2L788.2 1304.6L792 1320.6L797.2 1293.9L798.5 1056L799.5 1056L799.8 1058.2L801 1310.3L804 1324.5L810.3 1278.8L811.5 915.4L811.8 912.2L812.9 912.2L813.8 1206.2L814.5 1309.7L815.5 1316.4L817.9 1306.5L821.8 1322.3L826.5 1262.1L831.6 1327.5L835.9 1327.5L841.5 1265.9L844.8 1300.8L845 1300L846.2 1148.5L847.2 1148.5L847.5 1150L848.2 1282.8L851.2 1286.2L854.9 1277.3L856.2 1280.7L856.5 1274.7L857.2 1133.1L858.5 402.5L859.5 402.5L859.8 409.2L860.5 1022.7L861.5 1272.6L862.7 1258.6L867.5 1316.9L867.5 1330.5L868.5 1332.5L868.8 1331.9L869 1318.2L870.2 1069.3L870.5 1067.2L871.5 1067.2L872.5 1262L873.2 1331.9L873.5 1335.6L874.1 1335.2L874.2 1331.5L878.3 1312.9L882 1330.2L882.2 1330.8L884 1332L885 1254.2L886.2 894.8L887.2 894.8L887.5 898L888.5 1254.2L889 1309.5L889.8 1335.8L890.2 1336L894.6 1312.5L899.1 1336L907.8 1336L908 1335.1L909.2 1223.5L910.2 1223.5L910.5 1224.5L911.5 1328.3L914.3 1311.1L918.5 1336L919.8 1336L920.2 1311.4L920.5 1311L921.5 1311L922.2 1336L927.3 1336L930.5 1329.3L931.5 1229.5L931.7 1228.5L932.8 1228.5L934 1331.7L936 1336L942.4 1336L944.8 1331.5L945.2 1306.6L946 1192.2L946.2 1191L947.2 1191L948.8 1335.2L949.2 1336L958.2 1336L959.8 1330.7L960.2 1303L960.5 1302.5L961.7 1302.5L962.2 1325.9L965.1 1336L967 1336L967.5 1323.6L968 1281L969.2 1003.5L970.2 1003.5L970.5 1006L971.2 1239.1L972.2 1334.8L972.5 1336L974.3 1336L978.5 1306L982.8 1336L984.8 1336L985.5 1323.8L986.5 1323.8L986.8 1324.1L987.2 1336L994.5 1336L999.1 1319.3L1003.8 1336L1009.2 1336L1009.5 1334.4L1012.5 1325.6L1013.6 1269.3L1014.2 1144.3L1015.5 448L1016.5 448L1016.8 454.4L1017.8 1144.3L1018.5 1279.2L1019.5 1330.9L1021 1330L1027.1 1334.1L1031.7 1316.4L1032 1316.9L1033 1219.8L1034 1219.8L1034.2 1220.8L1035 1316.9L1035.2 1330.4L1036 1333.1L1050.5 1329.5L1050.5 1328.4L1054.7 1316.9L1058.8 1327.2L1066 1318L1070 1300L1073 1270L1075 1180L1077.2 1110L1079.5 1125L1081 1132L1083 1106L1085.5 1028L1089.2 856L1090 700L1091 20L1093 20L1093.5 327L1095.5 700L1097.8 856L1098 951L1100 1106L1101.5 1131L1104 1230L1108 1248L1111 1252.5L1116 1230L1117.5 1230.6L1118.2 1143L1119.5 875.6L1119.8 874.8L1121 875L1123.2 1134.2L1124.5 1233.4L1128.5 1235L1132.2 1335L1140 1180L1141.2 1201.6L1141.5 1177.3L1143 265L1144 265L1144.2 272.6L1145.5 1177.3L1146.2 1284.3L1147.2 1305L1150 1200L1153.2 1129.8L1154.5 510L1155.5 510L1155.8 515.9L1156.8 1126.2L1158 1125L1160.8 1147.9L1161.2 1022.4L1161.5 1020L1162.5 1020L1162.8 1022.4L1163 1082.3L1163.2 1012.5L1163.5 1010L1164.5 1010L1164.8 1012.5L1165.2 885.6L1165.5 882.2L1166.5 882.2L1167.5 1163.6L1167.8 1164.2L1168.2 1002.6L1168.5 1000L1169.5 1000L1169.8 1002.6L1170.5 1170.8L1171.2 981.2L1171.5 978.5L1172.5 978.5L1172.8 981.2L1173.8 1274.8L1174.8 1320L1180.8 1317.3L1181.8 1252.5L1182.8 1252.5L1183 1253.3L1183.8 1316L1186 1315L1187.5 1311.5L1187.8 1310L1188.8 1150L1189.5 760.2L1189.8 756L1190.8 756L1191.8 1150L1192.5 1291.4L1192.8 1299.2L1193.5 1297.5L1196.8 1294.2L1197.8 1124L1198 1122.2L1199 1122.2L1200.2 1290.8L1201 1290L1206 1348.8L1208.5 1347.2L1208.8 1345.4L1209.5 1318.1L1210.2 1223.8L1211.2 961L1212.2 961L1212.5 963.8L1213.5 1270.5L1214 1318.1L1214.8 1343.3L1216 1342.5L1236 1342.5L1236.8 1342.1L1238 1272.5L1239 1272.5L1239.2 1273.2L1240 1335.3L1241.8 1331L1244.8 1337.9L1246 1337.5L1251.5 1338.2L1253 1222.5L1254 1222.5L1254.2 1223.5L1255.2 1334.9L1255.5 1338.8L1257 1339L1257.8 1302.4L1258.5 1180.6L1258.8 1179.2L1259.8 1179.2L1260.8 1302.4L1261.5 1339.6L1262.2 1339.7L1262.5 1338.9L1265.4 1326.7L1268.8 1340.8L1282.8 1343.2L1283.2 1326.8L1284 1248.1L1284.2 1247.2L1285.2 1247.2L1286.8 1343.6L1287.3 1343.6L1287.5 1341.7L1290.7 1312.7L1294 1344.3L1303.8 1345L1304.2 1331L1305 1259.5L1305.2 1258.8L1306.2 1258.8L1307.5 1335.6L1311.2 1290.8L1315.7 1345L1317 1345L1318 1340L1321 1250L1325 1200L1327 1106L1329 1200L1332 1300L1334 1341L1335 1341L1336 1277.2L1337.2 988L1338.2 988L1338.5 990.6L1339.2 1233.5L1340.2 1331.6L1342.6 1324.8L1348.3 1341L1350.8 1341L1351.5 1298.7L1352.8 1075.2L1353.8 1075.2L1354 1077.3L1354.8 1264.9L1355.5 1321.1L1358.1 1297.6L1362.9 1340.7L1368.8 1324.8L1373.2 1337.1L1377.4 1293L1379.2 1312.8L1380 1259.5L1380.2 1258.8L1381.2 1258.8L1382.5 1335.5L1386.8 1306.8L1387.2 1309.5L1387.5 1301.5L1387.8 1301L1388.8 1301L1389.5 1324.3L1391.8 1339.2L1396.6 1285.2L1399.2 1316.1L1400 1258.3L1400.2 1257.5L1401.4 1257.5L1402.5 1335.4L1407.3 1310.5L1409 1319.2L1409.2 1318.3L1410 1224.5L1410.2 1223.5L1411.2 1223.5L1412.8 1338.6L1413.2 1341L1416 1341L1421.1 1308.2L1425 1331.5L1426 1246.7L1427.2 864L1428.2 864L1428.5 867.5L1429.2 1188.9L1429.8 1282.5L1430.5 1331.5L1434.8 1287.5L1435.8 1297.3L1436.2 1248.4L1436.5 1247.5L1437.5 1247.5L1438.5 1326.9L1440.2 1345.9L1441 1323.6L1441.5 1281L1442.8 1003.5L1443.9 1003.5L1444 1006L1444.8 1239.1L1445.8 1334.8L1446 1340.5L1449.5 1324.4L1454.8 1348.3L1455.8 1303.6L1457 1095.2L1458 1095.2L1458.2 1097.2L1459 1272.1L1459.5 1313.9L1460.5 1303L1464 1341.8L1464.2 1341.3L1465 1288.1L1465.2 1287.5L1466.2 1287.5L1466.5 1288.1L1467.5 1348.4L1469.6 1348.1L1473.8 1287.8L1474.5 1232.2L1475.5 1232.2L1475.8 1233.2L1476.5 1321.4L1476.8 1330.7L1477.9 1347.1L1478.3 1347.1L1478.5 1345.3L1483 1292.3L1487 1339.4L1488.2 1321L1488.8 1285.6L1489 1285L1490 1285L1490.5 1287.8L1490.7 1285L1495 1347.2L1498.9 1301.4L1499 1303L1500 1138.9L1500.2 1137.2L1501.2 1137.2L1502.5 1313.9L1503.2 1348.2L1503.5 1349.8L1510 1350.5L1510.2 1350.1L1511.2 1273.2L1511.5 1272.5L1512.5 1272.5L1513.5 1321.2L1514.5 1312.7L1518.8 1351L1519.3 1351.5L1524.1 1300.7L1525 1310.7L1525.2 1305.8L1526.2 1106.1L1526.5 1104.2L1527.5 1104.2L1528.5 1275.4L1529.2 1336.8L1529.5 1337.9L1532.5 1323.2L1533.2 1327.1L1533.8 1300.5L1534 1300L1535 1300L1536 1340.8L1538.5 1353.6L1539.5 1353.7L1540.2 1335.4L1540.8 1303.1L1542 1093.5L1543 1093.5L1543.2 1095.4L1544.2 1303.1L1544.5 1311L1548 1350.7L1552.3 1300.4L1556 1344.4L1556 1338.2L1561.9 1276.1L1567.2 1332.1L1567.5 1333.4L1569.1 1332L1569.2 1326.3L1570.5 1315L1571.5 1241L1572.5 1241L1572.8 1241.9L1573.2 1290.2L1574.2 1281.6L1577.8 1313.5L1581.7 1298.8L1583.5 1305.9L1584 1305L1585 1305L1585.2 1305.5L1585.5 1313.7L1586.8 1318.6L1592.6 1314.8L1592.8 1311.4L1597.2 1306.3L1598.2 1307.6L1598.8 1285.6L1599 1285L1600 1285L1600.2 1285.6L1600.5 1301L1604 1290L1608 1250L1609 1097.2L1610 1097.2L1610.2 1099.1L1611 1231.1L1613.2 1221L1615 1229.9L1616 1007.2L1617 1007.2L1617.2 1009.8L1618.2 1252.5L1622.2 1291.9L1623.2 1288.8L1623.8 1253.3L1623.9 1252.5L1625 1252.5L1625.2 1253.3L1625.8 1292.4L1630 1305.4L1630 1311.7L1631.8 1301.7L1632.5 1184.8L1632.8 1183.5L1633.8 1183.5L1634 1187.6L1634.8 1292.7L1641.8 1332.8L1642 1336.1L1643 1336.5L1643.8 1285.6L1644 1285L1645 1285L1645.8 1323.1L1650.7 1288.4L1652.2 1299.1L1653.8 1298.8L1654 1299.3L1654.2 1313.1L1658 1339.3L1658 1342.6L1659.5 1343.2L1659.7 1337.4L1666.5 1248.1L1667.2 1144.2L1668.2 1144.2L1668.5 1145.8L1669.2 1289.8L1671.2 1318.2L1671.5 1319L1672.4 1315.8L1672.5 1299.2L1677.7 1241.8L1679.8 1264.4L1680.8 1141L1681.8 1141L1682 1142.6L1683 1290L1688.4 1255.6L1689.5 1262.5L1690.2 1232.5L1691.2 1232.5L1691.5 1233.5L1692 1278.4L1693.8 1289.5L1694.5 1162.5L1694.8 1161L1695.8 1161L1696 1162.5L1697.2 1330L1698.5 1330L1706.2 1266.9L1707.5 1277.9L1707.8 1277.5L1708.8 1277.5L1709 1278.1L1709.2 1292.4L1713.8 1330L1715.2 1330L1716.5 1226L1717.5 1226L1717.8 1227L1718.8 1326.5L1724.2 1297.3L1729.5 1325.3L1734.8 1248.5L1735.8 1248.5L1736 1249.3L1736.5 1287L1739 1325.4L1739.2 1325.6L1744.2 1277.5L1748 1313.5L1749 1237.2L1750 1237.2L1750.2 1238.2L1751 1323.2L1751.8 1350L1753.9 1346.4L1754 1332.1L1760.8 1268.8L1762.2 1282.4L1762.8 1283.1L1763 1289.4L1764.2 1301L1764.5 1301.7L1765.7 1293.8L1770.2 1324.2L1771.5 1324L1773.2 1311.8L1774 1290L1775 1290L1775.2 1290.6L1775.5 1296.8L1778.5 1317L1781 1300.8L1781.2 1294.3L1781.4 1293.8L1782.5 1293.8L1783 1308.4L1785.2 1322L1787.5 1321.6L1791.3 1304.1L1794.5 1318L1795.2 1286.2L1796.2 1286.2L1796.5 1286.8L1797 1309.9L1798.7 1303.3L1800.8 1311L1801.2 1285.6L1801.5 1285L1802.5 1285L1802.8 1285.6L1803 1296.3L1804.6 1276.2L1808 1318.5L1812 1318L1813.5 1322.5L1814.8 1270L1819 1187.5L1823.5 1235L1828.5 1260L1833.5 1275L1841 1283.8L1853.5 1280L1857.8 1301.2L1862.2 1280L1871 1280L1881 1272.5L1886 1260L1889.8 1225L1892.2 1117.5L1896 1049L1899.8 1130L1902.2 1230L1904.8 1278.8L1908.5 1230L1911 1153.8L1914 1230L1917.2 1270L1921 1272.5L1925.5 1266.2L1931 1290L1938.5 1280L1948.5 1275L1956 1267.5L1961 1250L1964.8 1187.5L1967.8 1165L1971 1200L1973.5 1280L1977.2 1295L1981 1255L1982.8 1243.8L1986 1285L1996 1282.5L2002.2 1291.2L2013.5 1287.5L2021.5 1287.5L2024.2 1086.2L2028.5 1265L2032.2 1272.5L2039.8 1261.2L2044.8 1278.8L2056 1278.8L2068.5 1275L2078.5 1270L2084.8 1260L2088.5 1230L2091 1140L2093.5 1105L2097.2 1012L2103.5 1255L2106 1291.2L2118.5 1282.5L2146 1266.2L2156 1257.5L2161 1242.5L2163.5 1200L2166.5 1097.5L2172.2 1230L2176 1260L2178.5 1271.2L2186 1263.8L2193.5 1261.2L2199.8 1267.5L2206 1266.2L2209.8 1250L2212.2 1155L2215.2 1087.5L2218 1160L2219.8 1255L2223.5 1310L2232.2 1288.8L2232.2 1371.6Z" fill="#0f0"/>
<path d="M317 1341L318.8 1317.5L326 1285L327.3 1221L329.6 1200L329.9 1155L334.6 1140L334.8 937L336.6 920L337.8 142L338.2 142L338.8 400L339.6 1320L341.5 1335L345 1347.5L376 1349L382.5 1360L386 1360L387.5 1340L388.5 1200L389.2 956.5L390 1150L391 1250L392.5 1280L395 1297.5L400 1306L407.5 1311L440 1314L458.8 1322.5L461.2 1315.9L461.8 1273.2L462 1272.5L463 1272.5L463.8 1309.3L465 1306L477.5 1312.5L515 1317.5L556 1320.1L556.2 1309.2L556.5 1308.8L557.5 1308.8L558 1320.2L602.5 1322.5L610 1323.2L610.5 1285.6L610.8 1285L611.8 1285L612.5 1323.5L615 1323.8L617.8 1323.1L618 1311.4L618.2 1311L619.2 1311L619.8 1322.7L627.5 1321L665 1325L682.8 1325.9L683 1316.4L683.2 1316L684.2 1316L684.8 1326.2L689.8 1327.5L690.5 1261.8L690.8 1261L691.8 1261L692.8 1328.2L696 1329L696.8 1288.1L697 1287.5L698 1287.5L698.8 1325.9L699 1329.8L699.8 1329.9L700.8 1253.8L702 893L703 893L703.2 896.3L704 1199.3L705 1317.2L706.2 1314L712 1320L713.5 1320.2L714.2 1249.8L714.5 1249L715.5 1249L716.5 1320.6L718.8 1320.9L719.2 1298L719.5 1297.5L720.5 1297.5L721.2 1321.2L723.5 1321.5L724.2 1246.8L725 1027.4L725.2 1025L726.2 1025L727.2 1246.8L728 1322.1L731.2 1322.5L740 1326L744 1326L749.9 1264.1L754.5 1311.6L757.8 1287.2L760.5 1307.4L761.2 1060L761.5 1243.9L762 1317.3L762.5 1312.8L762.8 1295.9L763 1230.4L763.5 822.5L764.5 822.5L765.2 1288L765.5 1285.5L766 1289.6L766.2 1269.7L766.6 1070L767 1286.9L767.2 1300.9L767.8 1305.4L768.4 1056L769 1313.8L769.8 952.2L770.8 952.2L771.2 1260.6L771.5 1313.8L771.8 1325.6L772 1325.5L772.6 1060L773.2 1311.8L774.2 1297.4L774.8 1075L775.2 1283L776 1272.2L776.8 759.2L777.8 759.2L778.5 1282.2L779.2 1293L779.8 1080L780.2 1302.8L781.5 1325.3L782.2 1120L782.8 1325.3L783.5 1325.2L788.2 1304.6L792 1320.6L797.2 1293.9L798.5 1056L799.5 1056L799.8 1058.2L801 1310.3L804 1324.5L810.3 1278.8L811.5 915.4L811.8 912.2L812.9 912.2L813.8 1206.2L814.5 1309.7L815.5 1316.4L817.9 1306.5L821.8 1322.3L826.5 1262.1L831.6 1327.5L835.9 1327.5L841.5 1265.9L844.8 1300.8L845 1300L846.2 1148.5L847.2 1148.5L847.5 1150L848.2 1282.8L851.2 1286.2L854.9 1277.3L856.2 1280.7L856.5 1274.7L857.2 1133.1L858.5 402.5L859.5 402.5L859.8 409.2L860.5 1022.7L861.5 1272.6L862.7 1258.6L867.5 1316.9L867.5 1330.5L868.5 1332.5L868.8 1331.9L869 1318.2L870.2 1069.3L870.5 1067.2L871.5 1067.2L872.5 1262L873.2 1331.9L873.5 1335.6L874.1 1335.2L874.2 1331.5L878.3 1312.9L882 1330.2L882.2 1330.8L884 1332L885 1254.2L886.2 894.8L887.2 894.8L887.5 898L888.5 1254.2L889 1309.5L889.8 1335.8L890.2 1336L894.6 1312.5L899.1 1336L907.8 1336L908 1335.1L909.2 1223.5L910.2 1223.5L910.5 1224.5L911.5 1328.3L914.3 1311.1L918.5 1336L919.8 1336L920.2 1311.4L920.5 1311L921.5 1311L922.2 1336L927.3 1336L930.5 1329.3L931.5 1229.5L931.7 1228.5L932.8 1228.5L934 1331.7L936 1336L942.4 1336L944.8 1331.5L945.2 1306.6L946 1192.2L946.2 1191L947.2 1191L948.8 1335.2L949.2 1336L958.2 1336L959.8 1330.7L960.2 1303L960.5 1302.5L961.7 1302.5L962.2 1325.9L965.1 1336L967 1336L967.5 1323.6L968 1281L969.2 1003.5L970.2 1003.5L970.5 1006L971.2 1239.1L972.2 1334.8L972.5 1336L974.3 1336L978.5 1306L982.8 1336L984.8 1336L985.5 1323.8L986.5 1323.8L986.8 1324.1L987.2 1336L994.5 1336L999.1 1319.3L1003.8 1336L1009.2 1336L1009.5 1334.4L1012.5 1325.6L1013.6 1269.3L1014.2 1144.3L1015.5 448L1016.5 448L1016.8 454.4L1017.8 1144.3L1018.5 1279.2L1019.5 1330.9L1021 1330L1027.1 1334.1L1031.7 1316.4L1032 1316.9L1033 1219.8L1034 1219.8L1034.2 1220.8L1035 1316.9L1035.2 1330.4L1036 1333.1L1050.5 1329.5L1050.5 1328.4L1054.7 1316.9L1058.8 1327.2L1066 1318L1070 1300L1073 1270L1075 1180L1077.2 1110L1079.5 1125L1081 1132L1083 1106L1085.5 1028L1089.2 856L1090 700L1091 20L1093 20L1093.5 327L1095.5 700L1097.8 856L1098 951L1100 1106L1101.5 1131L1104 1230L1108 1248L1111 1252.5L1116 1230L1117.5 1230.6L1118.2 1143L1119.5 875.6L1119.8 874.8L1121 875L1123.2 1134.2L1124.5 1233.4L1128.5 1235L1132.2 1335L1140 1180L1141.2 1201.6L1141.5 1177.3L1143 265L1144 265L1144.2 272.6L1145.5 1177.3L1146.2 1284.3L1147.2 1305L1150 1200L1153.2 1129.8L1154.5 510L1155.5 510L1155.8 515.9L1156.8 1126.2L1158 1125L1160.8 1147.9L1161.2 1022.4L1161.5 1020L1162.5 1020L1162.8 1022.4L1163 1082.3L1163.2 1012.5L1163.5 1010L1164.5 1010L1164.8 1012.5L1165.2 885.6L1165.5 882.2L1166.5 882.2L1167.5 1163.6L1167.8 1164.2L1168.2 1002.6L1168.5 1000L1169.5 1000L1169.8 1002.6L1170.5 1170.8L1171.2 981.2L1171.5 978.5L1172.5 978.5L1172.8 981.2L1173.8 1274.8L1174.8 1320L1180.8 1317.3L1181.8 1252.5L1182.8 1252.5L1183 1253.3L1183.8 1316L1186 1315L1187.5 1311.5L1187.8 1310L1188.8 1150L1189.5 760.2L1189.8 756L1190.8 756L1191.8 1150L1192.5 1291.4L1192.8 1299.2L1193.5 1297.5L1196.8 1294.2L1197.8 1124L1198 1122.2L1199 1122.2L1200.2 1290.8L1201 1290L1206 1348.8L1208.5 1347.2L1208.8 1345.4L1209.5 1318.1L1210.2 1223.8L1211.2 961L1212.2 961L1212.5 963.8L1213.5 1270.5L1214 1318.1L1214.8 1343.3L1216 1342.5L1236 1342.5L1236.8 1342.1L1238 1272.5L1239 1272.5L1239.2 1273.2L1240 1335.3L1241.8 1331L1244.8 1337.9L1246 1337.5L1251.5 1338.2L1253 1222.5L1254 1222.5L1254.2 1223.5L1255.2 1334.9L1255.5 1338.8L1257 1339L1257.8 1302.4L1258.5 1180.6L1258.8 1179.2L1259.8 1179.2L1260.8 1302.4L1261.5 1339.6L1262.2 1339.7L1262.5 1338.9L1265.4 1326.7L1268.8 1340.8L1282.8 1343.2L1283.2 1326.8L1284 1248.1L1284.2 1247.2L1285.2 1247.2L1286.8 1343.6L1287.3 1343.6L1287.5 1341.7L1290.7 1312.7L1294 1344.3L1303.8 1345L1304.2 1331L1305 1259.5L1305.2 1258.8L1306.2 1258.8L1307.5 1335.6L1311.2 1290.8L1315.7 1345L1317 1345L1318 1340L1321 1250L1325 1200L1327 1106L1329 1200L1332 1300L1334 1341L1335 1341L1336 1277.2L1337.2 988L1338.2 988L1338.5 990.6L1339.2 1233.5L1340.2 1331.6L1342.6 1324.8L1348.3 1341L1350.8 1341L1351.5 1298.7L1352.8 1075.2L1353.8 1075.2L1354 1077.3L1354.8 1264.9L1355.5 1321.1L1358.1 1297.6L1362.9 1340.7L1368.8 1324.8L1373.2 1337.1L1377.4 1293L1379.2 1312.8L1380 1259.5L1380.2 1258.8L1381.2 1258.8L1382.5 1335.5L1386.8 1306.8L1387.2 1309.5L1387.5 1301.5L1387.8 1301L1388.8 1301L1389.5 1324.3L1391.8 1339.2L1396.6 1285.2L1399.2 1316.1L1400 1258.3L1400.2 1257.5L1401.4 1257.5L1402.5 1335.4L1407.3 1310.5L1409 1319.2L1409.2 1318.3L1410 1224.5L1410.2 1223.5L1411.2 1223.5L1412.8 1338.6L1413.2 1341L1416 1341L1421.1 1308.2L1425 1331.5L1426 1246.7L1427.2 864L1428.2 864L1428.5 867.5L1429.2 1188.9L1429.8 1282.5L1430.5 1331.5L1434.8 1287.5L1435.8 1297.3L1436.2 1248.4L1436.5 1247.5L1437.5 1247.5L1438.5 1326.9L1440.2 1345.9L1441 1323.6L1441.5 1281L1442.8 1003.5L1443.9 1003.5L1444 1006L1444.8 1239.1L1445.8 1334.8L1446 1340.5L1449.5 1324.4L1454.8 1348.3L1455.8 1303.6L1457 1095.2L1458 1095.2L1458.2 1097.2L1459 1272.1L1459.5 1313.9L1460.5 1303L1464 1341.8L1464.2 1341.3L1465 1288.1L1465.2 1287.5L1466.2 1287.5L1466.5 1288.1L1467.5 1348.4L1469.6 1348.1L1473.8 1287.8L1474.5 1232.2L1475.5 1232.2L1475.8 1233.2L1476.5 1321.4L1476.8 1330.7L1477.9 1347.1L1478.3 1347.1L1478.5 1345.3L1483 1292.3L1487 1339.4L1488.2 1321L1488.8 1285.6L1489 1285L1490 1285L1490.5 1287.8L1490.7 1285L1495 1347.2L1498.9 1301.4L1499 1303L1500 1138.9L1500.2 1137.2L1501.2 1137.2L1502.5 1313.9L1503.2 1348.2L1503.5 1349.8L1510 1350.5L1510.2 1350.1L1511.2 1273.2L1511.5 1272.5L1512.5 1272.5L1513.5 1321.2L1514.5 1312.7L1518.8 1351L1519.3 1351.5L1524.1 1300.7L1525 1310.7L1525.2 1305.8L1526.2 1106.1L1526.5 1104.2L1527.5 1104.2L1528.5 1275.4L1529.2 1336.8L1529.5 1337.9L1532.5 1323.2L1533.2 1327.1L1533.8 1300.5L1534 1300L1535 1300L1536 1340.8L1538.5 1353.6L1539.5 1353.7L1540.2 1335.4L1540.8 1303.1L1542 1093.5L1543 1093.5L1543.2 1095.4L1544.2 1303.1L1544.5 1311L1548 1350.7L1552.3 1300.4L1556 1344.4L1556 1338.2L1561.9 1276.1L1567.2 1332.1L1567.5 1333.4L1569.1 1332L1569.2 1326.3L1570.5 1315L1571.5 1241L1572.5 1241L1572.8 1241.9L1573.2 1290.2L1574.2 1281.6L1577.8 1313.5L1581.7 1298.8L1583.5 1305.9L1584 1305L1585 1305L1585.2 1305.5L1585.5 1313.7L1586.8 1318.6L1592.6 1314.8L1592.8 1311.4L1597.2 1306.3L1598.2 1307.6L1598.8 1285.6L1599 1285L1600 1285L1600.2 1285.6L1600.5 1301L1604 1290L1608 1250L1609 1097.2L1610 1097.2L1610.2 1099.1L1611 1231.1L1613.2 1221L1615 1229.9L1616 1007.2L1617 1007.2L1617.2 1009.8L1618.2 1252.5L1622.2 1291.9L1623.2 1288.8L1623.8 1253.3L1623.9 1252.5L1625 1252.5L1625.2 1253.3L1625.8 1292.4L1630 1305.4L1630 1311.7L1631.8 1301.7L1632.5 1184.8L1632.8 1183.5L1633.8 1183.5L1634 1187.6L1634.8 1292.7L1641.8 1332.8L1642 1336.1L1643 1336.5L1643.8 1285.6L1644 1285L1645 1285L1645.8 1323.1L1650.7 1288.4L1652.2 1299.1L1653.8 1298.8L1654 1299.3L1654.2 1313.1L1658 1339.3L1658 1342.6L1659.5 1343.2L1659.7 1337.4L1666.5 1248.1L1667.2 1144.2L1668.2 1144.2L1668.5 1145.8L1669.2 1289.8L1671.2 1318.2L1671.5 1319L1672.4 1315.8L1672.5 1299.2L1677.7 1241.8L1679.8 1264.4L1680.8 1141L1681.8 1141L1682 1142.6L1683 1290L1688.4 1255.6L1689.5 1262.5L1690.2 1232.5L1691.2 1232.5L1691.5 1233.5L1692 1278.4L1693.8 1289.5L1694.5 1162.5L1694.8 1161L1695.8 1161L1696 1162.5L1697.2 1330L1698.5 1330L1706.2 1266.9L1707.5 1277.9L1707.8 1277.5L1708.8 1277.5L1709 1278.1L1709.2 1292.4L1713.8 1330L1715.2 1330L1716.5 1226L1717.5 1226L1717.8 1227L1718.8 1326.5L1724.2 1297.3L1729.5 1325.3L1734.8 1248.5L1735.8 1248.5L1736 1249.3L1736.5 1287L1739 1325.4L1739.2 1325.6L1744.2 1277.5L1748 1313.5L1749 1237.2L1750 1237.2L1750.2 1238.2L1751 1323.2L1751.8 1350L1753.9 1346.4L1754 1332.1L1760.8 1268.8L1762.2 1282.4L1762.8 1283.1L1763 1289.4L1764.2 1301L1764.5 1301.7L1765.7 1293.8L1770.2 1324.2L1771.5 1324L1773.2 1311.8L1774 1290L1775 1290L1775.2 1290.6L1775.5 1296.8L1778.5 1317L1781 1300.8L1781.2 1294.3L1781.4 1293.8L1782.5 1293.8L1783 1308.4L1785.2 1322L1787.5 1321.6L1791.3 1304.1L1794.5 1318L1795.2 1286.2L1796.2 1286.2L1796.5 1286.8L1797 1309.9L1798.7 1303.3L1800.8 1311L1801.2 1285.6L1801.5 1285L1802.5 1285L1802.8 1285.6L1803 1296.3L1804.6 1276.2L1808 1318.5L1812 1318L1813.5 1322.5L1814.8 1270L1819 1187.5L1823.5 1235L1828.5 1260L1833.5 1275L1841 1283.8L1853.5 1280L1857.8 1301.2L1862.2 1280L1871 1280L1881 1272.5L1886 1260L1889.8 1225L1892.2 1117.5L1896 1049L1899.8 1130L1902.2 1230L1904.8 1278.8L1908.5 1230L1911 1153.8L1914 1230L1917.2 1270L1921 1272.5L1925.5 1266.2L1931 1290L1938.5 1280L1948.5 1275L1956 1267.5L1961 1250L1964.8 1187.5L1967.8 1165L1971 1200L1973.5 1280L1977.2 1295L1981 1255L1982.8 1243.8L1986 1285L1996 1282.5L2002.2 1291.2L2013.5 1287.5L2021.5 1287.5L2024.2 1086.2L2028.5 1265L2032.2 1272.5L2039.8 1261.2L2044.8 1278.8L2056 1278.8L2068.5 1275L2078.5 1270L2084.8 1260L2088.5 1230L2091 1140L2093.5 1105L2097.2 1012L2103.5 1255L2106 1291.2L2118.5 1282.5L2146 1266.2L2156 1257.5L2161 1242.5L2163.5 1200L2166.5 1097.5L2172.2 1230L2176 1260L2178.5 1271.2L2186 1263.8L2193.5 1261.2L2199.8 1267.5L2206 1266.2L2209.8 1250L2212.2 1155L2215.2 1087.5L2218 1160L2219.8 1255L2223.5 1310L2232.2 1288.8" fill="none" stroke="#f00" stroke-width="4.7" stroke-linejoin="bevel"/>
</g>
<g stroke="#000" stroke-width="4" fill="none" shape-rendering="crispEdges">
<rect x="194.8" y="40.1" width="2039.3" height="1426.9"/>
<path d="M263 40.1v42M263 1467v-42M398.9 40.1v22M398.9 1467v-22M534.9 40.1v42M534.9 1467v-42M670.8 40.1v22M670.8 1467v-22M806.8 40.1v42M806.8 1467v-42M942.8 40.1v22M942.8 1467v-22M1078.7 40.1v42M1078.7 1467v-42M1214.6 40.1v22M1214.6 1467v-22M1350.6 40.1v42M1350.6 1467v-42M1486.5 40.1v22M1486.5 1467v-22M1622.5 40.1v42M1622.5 1467v-42M1758.4 40.1v22M1758.4 1467v-22M1894.4 40.1v42M1894.4 1467v-42M2030.3 40.1v22M2030.3 1467v-22M2166.3 40.1v42M2166.3 1467v-42M194.8 230.5h42M2234.1 230.5h-42M194.8 421.2h42M2234.1 421.2h-42M194.8 611.8h42M2234.1 611.8h-42M194.8 800.2h42M2234.1 800.2h-42M194.8 991h42M2234.1 991h-42M194.8 1181.2h42M2234.1 1181.2h-42M194.8 1371.2h42M2234.1 1371.2h-42M194.8 135h22M2234.1 135h-22M194.8 326.2h22M2234.1 326.2h-22M194.8 516h22M2234.1 516h-22M194.8 707.2h22M2234.1 707.2h-22M194.8 895.2h22M2234.1 895.2h-22M194.8 1086h22M2234.1 1086h-22M194.8 1276.2h22M2234.1 1276.2h-22"/>
</g>
<g font-family="'Liberation Sans', sans-serif" fill="#000">
<text transform="translate(263.6 1528.6) scale(0.9620 1)" font-size="60.3" text-anchor="middle">42</text>
<text transform="translate(535.5 1528.6) scale(0.9620 1)" font-size="60.3" text-anchor="middle">44</text>
<text transform="translate(807.4 1528.6) scale(0.9620 1)" font-size="60.3" text-anchor="middle">46</text>
<text transform="translate(1079.3 1528.6) scale(0.9620 1)" font-size="60.3" text-anchor="middle">48</text>
<text transform="translate(1351.2 1528.6) scale(0.9620 1)" font-size="60.3" text-anchor="middle">50</text>
<text transform="translate(1623.1 1528.6) scale(0.9620 1)" font-size="60.3" text-anchor="middle">52</text>
<text transform="translate(1895 1528.6) scale(0.9620 1)" font-size="60.3" text-anchor="middle">54</text>
<text transform="translate(2166.9 1528.6) scale(0.9620 1)" font-size="60.3" text-anchor="middle">56</text>
<text transform="translate(177.2 61) scale(0.9700 1)" font-size="60.5" text-anchor="end">7</text>
<text transform="translate(177.2 251.1) scale(0.9700 1)" font-size="60.5" text-anchor="end">6</text>
<text transform="translate(177.2 441.9) scale(0.9700 1)" font-size="60.5" text-anchor="end">5</text>
<text transform="translate(177.2 632.4) scale(0.9700 1)" font-size="60.5" text-anchor="end">4</text>
<text transform="translate(177.2 820.8) scale(0.9700 1)" font-size="60.5" text-anchor="end">3</text>
<text transform="translate(177.2 1011.6) scale(0.9700 1)" font-size="60.5" text-anchor="end">2</text>
<text transform="translate(177.2 1201.8) scale(0.9700 1)" font-size="60.5" text-anchor="end">1</text>
<text transform="translate(177.2 1391.8) scale(0.9700 1)" font-size="60.5" text-anchor="end">0</text>
<text transform="translate(786 1622.8) scale(0.9308 1)" font-size="107">Photon energy (eV)</text>
<text transform="translate(103.9 1197.2) rotate(-90) scale(0.9349 1)" font-size="107.4">Cross secction (Mb)</text>
<rect x="1214" y="142.2" width="962" height="245.8" fill="#fff" stroke="#000" stroke-width="4" shape-rendering="crispEdges"/>
<path d="M1246.75 190H1328.5" stroke="#000" stroke-width="4"/>
<circle cx="1246.75" cy="190" r="10.6" fill="#0ff" stroke="#000" stroke-width="4.2"/>
<circle cx="1328.5" cy="190" r="10.6" fill="#0ff" stroke="#000" stroke-width="4.2"/>
<circle cx="1287.25" cy="265" r="20.6" fill="#f0f" stroke="#000" stroke-width="4"/>
<path d="M1244 340.5H1329" stroke="#f00" stroke-width="5"/>
<text transform="translate(1369.1 204.5) scale(0.9390 1)" font-size="61.5">EXPT (ALS)</text>
<text transform="translate(1369.1 279.6) scale(0.9380 1)" font-size="61.5">EXPT (ALS: Absolute)</text>
<text transform="translate(1368.2 355.6) scale(0.9413 1)" font-size="61.5">THEORY (DARC:Total 299CC)</text>
<text transform="translate(447.4 372.7) scale(0.9290 1)" font-size="201">Se</text>
<text transform="translate(673.5 259.6) scale(0.9755 1)" font-size="136.4">3</text>
<text transform="translate(747 272.6) scale(0.9755 1)" font-size="136.4">+</text>
<text transform="translate(1512.9 801) scale(0.9330 1)" font-size="107.2">Δ</text>
<text transform="translate(1579.3 801) scale(0.9257 1)" font-size="107.2">E = 20 meV</text>
<text transform="translate(1215.7 548.4) scale(0.9830 1)" font-size="70.7">Total</text>
<text transform="translate(1360 548.4) scale(0.9250 1)" font-size="70.7">=1/3*σ(</text>
<text transform="translate(1578.9 507.9)" font-size="47.8">2</text>
<text transform="translate(1605.6 548.4) scale(0.9360 1)" font-size="70.7">P</text>
<text transform="translate(1649.8 508.4) scale(0.9900 1)" font-size="47.8">o</text>
<text transform="translate(1676.4 574.1) scale(0.9640 1)" font-size="47.8">1/2</text>
<text transform="translate(1740.4 548.4) scale(0.9220 1)" font-size="70.7">) + 2/3*σ(</text>
<text transform="translate(2015.3 507.9)" font-size="47.8">2</text>
<text transform="translate(2040.8 548.4) scale(0.9360 1)" font-size="70.7">P</text>
<text transform="translate(2085.5 508.4) scale(0.9900 1)" font-size="47.8">o</text>
<text transform="translate(2111.2 574.1) scale(0.9640 1)" font-size="47.8">3/2</text>
<text transform="translate(2177.4 548.4) scale(0.9000 1)" font-size="70.7">)</text>
</g>
</svg>
</body></html>
